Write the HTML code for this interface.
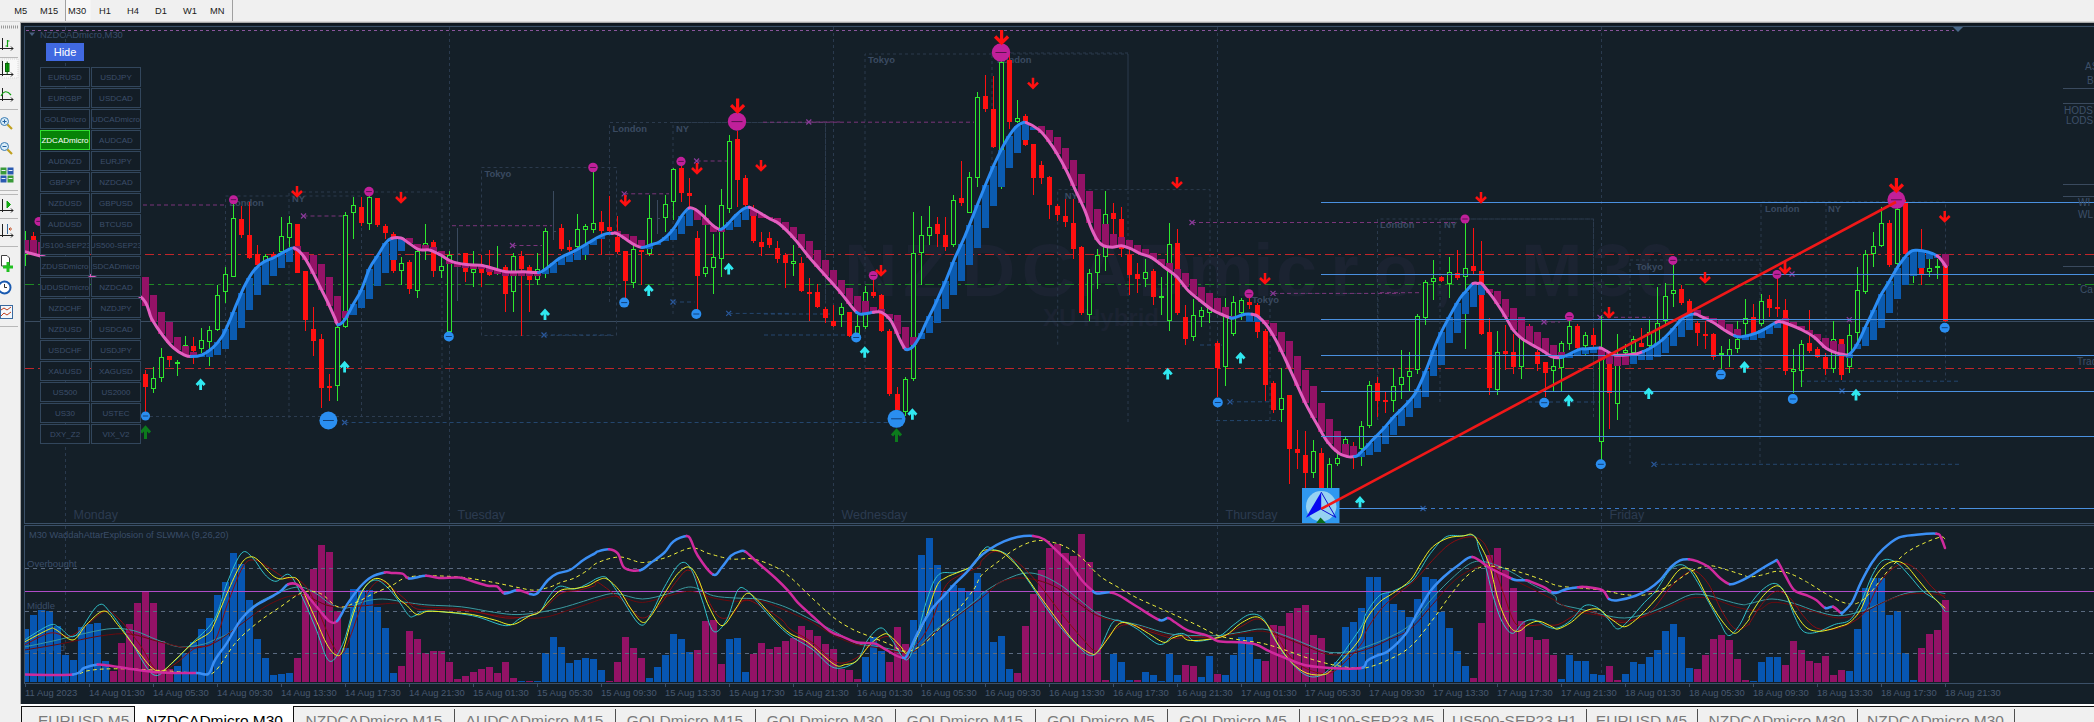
<!DOCTYPE html>
<html><head><meta charset="utf-8"><style>
html,body{margin:0;padding:0;width:2094px;height:722px;overflow:hidden;background:#f0f0f0;}
svg{position:absolute;left:0;top:0;display:block;}
text{font-family:"Liberation Sans",sans-serif;}
</style></head><body>
<svg width="2094" height="722" viewBox="0 0 2094 722"><rect x="0" y="0" width="2094" height="722" fill="#f0f0f0"/><rect x="21" y="23" width="2073" height="681" fill="#141f28"/><g shape-rendering="crispEdges"><rect x="0" y="21" width="2094" height="1" fill="#d8d8d8"/><rect x="21" y="22" width="2073" height="1" fill="#a8a8a8"/><rect x="21" y="23" width="2073" height="2" fill="#0f1720"/><rect x="20" y="22" width="1" height="682" fill="#a8a8a8"/><rect x="24.5" y="26.5" width="2094" height="497" fill="none" stroke="#3b5068" stroke-width="1"/><rect x="24.5" y="525.5" width="2094" height="158" fill="none" stroke="#3b5068" stroke-width="1"/></g><defs><clipPath id="pc"><rect x="25" y="27" width="2100" height="496"/></clipPath><clipPath id="ic"><rect x="25" y="526" width="2100" height="157"/></clipPath></defs><g clip-path="url(#pc)"><text x="844 903 962 1021.5 1079 1138 1188 1253 1276 1330 1373 1432 1521 1592 1636" y="295.5" font-family="Liberation Sans" font-weight="bold" font-size="74" fill="#1b2331">NZDCADmicro,M30</text><text x="1043" y="326" font-family="Liberation Sans" font-weight="bold" font-size="24" fill="#1b2331">XU Hybrid</text><line x1="65.5" y1="27" x2="65.5" y2="523" stroke="#2a3a4e" stroke-width="1" stroke-dasharray="3,3"/><line x1="449.5" y1="27" x2="449.5" y2="523" stroke="#2a3a4e" stroke-width="1" stroke-dasharray="3,3"/><line x1="833.5" y1="27" x2="833.5" y2="523" stroke="#2a3a4e" stroke-width="1" stroke-dasharray="3,3"/><line x1="1217.5" y1="27" x2="1217.5" y2="523" stroke="#2a3a4e" stroke-width="1" stroke-dasharray="3,3"/><line x1="1601.5" y1="27" x2="1601.5" y2="523" stroke="#2a3a4e" stroke-width="1" stroke-dasharray="3,3"/><line x1="26" y1="30.5" x2="1954" y2="30.5" stroke="#8a559c" stroke-width="1" stroke-dasharray="3,3"/><line x1="25" y1="254.5" x2="2094" y2="254.5" stroke="#c0262a" stroke-width="1" stroke-dasharray="9,4,3,4"/><line x1="25" y1="284.5" x2="2094" y2="284.5" stroke="#1f8a24" stroke-width="1" stroke-dasharray="9,4,3,4"/><line x1="25" y1="321.5" x2="2094" y2="321.5" stroke="#3a4c60" stroke-width="1"/><line x1="25" y1="368.5" x2="2094" y2="368.5" stroke="#c0262a" stroke-width="1" stroke-dasharray="9,4,3,4"/><path d="M225.5 418 V196 H361.5 V418" fill="none" stroke="#2b3a4d" stroke-width="1" stroke-dasharray="3,3"/><path d="M289 418 V192 H442 V418" fill="none" stroke="#2b3a4d" stroke-width="1" stroke-dasharray="3,3"/><path d="M481.5 335.5 V167.5 H616.5 V335.5 H481.5" fill="none" stroke="#2b3a4d" stroke-width="1" stroke-dasharray="3,3"/><path d="M609.5 302 V122.5 H825.5 V302" fill="none" stroke="#2b3a4d" stroke-width="1" stroke-dasharray="3,3"/><path d="M673 314 V122.5 H825.5 V314" fill="none" stroke="#2b3a4d" stroke-width="1" stroke-dasharray="3,3"/><path d="M865 422 V54 H1128 V422" fill="none" stroke="#2b3a4d" stroke-width="1" stroke-dasharray="3,3"/><path d="M992 190 V53 H1128 V190" fill="none" stroke="#2b3a4d" stroke-width="1" stroke-dasharray="3,3"/><path d="M1057.7 344.7 V189.6 H1210 V344.7" fill="none" stroke="#2b3a4d" stroke-width="1" stroke-dasharray="3,3"/><path d="M1270 420 V293.5 H1378 V420" fill="none" stroke="#2b3a4d" stroke-width="1" stroke-dasharray="3,3"/><path d="M1377.5 420 V219 H1593.5 V420" fill="none" stroke="#2b3a4d" stroke-width="1" stroke-dasharray="3,3"/><path d="M1440 402 V219 H1593.5 V402" fill="none" stroke="#2b3a4d" stroke-width="1" stroke-dasharray="3,3"/><path d="M1630 464 V260 H1760 V464" fill="none" stroke="#2b3a4d" stroke-width="1" stroke-dasharray="3,3"/><path d="M1761 399 V202 H1897.5 V399" fill="none" stroke="#2b3a4d" stroke-width="1" stroke-dasharray="3,3"/><path d="M1826 380 V202 H1945.5 V380" fill="none" stroke="#2b3a4d" stroke-width="1" stroke-dasharray="3,3"/><text x="229.4" y="206" font-family="Liberation Sans" font-weight="bold" font-size="9.4" fill="#3a4a61">London</text><text x="292" y="202" font-family="Liberation Sans" font-weight="bold" font-size="9.4" fill="#3a4a61">NY</text><text x="484.4" y="177" font-family="Liberation Sans" font-weight="bold" font-size="9.4" fill="#3a4a61">Tokyo</text><text x="612.5" y="131.5" font-family="Liberation Sans" font-weight="bold" font-size="9.4" fill="#3a4a61">London</text><text x="676" y="131.5" font-family="Liberation Sans" font-weight="bold" font-size="9.4" fill="#3a4a61">NY</text><text x="868" y="63" font-family="Liberation Sans" font-weight="bold" font-size="9.4" fill="#3a4a61">Tokyo</text><text x="997" y="63" font-family="Liberation Sans" font-weight="bold" font-size="9.4" fill="#3a4a61">London</text><text x="1064.8" y="199" font-family="Liberation Sans" font-weight="bold" font-size="9.4" fill="#3a4a61">NY</text><text x="1252" y="302.5" font-family="Liberation Sans" font-weight="bold" font-size="9.4" fill="#3a4a61">Tokyo</text><text x="1380" y="228" font-family="Liberation Sans" font-weight="bold" font-size="9.4" fill="#3a4a61">London</text><text x="1444" y="228" font-family="Liberation Sans" font-weight="bold" font-size="9.4" fill="#3a4a61">NY</text><text x="1636" y="269.5" font-family="Liberation Sans" font-weight="bold" font-size="9.4" fill="#3a4a61">Tokyo</text><text x="1765" y="212" font-family="Liberation Sans" font-weight="bold" font-size="9.4" fill="#3a4a61">London</text><text x="1828" y="212" font-family="Liberation Sans" font-weight="bold" font-size="9.4" fill="#3a4a61">NY</text><line x1="143" y1="205" x2="225.6" y2="205" stroke="#7a357a" stroke-width="1" stroke-dasharray="4,3"/><line x1="303.5" y1="216" x2="343" y2="216" stroke="#7a357a" stroke-width="1" stroke-dasharray="4,3"/><line x1="452" y1="225.7" x2="552" y2="225.7" stroke="#7a357a" stroke-width="1" stroke-dasharray="4,3"/><line x1="512.5" y1="245.5" x2="542" y2="245.5" stroke="#7a357a" stroke-width="1" stroke-dasharray="4,3"/><line x1="624.2" y1="193.8" x2="669" y2="193.8" stroke="#7a357a" stroke-width="1" stroke-dasharray="4,3"/><line x1="696.6" y1="161" x2="727" y2="161" stroke="#7a357a" stroke-width="1" stroke-dasharray="4,3"/><line x1="763" y1="122.2" x2="974" y2="122.2" stroke="#7a357a" stroke-width="1" stroke-dasharray="4,3"/><line x1="808.8" y1="122" x2="840" y2="122" stroke="#7a357a" stroke-width="1" stroke-dasharray="4,3"/><line x1="1192" y1="222.5" x2="1458" y2="222.5" stroke="#7a357a" stroke-width="1" stroke-dasharray="4,3"/><line x1="1273" y1="293.4" x2="1400" y2="293.4" stroke="#7a357a" stroke-width="1" stroke-dasharray="4,3"/><line x1="1544" y1="322" x2="1560" y2="322" stroke="#7a357a" stroke-width="1" stroke-dasharray="4,3"/><line x1="1600" y1="317.3" x2="1650" y2="317.3" stroke="#7a357a" stroke-width="1" stroke-dasharray="4,3"/><line x1="1380" y1="292.7" x2="1422" y2="292.7" stroke="#7a357a" stroke-width="1" stroke-dasharray="4,3"/><path d="M301.0 213.5 L306.0 218.5 M301.0 218.5 L306.0 213.5" stroke="#8a3a9a" stroke-width="1.2"/><path d="M510.0 243.0 L515.0 248.0 M510.0 248.0 L515.0 243.0" stroke="#8a3a9a" stroke-width="1.2"/><path d="M621.7 191.3 L626.7 196.3 M621.7 196.3 L626.7 191.3" stroke="#8a3a9a" stroke-width="1.2"/><path d="M694.1 158.5 L699.1 163.5 M694.1 163.5 L699.1 158.5" stroke="#8a3a9a" stroke-width="1.2"/><path d="M806.3 119.5 L811.3 124.5 M806.3 124.5 L811.3 119.5" stroke="#8a3a9a" stroke-width="1.2"/><path d="M1189.5 220.0 L1194.5 225.0 M1189.5 225.0 L1194.5 220.0" stroke="#8a3a9a" stroke-width="1.2"/><path d="M1270.5 290.9 L1275.5 295.9 M1270.5 295.9 L1275.5 290.9" stroke="#8a3a9a" stroke-width="1.2"/><path d="M1541.5 319.5 L1546.5 324.5 M1541.5 324.5 L1546.5 319.5" stroke="#8a3a9a" stroke-width="1.2"/><path d="M1597.5 314.8 L1602.5 319.8 M1597.5 319.8 L1602.5 314.8" stroke="#8a3a9a" stroke-width="1.2"/><path d="M1789.5 271.5 L1794.5 276.5 M1789.5 276.5 L1794.5 271.5" stroke="#8a3a9a" stroke-width="1.2"/><path d="M1846.8 317.2 L1851.8 322.2 M1846.8 322.2 L1851.8 317.2" stroke="#8a3a9a" stroke-width="1.2"/><path d="M541.5 332.5 L546.5 337.5 M541.5 337.5 L546.5 332.5" stroke="#2a5aa0" stroke-width="1.2"/><path d="M342.1 420.0 L347.1 425.0 M342.1 425.0 L347.1 420.0" stroke="#2a5aa0" stroke-width="1.2"/><path d="M670.5 299.5 L675.5 304.5 M670.5 304.5 L675.5 299.5" stroke="#2a5aa0" stroke-width="1.2"/><path d="M726.2 310.9 L731.2 315.9 M726.2 315.9 L731.2 310.9" stroke="#2a5aa0" stroke-width="1.2"/><path d="M1227.5 399.3 L1232.5 404.3 M1227.5 404.3 L1232.5 399.3" stroke="#2a5aa0" stroke-width="1.2"/><path d="M1651.5 461.8 L1656.5 466.8 M1651.5 466.8 L1656.5 461.8" stroke="#2a5aa0" stroke-width="1.2"/><path d="M1420.5 506.0 L1425.5 511.0 M1420.5 511.0 L1425.5 506.0" stroke="#2a5aa0" stroke-width="1.2"/><path d="M1839.5 388.5 L1844.5 393.5 M1839.5 393.5 L1844.5 388.5" stroke="#2a5aa0" stroke-width="1.2"/><line x1="150" y1="416.5" x2="442" y2="416.5" stroke="#2c3c50" stroke-width="1" stroke-dasharray="3,3"/><line x1="544" y1="335" x2="612" y2="335" stroke="#24466e" stroke-width="1" stroke-dasharray="4,3"/><line x1="673" y1="302" x2="694.5" y2="302" stroke="#24466e" stroke-width="1" stroke-dasharray="4,3"/><line x1="728.7" y1="313.4" x2="790" y2="313.4" stroke="#24466e" stroke-width="1" stroke-dasharray="4,3"/><line x1="764" y1="314" x2="830" y2="314" stroke="#24466e" stroke-width="1" stroke-dasharray="4,3"/><line x1="764" y1="335" x2="860" y2="335" stroke="#24466e" stroke-width="1" stroke-dasharray="4,3"/><line x1="344.6" y1="422.5" x2="896" y2="422.5" stroke="#24466e" stroke-width="1" stroke-dasharray="4,3"/><line x1="1216" y1="420.6" x2="1280" y2="420.6" stroke="#24466e" stroke-width="1" stroke-dasharray="4,3"/><line x1="1230" y1="401.8" x2="1280" y2="401.8" stroke="#24466e" stroke-width="1" stroke-dasharray="4,3"/><line x1="1528" y1="402" x2="1600" y2="402" stroke="#24466e" stroke-width="1" stroke-dasharray="4,3"/><line x1="1654" y1="464.3" x2="1960" y2="464.3" stroke="#24466e" stroke-width="1" stroke-dasharray="4,3"/><line x1="1800" y1="381.2" x2="1961" y2="381.2" stroke="#24466e" stroke-width="1" stroke-dasharray="4,3"/><line x1="1200" y1="345" x2="1222" y2="345" stroke="#24466e" stroke-width="1" stroke-dasharray="4,3"/><g shape-rendering="crispEdges"><rect x="25" y="231" width="1" height="35" fill="#2ee82e"/><rect x="23.5" y="240.5" width="4" height="14" fill="#141f28" stroke="#2ee82e" stroke-width="1"/><rect x="33" y="232" width="1" height="16" fill="#ff1010"/><rect x="31" y="236" width="5" height="9" fill="#ff1010"/><rect x="145" y="370" width="1" height="44" fill="#ff1010"/><rect x="143" y="374" width="5" height="13" fill="#ff1010"/><rect x="153" y="367" width="1" height="25.6" fill="#2ee82e"/><rect x="151.5" y="378.5" width="4" height="10" fill="#141f28" stroke="#2ee82e" stroke-width="1"/><rect x="161" y="347.6" width="1" height="34.2" fill="#2ee82e"/><rect x="159.5" y="357.1" width="4" height="20.4" fill="#141f28" stroke="#2ee82e" stroke-width="1"/><rect x="169" y="356" width="1" height="11" fill="#ff1010"/><rect x="167" y="356" width="5" height="3.5" fill="#ff1010"/><rect x="177" y="360" width="1" height="16" fill="#2ee82e"/><rect x="175.5" y="362.5" width="4" height="1" fill="#141f28" stroke="#2ee82e" stroke-width="1"/><rect x="185" y="336" width="1" height="16" fill="#2ee82e"/><rect x="183.5" y="345.5" width="4" height="4" fill="#141f28" stroke="#2ee82e" stroke-width="1"/><rect x="193" y="336.8" width="1" height="27" fill="#ff1010"/><rect x="191" y="345.8" width="5" height="5.2" fill="#ff1010"/><rect x="201" y="327.7" width="1" height="25.3" fill="#2ee82e"/><rect x="199.5" y="340.5" width="4" height="8.4" fill="#141f28" stroke="#2ee82e" stroke-width="1"/><rect x="209" y="326" width="1" height="39.6" fill="#2ee82e"/><rect x="207.5" y="330" width="4" height="11.5" fill="#141f28" stroke="#2ee82e" stroke-width="1"/><rect x="217" y="284.5" width="1" height="46.5" fill="#2ee82e"/><rect x="215.5" y="295.1" width="4" height="33.9" fill="#141f28" stroke="#2ee82e" stroke-width="1"/><rect x="225" y="266.5" width="1" height="36" fill="#2ee82e"/><rect x="223.5" y="274.9" width="4" height="17" fill="#141f28" stroke="#2ee82e" stroke-width="1"/><rect x="233" y="199.7" width="1" height="77.3" fill="#2ee82e"/><rect x="231.5" y="218.3" width="4" height="57.8" fill="#141f28" stroke="#2ee82e" stroke-width="1"/><rect x="241" y="205.8" width="1" height="32.1" fill="#ff1010"/><rect x="239" y="218.8" width="5" height="16" fill="#ff1010"/><rect x="249" y="202" width="1" height="57.3" fill="#ff1010"/><rect x="247" y="234.8" width="5" height="22.7" fill="#ff1010"/><rect x="257" y="245" width="1" height="21.5" fill="#ff1010"/><rect x="255" y="253.9" width="5" height="10.8" fill="#ff1010"/><rect x="265" y="254" width="1" height="10" fill="#2ee82e"/><rect x="263.5" y="256.2" width="4" height="6.2" fill="#141f28" stroke="#2ee82e" stroke-width="1"/><rect x="273" y="252" width="1" height="6" fill="#ff1010"/><rect x="271" y="254" width="5" height="2.8" fill="#ff1010"/><rect x="281" y="216.5" width="1" height="39.2" fill="#2ee82e"/><rect x="279.5" y="236.4" width="4" height="15.1" fill="#141f28" stroke="#2ee82e" stroke-width="1"/><rect x="289" y="216" width="1" height="30.7" fill="#2ee82e"/><rect x="287.5" y="223.5" width="4" height="13.9" fill="#141f28" stroke="#2ee82e" stroke-width="1"/><rect x="297" y="224" width="1" height="49" fill="#ff1010"/><rect x="295" y="224" width="5" height="48.7" fill="#ff1010"/><rect x="305" y="271" width="1" height="60" fill="#ff1010"/><rect x="303" y="271" width="5" height="48.5" fill="#ff1010"/><rect x="313" y="307" width="1" height="48.6" fill="#ff1010"/><rect x="311" y="328.6" width="5" height="12.4" fill="#ff1010"/><rect x="321" y="334" width="1" height="74" fill="#ff1010"/><rect x="319" y="339.4" width="5" height="48.6" fill="#ff1010"/><rect x="329" y="373.6" width="1" height="27" fill="#ff1010"/><rect x="327" y="385.5" width="5" height="2.5" fill="#ff1010"/><rect x="337" y="325" width="1" height="75.6" fill="#2ee82e"/><rect x="335.5" y="327.3" width="4" height="58.2" fill="#141f28" stroke="#2ee82e" stroke-width="1"/><rect x="345" y="212" width="1" height="116" fill="#2ee82e"/><rect x="343.5" y="215.5" width="4" height="110.8" fill="#141f28" stroke="#2ee82e" stroke-width="1"/><rect x="353" y="196.6" width="1" height="42" fill="#2ee82e"/><rect x="351.5" y="205.8" width="4" height="7.1" fill="#141f28" stroke="#2ee82e" stroke-width="1"/><rect x="361" y="196.6" width="1" height="29.4" fill="#ff1010"/><rect x="359" y="207.3" width="5" height="15.3" fill="#ff1010"/><rect x="369" y="191.6" width="1" height="37.9" fill="#2ee82e"/><rect x="367.5" y="197.9" width="4" height="25.6" fill="#141f28" stroke="#2ee82e" stroke-width="1"/><rect x="377" y="198" width="1" height="29" fill="#ff1010"/><rect x="375" y="198" width="5" height="27" fill="#ff1010"/><rect x="385" y="224" width="1" height="14.5" fill="#ff1010"/><rect x="383" y="225.6" width="5" height="7.7" fill="#ff1010"/><rect x="393" y="232" width="1" height="41" fill="#ff1010"/><rect x="391" y="234" width="5" height="37" fill="#ff1010"/><rect x="401" y="256.5" width="1" height="28.8" fill="#2ee82e"/><rect x="399.5" y="263.5" width="4" height="7" fill="#141f28" stroke="#2ee82e" stroke-width="1"/><rect x="409" y="260" width="1" height="34" fill="#ff1010"/><rect x="407" y="262" width="5" height="27" fill="#ff1010"/><rect x="417" y="247.5" width="1" height="50.5" fill="#2ee82e"/><rect x="415.5" y="251.5" width="4" height="38.7" fill="#141f28" stroke="#2ee82e" stroke-width="1"/><rect x="425" y="224" width="1" height="36" fill="#2ee82e"/><rect x="423.5" y="243.5" width="4" height="3.8" fill="#141f28" stroke="#2ee82e" stroke-width="1"/><rect x="433" y="240" width="1" height="37.4" fill="#ff1010"/><rect x="431" y="241.7" width="5" height="29.3" fill="#ff1010"/><rect x="441" y="255" width="1" height="23" fill="#2ee82e"/><rect x="439.5" y="266" width="4" height="4.5" fill="#141f28" stroke="#2ee82e" stroke-width="1"/><rect x="449" y="251" width="1" height="84.6" fill="#2ee82e"/><rect x="447.5" y="255.2" width="4" height="76.3" fill="#141f28" stroke="#2ee82e" stroke-width="1"/><rect x="457" y="227.5" width="1" height="73.5" fill="#3a4a5e"/><rect x="457" y="253" width="3" height="1" fill="#3a4a5e"/><rect x="465" y="253" width="1" height="28.5" fill="#ff1010"/><rect x="463" y="253.3" width="5" height="18.7" fill="#ff1010"/><rect x="473" y="251" width="1" height="36" fill="#2ee82e"/><rect x="471.5" y="269.5" width="4" height="2.5" fill="#141f28" stroke="#2ee82e" stroke-width="1"/><rect x="481" y="254.5" width="1" height="32.5" fill="#ff1010"/><rect x="479" y="267" width="5" height="5.5" fill="#ff1010"/><rect x="489" y="250" width="1" height="26" fill="#ff1010"/><rect x="487" y="270.4" width="5" height="4.5" fill="#ff1010"/><rect x="497" y="246" width="1" height="29.4" fill="#2ee82e"/><rect x="495.5" y="270.5" width="4" height="2.8" fill="#141f28" stroke="#2ee82e" stroke-width="1"/><rect x="505" y="265" width="1" height="47" fill="#ff1010"/><rect x="503" y="267" width="5" height="27" fill="#ff1010"/><rect x="513" y="252.7" width="1" height="59.3" fill="#2ee82e"/><rect x="511.5" y="256.8" width="4" height="35" fill="#141f28" stroke="#2ee82e" stroke-width="1"/><rect x="521" y="251" width="1" height="84.6" fill="#ff1010"/><rect x="519" y="256.3" width="5" height="12.7" fill="#ff1010"/><rect x="529" y="265.3" width="1" height="46.7" fill="#ff1010"/><rect x="527" y="267" width="5" height="12.7" fill="#ff1010"/><rect x="537" y="252.7" width="1" height="32.3" fill="#2ee82e"/><rect x="535.5" y="269.5" width="4" height="9.7" fill="#141f28" stroke="#2ee82e" stroke-width="1"/><rect x="545" y="227.5" width="1" height="50.5" fill="#2ee82e"/><rect x="543.5" y="231.5" width="4" height="40.5" fill="#141f28" stroke="#2ee82e" stroke-width="1"/><rect x="553" y="190.7" width="1" height="48.8" fill="#3a4a5e"/><rect x="553" y="231" width="3" height="1" fill="#3a4a5e"/><rect x="561" y="224" width="1" height="27" fill="#ff1010"/><rect x="559" y="227.5" width="5" height="21.5" fill="#ff1010"/><rect x="569" y="240" width="1" height="12.7" fill="#ff1010"/><rect x="567" y="246.6" width="5" height="3.6" fill="#ff1010"/><rect x="577" y="214" width="1" height="37" fill="#2ee82e"/><rect x="575.5" y="229.1" width="4" height="17" fill="#141f28" stroke="#2ee82e" stroke-width="1"/><rect x="585" y="224" width="1" height="36" fill="#2ee82e"/><rect x="583.5" y="226.2" width="4" height="3.3" fill="#141f28" stroke="#2ee82e" stroke-width="1"/><rect x="593" y="171.6" width="1" height="61.4" fill="#2ee82e"/><rect x="591.5" y="223.3" width="4" height="6.2" fill="#141f28" stroke="#2ee82e" stroke-width="1"/><rect x="601" y="211" width="1" height="43.5" fill="#ff1010"/><rect x="599" y="222" width="5" height="9" fill="#ff1010"/><rect x="609" y="196" width="1" height="36" fill="#ff1010"/><rect x="607" y="227" width="5" height="3.5" fill="#ff1010"/><rect x="617" y="216" width="1" height="38" fill="#ff1010"/><rect x="615" y="237" width="5" height="15" fill="#ff1010"/><rect x="625" y="251" width="1" height="48" fill="#ff1010"/><rect x="623" y="251.4" width="5" height="29.6" fill="#ff1010"/><rect x="633" y="245" width="1" height="43" fill="#2ee82e"/><rect x="631.5" y="249.1" width="4" height="33.2" fill="#141f28" stroke="#2ee82e" stroke-width="1"/><rect x="641" y="250" width="1" height="34.6" fill="#ff1010"/><rect x="639" y="250" width="5" height="2" fill="#ff1010"/><rect x="649" y="194.5" width="1" height="61.3" fill="#2ee82e"/><rect x="647.5" y="218.5" width="4" height="35" fill="#141f28" stroke="#2ee82e" stroke-width="1"/><rect x="657" y="200.4" width="1" height="33.9" fill="#3a4a5e"/><rect x="657" y="217.7" width="3" height="1" fill="#3a4a5e"/><rect x="665" y="194.5" width="1" height="37.5" fill="#2ee82e"/><rect x="663.5" y="204" width="4" height="13.5" fill="#141f28" stroke="#2ee82e" stroke-width="1"/><rect x="673" y="167.5" width="1" height="52.2" fill="#2ee82e"/><rect x="671.5" y="169.8" width="4" height="31.4" fill="#141f28" stroke="#2ee82e" stroke-width="1"/><rect x="681" y="165.7" width="1" height="36" fill="#ff1010"/><rect x="679" y="167.5" width="5" height="25.2" fill="#ff1010"/><rect x="689" y="178.3" width="1" height="30.7" fill="#ff1010"/><rect x="687" y="192.7" width="5" height="3.6" fill="#ff1010"/><rect x="697" y="230.5" width="1" height="79.3" fill="#ff1010"/><rect x="695" y="237.7" width="5" height="37.9" fill="#ff1010"/><rect x="705" y="205.3" width="1" height="72.1" fill="#2ee82e"/><rect x="703.5" y="267.1" width="4" height="6.2" fill="#141f28" stroke="#2ee82e" stroke-width="1"/><rect x="713" y="234" width="1" height="59.6" fill="#2ee82e"/><rect x="711.5" y="257" width="4" height="10.9" fill="#141f28" stroke="#2ee82e" stroke-width="1"/><rect x="721" y="189" width="1" height="88.4" fill="#2ee82e"/><rect x="719.5" y="205.8" width="4" height="53.1" fill="#141f28" stroke="#2ee82e" stroke-width="1"/><rect x="729" y="135" width="1" height="77.5" fill="#2ee82e"/><rect x="727.5" y="141" width="4" height="67.5" fill="#141f28" stroke="#2ee82e" stroke-width="1"/><rect x="737" y="131.4" width="1" height="75.6" fill="#ff1010"/><rect x="735" y="138.6" width="5" height="41.4" fill="#ff1010"/><rect x="745" y="174.7" width="1" height="34.3" fill="#ff1010"/><rect x="743" y="178.3" width="5" height="27" fill="#ff1010"/><rect x="753" y="205.3" width="1" height="37.7" fill="#ff1010"/><rect x="751" y="214.3" width="5" height="27.1" fill="#ff1010"/><rect x="761" y="232.3" width="1" height="23.5" fill="#ff1010"/><rect x="759" y="242" width="5" height="4.8" fill="#ff1010"/><rect x="769" y="232" width="1" height="16" fill="#ff1010"/><rect x="767" y="238" width="5" height="7" fill="#ff1010"/><rect x="777" y="241.4" width="1" height="21.3" fill="#ff1010"/><rect x="775" y="248.3" width="5" height="10.5" fill="#ff1010"/><rect x="785" y="253" width="1" height="34.8" fill="#ff1010"/><rect x="783" y="255" width="5" height="7.7" fill="#ff1010"/><rect x="793" y="245.2" width="1" height="31" fill="#2ee82e"/><rect x="791.5" y="261.2" width="4" height="2.1" fill="#141f28" stroke="#2ee82e" stroke-width="1"/><rect x="801" y="256.9" width="1" height="34.8" fill="#ff1010"/><rect x="799" y="262.7" width="5" height="27.9" fill="#ff1010"/><rect x="809" y="278" width="1" height="42.8" fill="#ff1010"/><rect x="807" y="291.7" width="5" height="2" fill="#ff1010"/><rect x="817" y="284" width="1" height="24" fill="#ff1010"/><rect x="815" y="291.7" width="5" height="14.8" fill="#ff1010"/><rect x="825" y="307" width="1" height="15.7" fill="#ff1010"/><rect x="823" y="309.2" width="5" height="8.8" fill="#ff1010"/><rect x="833" y="305.3" width="1" height="21.3" fill="#ff1010"/><rect x="831" y="320.8" width="5" height="5" fill="#ff1010"/><rect x="841" y="303.4" width="1" height="23.2" fill="#2ee82e"/><rect x="839.5" y="307" width="4" height="7.5" fill="#141f28" stroke="#2ee82e" stroke-width="1"/><rect x="849" y="312" width="1" height="25" fill="#ff1010"/><rect x="847" y="312.3" width="5" height="24" fill="#ff1010"/><rect x="857" y="315" width="1" height="19.4" fill="#2ee82e"/><rect x="855.5" y="326.3" width="4" height="6.8" fill="#141f28" stroke="#2ee82e" stroke-width="1"/><rect x="865" y="286" width="1" height="42.5" fill="#2ee82e"/><rect x="863.5" y="292.2" width="4" height="33.9" fill="#141f28" stroke="#2ee82e" stroke-width="1"/><rect x="873" y="280" width="1" height="17.5" fill="#ff1010"/><rect x="871" y="291.7" width="5" height="4.7" fill="#ff1010"/><rect x="881" y="293.7" width="1" height="38.7" fill="#ff1010"/><rect x="879" y="294.8" width="5" height="35.7" fill="#ff1010"/><rect x="889" y="328.5" width="1" height="67.8" fill="#ff1010"/><rect x="887" y="330.5" width="5" height="63.9" fill="#ff1010"/><rect x="897" y="386.7" width="1" height="30.9" fill="#ff1010"/><rect x="895" y="394.4" width="5" height="15.6" fill="#ff1010"/><rect x="905" y="377" width="1" height="38.7" fill="#2ee82e"/><rect x="903.5" y="379.5" width="4" height="31.8" fill="#141f28" stroke="#2ee82e" stroke-width="1"/><rect x="913" y="212.3" width="1" height="168.5" fill="#2ee82e"/><rect x="911.5" y="253.5" width="4" height="125" fill="#141f28" stroke="#2ee82e" stroke-width="1"/><rect x="921" y="216.4" width="1" height="68.1" fill="#2ee82e"/><rect x="919.5" y="235.2" width="4" height="17.3" fill="#141f28" stroke="#2ee82e" stroke-width="1"/><rect x="929" y="206" width="1" height="38.5" fill="#2ee82e"/><rect x="927.5" y="227" width="4" height="8.5" fill="#141f28" stroke="#2ee82e" stroke-width="1"/><rect x="937" y="216.6" width="1" height="30" fill="#ff1010"/><rect x="935" y="224" width="5" height="9.8" fill="#ff1010"/><rect x="945" y="216.6" width="1" height="34.4" fill="#ff1010"/><rect x="943" y="235" width="5" height="11.6" fill="#ff1010"/><rect x="953" y="195" width="1" height="51.6" fill="#2ee82e"/><rect x="951.5" y="200" width="4" height="44" fill="#141f28" stroke="#2ee82e" stroke-width="1"/><rect x="961" y="160.8" width="1" height="45.2" fill="#ff1010"/><rect x="959" y="198" width="5" height="4.5" fill="#ff1010"/><rect x="969" y="171.6" width="1" height="41.4" fill="#2ee82e"/><rect x="967.5" y="177" width="4" height="35.5" fill="#141f28" stroke="#2ee82e" stroke-width="1"/><rect x="977" y="92" width="1" height="94.6" fill="#2ee82e"/><rect x="975.5" y="97" width="4" height="80.5" fill="#141f28" stroke="#2ee82e" stroke-width="1"/><rect x="985" y="75" width="1" height="36.5" fill="#ff1010"/><rect x="983" y="95.6" width="5" height="13.8" fill="#ff1010"/><rect x="993" y="75.8" width="1" height="72.2" fill="#ff1010"/><rect x="991" y="108.5" width="5" height="38.2" fill="#ff1010"/><rect x="1001" y="49.3" width="1" height="139.4" fill="#2ee82e"/><rect x="999.5" y="62.5" width="4" height="123.6" fill="#141f28" stroke="#2ee82e" stroke-width="1"/><rect x="1009" y="51.5" width="1" height="77.2" fill="#ff1010"/><rect x="1007" y="60" width="5" height="62.2" fill="#ff1010"/><rect x="1017" y="99.5" width="1" height="23.1" fill="#2ee82e"/><rect x="1015.5" y="118.5" width="4" height="3.2" fill="#141f28" stroke="#2ee82e" stroke-width="1"/><rect x="1025" y="114" width="1" height="32" fill="#ff1010"/><rect x="1023" y="115.8" width="5" height="29.2" fill="#ff1010"/><rect x="1033" y="143.7" width="1" height="51.3" fill="#ff1010"/><rect x="1031" y="143.7" width="5" height="34.3" fill="#ff1010"/><rect x="1041" y="160.8" width="1" height="23.6" fill="#ff1010"/><rect x="1039" y="165" width="5" height="13" fill="#ff1010"/><rect x="1049" y="176" width="1" height="42.8" fill="#ff1010"/><rect x="1047" y="176.7" width="5" height="28.3" fill="#ff1010"/><rect x="1057" y="203.7" width="1" height="17.3" fill="#ff1010"/><rect x="1055" y="206" width="5" height="9.3" fill="#ff1010"/><rect x="1065" y="198.5" width="1" height="28.2" fill="#ff1010"/><rect x="1063" y="215.8" width="5" height="6.1" fill="#ff1010"/><rect x="1073" y="198.5" width="1" height="60.3" fill="#ff1010"/><rect x="1071" y="222.7" width="5" height="26.1" fill="#ff1010"/><rect x="1081" y="246" width="1" height="69" fill="#ff1010"/><rect x="1079" y="246.8" width="5" height="66.2" fill="#ff1010"/><rect x="1089" y="269" width="1" height="52.2" fill="#2ee82e"/><rect x="1087.5" y="273.5" width="4" height="41" fill="#141f28" stroke="#2ee82e" stroke-width="1"/><rect x="1097" y="248.8" width="1" height="40.2" fill="#2ee82e"/><rect x="1095.5" y="255.3" width="4" height="17.2" fill="#141f28" stroke="#2ee82e" stroke-width="1"/><rect x="1105" y="190.5" width="1" height="80.5" fill="#2ee82e"/><rect x="1103.5" y="214.3" width="4" height="42" fill="#141f28" stroke="#2ee82e" stroke-width="1"/><rect x="1113" y="202.6" width="1" height="32.1" fill="#ff1010"/><rect x="1111" y="212.6" width="5" height="6.8" fill="#ff1010"/><rect x="1121" y="206.6" width="1" height="50.2" fill="#ff1010"/><rect x="1119" y="218.6" width="5" height="30.2" fill="#ff1010"/><rect x="1129" y="248.8" width="1" height="46.2" fill="#ff1010"/><rect x="1127" y="254.8" width="5" height="20.2" fill="#ff1010"/><rect x="1137" y="262.9" width="1" height="30.1" fill="#ff1010"/><rect x="1135" y="274" width="5" height="5" fill="#ff1010"/><rect x="1145" y="258.8" width="1" height="28.2" fill="#2ee82e"/><rect x="1143.5" y="272.2" width="4" height="6.3" fill="#141f28" stroke="#2ee82e" stroke-width="1"/><rect x="1153" y="269" width="1" height="36" fill="#ff1010"/><rect x="1151" y="270.9" width="5" height="26.1" fill="#ff1010"/><rect x="1161" y="277" width="1" height="38" fill="#2ee82e"/><rect x="1159.5" y="296.5" width="4" height="1" fill="#141f28" stroke="#2ee82e" stroke-width="1"/><rect x="1169" y="222.7" width="1" height="108.5" fill="#2ee82e"/><rect x="1167.5" y="244.5" width="4" height="76" fill="#141f28" stroke="#2ee82e" stroke-width="1"/><rect x="1177" y="228.7" width="1" height="86.3" fill="#ff1010"/><rect x="1175" y="242.8" width="5" height="70.2" fill="#ff1010"/><rect x="1185" y="305" width="1" height="40.3" fill="#ff1010"/><rect x="1183" y="317" width="5" height="22.2" fill="#ff1010"/><rect x="1193" y="299" width="1" height="42.3" fill="#2ee82e"/><rect x="1191.5" y="315.5" width="4" height="21" fill="#141f28" stroke="#2ee82e" stroke-width="1"/><rect x="1201" y="307" width="1" height="20" fill="#2ee82e"/><rect x="1199.5" y="310.8" width="4" height="5.7" fill="#141f28" stroke="#2ee82e" stroke-width="1"/><rect x="1209" y="299" width="1" height="24" fill="#2ee82e"/><rect x="1207.5" y="307.5" width="4" height="5" fill="#141f28" stroke="#2ee82e" stroke-width="1"/><rect x="1217" y="341.3" width="1" height="55.7" fill="#ff1010"/><rect x="1215" y="343.3" width="5" height="25" fill="#ff1010"/><rect x="1225" y="298" width="1" height="88.3" fill="#2ee82e"/><rect x="1223.5" y="316.5" width="4" height="49.5" fill="#141f28" stroke="#2ee82e" stroke-width="1"/><rect x="1233" y="296" width="1" height="40" fill="#2ee82e"/><rect x="1231.5" y="302.1" width="4" height="31.4" fill="#141f28" stroke="#2ee82e" stroke-width="1"/><rect x="1241" y="298" width="1" height="21.7" fill="#2ee82e"/><rect x="1239.5" y="300.3" width="4" height="11.7" fill="#141f28" stroke="#2ee82e" stroke-width="1"/><rect x="1249" y="298" width="1" height="10.8" fill="#ff1010"/><rect x="1247" y="301.6" width="5" height="3.4" fill="#ff1010"/><rect x="1257" y="303.4" width="1" height="34.3" fill="#ff1010"/><rect x="1255" y="305.2" width="5" height="27.1" fill="#ff1010"/><rect x="1265" y="328.7" width="1" height="72" fill="#ff1010"/><rect x="1263" y="330.5" width="5" height="54" fill="#ff1010"/><rect x="1273" y="381" width="1" height="32.3" fill="#ff1010"/><rect x="1271" y="382.7" width="5" height="27" fill="#ff1010"/><rect x="1281" y="368.3" width="1" height="54.1" fill="#2ee82e"/><rect x="1279.5" y="398.7" width="4" height="10.5" fill="#141f28" stroke="#2ee82e" stroke-width="1"/><rect x="1289" y="395.3" width="1" height="88.3" fill="#ff1010"/><rect x="1287" y="395.3" width="5" height="54.1" fill="#ff1010"/><rect x="1297" y="429.6" width="1" height="39.6" fill="#ff1010"/><rect x="1295" y="449.4" width="5" height="3.6" fill="#ff1010"/><rect x="1305" y="431.4" width="1" height="56.1" fill="#ff1010"/><rect x="1303" y="454.8" width="5" height="18" fill="#ff1010"/><rect x="1313" y="440.4" width="1" height="37.8" fill="#2ee82e"/><rect x="1311.5" y="451.7" width="4" height="20.6" fill="#141f28" stroke="#2ee82e" stroke-width="1"/><rect x="1321" y="447.6" width="1" height="48.6" fill="#ff1010"/><rect x="1319" y="453" width="5" height="39.6" fill="#ff1010"/><rect x="1329" y="458" width="1" height="38" fill="#2ee82e"/><rect x="1327.5" y="464.3" width="4" height="27.8" fill="#141f28" stroke="#2ee82e" stroke-width="1"/><rect x="1337" y="442.2" width="1" height="23.4" fill="#2ee82e"/><rect x="1335.5" y="458.9" width="4" height="4.4" fill="#141f28" stroke="#2ee82e" stroke-width="1"/><rect x="1345" y="436" width="1" height="15" fill="#2ee82e"/><rect x="1343.5" y="439.1" width="4" height="9.8" fill="#141f28" stroke="#2ee82e" stroke-width="1"/><rect x="1353" y="442.2" width="1" height="27" fill="#ff1010"/><rect x="1351" y="445.8" width="5" height="5.4" fill="#ff1010"/><rect x="1361" y="420.6" width="1" height="45" fill="#2ee82e"/><rect x="1359.5" y="426.5" width="4" height="22.4" fill="#141f28" stroke="#2ee82e" stroke-width="1"/><rect x="1369" y="381" width="1" height="46.8" fill="#2ee82e"/><rect x="1367.5" y="385" width="4" height="40.5" fill="#141f28" stroke="#2ee82e" stroke-width="1"/><rect x="1377" y="377.4" width="1" height="39.6" fill="#ff1010"/><rect x="1375" y="382.8" width="5" height="18" fill="#ff1010"/><rect x="1385" y="391.8" width="1" height="21.6" fill="#ff1010"/><rect x="1383" y="399.7" width="5" height="2.3" fill="#ff1010"/><rect x="1393" y="368.4" width="1" height="43.2" fill="#2ee82e"/><rect x="1391.5" y="386.9" width="4" height="13.4" fill="#141f28" stroke="#2ee82e" stroke-width="1"/><rect x="1401" y="350.4" width="1" height="48.6" fill="#2ee82e"/><rect x="1399.5" y="377.9" width="4" height="6.2" fill="#141f28" stroke="#2ee82e" stroke-width="1"/><rect x="1409" y="352" width="1" height="39.8" fill="#2ee82e"/><rect x="1407.5" y="371.5" width="4" height="5.4" fill="#141f28" stroke="#2ee82e" stroke-width="1"/><rect x="1417" y="314.3" width="1" height="59.5" fill="#2ee82e"/><rect x="1415.5" y="316.5" width="4" height="53.2" fill="#141f28" stroke="#2ee82e" stroke-width="1"/><rect x="1425" y="280" width="1" height="45" fill="#2ee82e"/><rect x="1423.5" y="282.4" width="4" height="35.1" fill="#141f28" stroke="#2ee82e" stroke-width="1"/><rect x="1433" y="260.3" width="1" height="39.7" fill="#2ee82e"/><rect x="1431.5" y="278.8" width="4" height="2.7" fill="#141f28" stroke="#2ee82e" stroke-width="1"/><rect x="1441" y="276" width="1" height="6" fill="#ff1010"/><rect x="1439" y="277.2" width="5" height="3.6" fill="#ff1010"/><rect x="1449" y="256.7" width="1" height="41.3" fill="#2ee82e"/><rect x="1447.5" y="272.5" width="4" height="10.7" fill="#141f28" stroke="#2ee82e" stroke-width="1"/><rect x="1457" y="249.5" width="1" height="30.5" fill="#ff1010"/><rect x="1455" y="272.9" width="5" height="5.4" fill="#ff1010"/><rect x="1465" y="220.6" width="1" height="128" fill="#2ee82e"/><rect x="1463.5" y="268" width="4" height="8" fill="#141f28" stroke="#2ee82e" stroke-width="1"/><rect x="1473" y="227.8" width="1" height="46.9" fill="#ff1010"/><rect x="1471" y="266.4" width="5" height="4.6" fill="#ff1010"/><rect x="1481" y="240.5" width="1" height="94.5" fill="#ff1010"/><rect x="1479" y="271" width="5" height="63" fill="#ff1010"/><rect x="1489" y="318" width="1" height="77.4" fill="#ff1010"/><rect x="1487" y="332.3" width="5" height="55.9" fill="#ff1010"/><rect x="1497" y="330.5" width="1" height="64.9" fill="#2ee82e"/><rect x="1495.5" y="352.5" width="4" height="37" fill="#141f28" stroke="#2ee82e" stroke-width="1"/><rect x="1505" y="325" width="1" height="45.2" fill="#ff1010"/><rect x="1503" y="351.4" width="5" height="2.6" fill="#ff1010"/><rect x="1513" y="334" width="1" height="39.8" fill="#ff1010"/><rect x="1511" y="352" width="5" height="14.6" fill="#ff1010"/><rect x="1521" y="334" width="1" height="45.2" fill="#2ee82e"/><rect x="1519.5" y="338.2" width="4" height="27.9" fill="#141f28" stroke="#2ee82e" stroke-width="1"/><rect x="1529" y="324" width="1" height="21" fill="#ff1010"/><rect x="1527" y="326" width="5" height="16.5" fill="#ff1010"/><rect x="1537" y="349.7" width="1" height="21.7" fill="#ff1010"/><rect x="1535" y="351.5" width="5" height="12.5" fill="#ff1010"/><rect x="1545" y="362" width="1" height="34.6" fill="#ff1010"/><rect x="1543" y="362.3" width="5" height="10.9" fill="#ff1010"/><rect x="1553" y="357" width="1" height="34.2" fill="#2ee82e"/><rect x="1551.5" y="366.5" width="4" height="4.4" fill="#141f28" stroke="#2ee82e" stroke-width="1"/><rect x="1561" y="340.7" width="1" height="50.5" fill="#2ee82e"/><rect x="1559.5" y="343" width="4" height="24.2" fill="#141f28" stroke="#2ee82e" stroke-width="1"/><rect x="1569" y="321" width="1" height="28.7" fill="#2ee82e"/><rect x="1567.5" y="326.8" width="4" height="17" fill="#141f28" stroke="#2ee82e" stroke-width="1"/><rect x="1577" y="324" width="1" height="26" fill="#ff1010"/><rect x="1575" y="326.3" width="5" height="21.7" fill="#ff1010"/><rect x="1585" y="331.7" width="1" height="23.3" fill="#2ee82e"/><rect x="1583.5" y="335.1" width="4" height="10.4" fill="#141f28" stroke="#2ee82e" stroke-width="1"/><rect x="1593" y="328" width="1" height="20" fill="#ff1010"/><rect x="1591" y="335.3" width="5" height="10.1" fill="#ff1010"/><rect x="1601" y="315.5" width="1" height="149.5" fill="#2ee82e"/><rect x="1599.5" y="357.5" width="4" height="83.6" fill="#141f28" stroke="#2ee82e" stroke-width="1"/><rect x="1609" y="353.3" width="1" height="75.7" fill="#ff1010"/><rect x="1607" y="358.7" width="5" height="34.3" fill="#ff1010"/><rect x="1617" y="333.5" width="1" height="86.5" fill="#2ee82e"/><rect x="1615.5" y="364.5" width="4" height="38.8" fill="#141f28" stroke="#2ee82e" stroke-width="1"/><rect x="1625" y="344.3" width="1" height="16.2" fill="#2ee82e"/><rect x="1623.5" y="350.2" width="4" height="1.9" fill="#141f28" stroke="#2ee82e" stroke-width="1"/><rect x="1633" y="336" width="1" height="18" fill="#2ee82e"/><rect x="1631.5" y="339.5" width="4" height="12.6" fill="#141f28" stroke="#2ee82e" stroke-width="1"/><rect x="1641" y="328" width="1" height="19" fill="#ff1010"/><rect x="1639" y="342.5" width="5" height="4.3" fill="#ff1010"/><rect x="1649" y="319" width="1" height="29" fill="#2ee82e"/><rect x="1647.5" y="332.2" width="4" height="13.3" fill="#141f28" stroke="#2ee82e" stroke-width="1"/><rect x="1657" y="286.7" width="1" height="59.3" fill="#2ee82e"/><rect x="1655.5" y="323.2" width="4" height="20.6" fill="#141f28" stroke="#2ee82e" stroke-width="1"/><rect x="1665" y="283" width="1" height="41.5" fill="#2ee82e"/><rect x="1663.5" y="296.2" width="4" height="24.3" fill="#141f28" stroke="#2ee82e" stroke-width="1"/><rect x="1673" y="265" width="1" height="41.5" fill="#2ee82e"/><rect x="1671.5" y="290.8" width="4" height="2.6" fill="#141f28" stroke="#2ee82e" stroke-width="1"/><rect x="1681" y="285" width="1" height="20" fill="#ff1010"/><rect x="1679" y="288.5" width="5" height="14.5" fill="#ff1010"/><rect x="1689" y="299" width="1" height="18" fill="#ff1010"/><rect x="1687" y="300.7" width="5" height="14.3" fill="#ff1010"/><rect x="1697" y="320.5" width="1" height="25.3" fill="#ff1010"/><rect x="1695" y="323.4" width="5" height="9.6" fill="#ff1010"/><rect x="1705" y="320.5" width="1" height="28.9" fill="#ff1010"/><rect x="1703" y="334" width="5" height="2" fill="#ff1010"/><rect x="1713" y="333" width="1" height="27" fill="#ff1010"/><rect x="1711" y="334" width="5" height="22.6" fill="#ff1010"/><rect x="1721" y="345.8" width="1" height="23.4" fill="#2ee82e"/><rect x="1719.5" y="353.5" width="4" height="1" fill="#141f28" stroke="#2ee82e" stroke-width="1"/><rect x="1729" y="338.6" width="1" height="28.8" fill="#2ee82e"/><rect x="1727.5" y="349.1" width="4" height="6.3" fill="#141f28" stroke="#2ee82e" stroke-width="1"/><rect x="1737" y="320.5" width="1" height="32.5" fill="#2ee82e"/><rect x="1735.5" y="339.1" width="4" height="9.8" fill="#141f28" stroke="#2ee82e" stroke-width="1"/><rect x="1745" y="299" width="1" height="36" fill="#2ee82e"/><rect x="1743.5" y="318.2" width="4" height="5.3" fill="#141f28" stroke="#2ee82e" stroke-width="1"/><rect x="1753" y="304.3" width="1" height="30.7" fill="#ff1010"/><rect x="1751" y="317" width="5" height="16" fill="#ff1010"/><rect x="1761" y="293.5" width="1" height="32.5" fill="#2ee82e"/><rect x="1759.5" y="301.2" width="4" height="22.3" fill="#141f28" stroke="#2ee82e" stroke-width="1"/><rect x="1769" y="295.3" width="1" height="21.7" fill="#ff1010"/><rect x="1767" y="299" width="5" height="9" fill="#ff1010"/><rect x="1777" y="277.3" width="1" height="39.7" fill="#ff1010"/><rect x="1775" y="306.8" width="5" height="2.2" fill="#ff1010"/><rect x="1785" y="299" width="1" height="75.6" fill="#ff1010"/><rect x="1783" y="309.7" width="5" height="61.3" fill="#ff1010"/><rect x="1793" y="349.4" width="1" height="43.2" fill="#2ee82e"/><rect x="1791.5" y="369.7" width="4" height="1.5" fill="#141f28" stroke="#2ee82e" stroke-width="1"/><rect x="1801" y="340.4" width="1" height="46.6" fill="#2ee82e"/><rect x="1799.5" y="344.5" width="4" height="26" fill="#141f28" stroke="#2ee82e" stroke-width="1"/><rect x="1809" y="309.7" width="1" height="43.3" fill="#ff1010"/><rect x="1807" y="343" width="5" height="8.2" fill="#ff1010"/><rect x="1817" y="347" width="1" height="11" fill="#ff1010"/><rect x="1815" y="349.4" width="5" height="7.2" fill="#ff1010"/><rect x="1825" y="353" width="1" height="22" fill="#ff1010"/><rect x="1823" y="357.3" width="5" height="11.9" fill="#ff1010"/><rect x="1833" y="320.5" width="1" height="52.3" fill="#2ee82e"/><rect x="1831.5" y="339.1" width="4" height="29.6" fill="#141f28" stroke="#2ee82e" stroke-width="1"/><rect x="1841" y="338.6" width="1" height="41.4" fill="#ff1010"/><rect x="1839" y="338.6" width="5" height="36" fill="#ff1010"/><rect x="1849" y="324" width="1" height="48.8" fill="#2ee82e"/><rect x="1847.5" y="335.5" width="4" height="31.4" fill="#141f28" stroke="#2ee82e" stroke-width="1"/><rect x="1857" y="266.5" width="1" height="79.3" fill="#2ee82e"/><rect x="1855.5" y="290.5" width="4" height="42" fill="#141f28" stroke="#2ee82e" stroke-width="1"/><rect x="1865" y="250.3" width="1" height="43.2" fill="#2ee82e"/><rect x="1863.5" y="254.4" width="4" height="36.8" fill="#141f28" stroke="#2ee82e" stroke-width="1"/><rect x="1873" y="232.3" width="1" height="34.2" fill="#2ee82e"/><rect x="1871.5" y="246.1" width="4" height="7.3" fill="#141f28" stroke="#2ee82e" stroke-width="1"/><rect x="1881" y="207" width="1" height="39.7" fill="#2ee82e"/><rect x="1879.5" y="223" width="4" height="22.1" fill="#141f28" stroke="#2ee82e" stroke-width="1"/><rect x="1889" y="219.6" width="1" height="46.9" fill="#ff1010"/><rect x="1887" y="222.5" width="5" height="42.2" fill="#ff1010"/><rect x="1897" y="205.2" width="1" height="59.5" fill="#2ee82e"/><rect x="1895.5" y="209.3" width="4" height="53.8" fill="#141f28" stroke="#2ee82e" stroke-width="1"/><rect x="1905" y="199.8" width="1" height="55.9" fill="#ff1010"/><rect x="1903" y="201.6" width="5" height="52.4" fill="#ff1010"/><rect x="1913" y="262" width="1" height="21" fill="#2ee82e"/><rect x="1911.5" y="268.5" width="4" height="1" fill="#141f28" stroke="#2ee82e" stroke-width="1"/><rect x="1921" y="228.6" width="1" height="55.9" fill="#ff1010"/><rect x="1919" y="264.7" width="5" height="9.7" fill="#ff1010"/><rect x="1929" y="257.5" width="1" height="19.8" fill="#2ee82e"/><rect x="1927.5" y="268.8" width="4" height="2.7" fill="#141f28" stroke="#2ee82e" stroke-width="1"/><rect x="1937" y="259.3" width="1" height="19.8" fill="#2ee82e"/><rect x="1935.5" y="266.3" width="4" height="1.5" fill="#141f28" stroke="#2ee82e" stroke-width="1"/><rect x="1945" y="255.7" width="1" height="66.3" fill="#ff1010"/><rect x="1943" y="255.7" width="5" height="64.8" fill="#ff1010"/></g><g shape-rendering="crispEdges"><rect x="22" y="240" width="7" height="12.01" fill="#931266"/><rect x="30" y="240" width="7" height="14.33" fill="#931266"/><rect x="38" y="242" width="7" height="14.64" fill="#931266"/><rect x="142" y="277.3" width="7" height="29.14" fill="#931266"/><rect x="150" y="294.6" width="7" height="26.97" fill="#931266"/><rect x="158" y="311.5" width="7" height="22.14" fill="#931266"/><rect x="166" y="322.3" width="7" height="20.98" fill="#931266"/><rect x="174" y="336.8" width="7" height="13.67" fill="#931266"/><rect x="182" y="345.8" width="7" height="9.37" fill="#931266"/><rect x="190" y="352.3" width="7" height="3.93" fill="#931266"/><rect x="198" y="354.88" width="7" height="1.72" fill="#0b5bb0"/><rect x="206" y="349.85" width="7" height="7.15" fill="#0b5bb0"/><rect x="214" y="342.08" width="7" height="12.72" fill="#0b5bb0"/><rect x="222" y="329.45" width="7" height="19.95" fill="#0b5bb0"/><rect x="230" y="311.5" width="7" height="28.9" fill="#0b5bb0"/><rect x="238" y="292.93" width="7" height="34.77" fill="#0b5bb0"/><rect x="246" y="277.73" width="7" height="31.97" fill="#0b5bb0"/><rect x="254" y="267.23" width="7" height="28.07" fill="#0b5bb0"/><rect x="262" y="261.24" width="7" height="23.26" fill="#0b5bb0"/><rect x="270" y="257.76" width="7" height="17.74" fill="#0b5bb0"/><rect x="278" y="253.36" width="7" height="14.94" fill="#0b5bb0"/><rect x="286" y="249.7" width="7" height="12.5" fill="#0b5bb0"/><rect x="294" y="246" width="7" height="4.93" fill="#931266"/><rect x="302" y="252" width="7" height="7.61" fill="#931266"/><rect x="310" y="254.7" width="7" height="19.1" fill="#931266"/><rect x="318" y="263.7" width="7" height="26.1" fill="#931266"/><rect x="326" y="277" width="7" height="29.13" fill="#931266"/><rect x="334" y="296" width="7" height="27.48" fill="#931266"/><rect x="342" y="310.5" width="7" height="7.92" fill="#931266"/><rect x="350" y="303.81" width="7" height="10.69" fill="#0b5bb0"/><rect x="358" y="289.54" width="7" height="18.86" fill="#0b5bb0"/><rect x="366" y="268.72" width="7" height="29.78" fill="#0b5bb0"/><rect x="374" y="255.8" width="7" height="29.7" fill="#0b5bb0"/><rect x="382" y="243.21" width="7" height="29.39" fill="#0b5bb0"/><rect x="390" y="238.24" width="7" height="22.16" fill="#0b5bb0"/><rect x="398" y="238.32" width="7" height="12.88" fill="#0b5bb0"/><rect x="406" y="238.48" width="7" height="5" fill="#931266"/><rect x="414" y="243.61" width="7" height="5" fill="#931266"/><rect x="422" y="244.89" width="7" height="5" fill="#931266"/><rect x="430" y="246.84" width="7" height="5" fill="#931266"/><rect x="438" y="250.57" width="7" height="5" fill="#931266"/><rect x="446" y="260.24" width="7" height="4" fill="#931266"/><rect x="454" y="262.81" width="7" height="4" fill="#931266"/><rect x="462" y="264.42" width="7" height="4" fill="#931266"/><rect x="470" y="264.95" width="7" height="4" fill="#931266"/><rect x="478" y="265.48" width="7" height="4" fill="#931266"/><rect x="486" y="267.54" width="7" height="4" fill="#931266"/><rect x="494" y="269.6" width="7" height="4" fill="#931266"/><rect x="502" y="271.67" width="7" height="4" fill="#931266"/><rect x="510" y="271.8" width="7" height="4" fill="#931266"/><rect x="518" y="271.8" width="7" height="4" fill="#931266"/><rect x="526" y="272.07" width="7" height="4" fill="#931266"/><rect x="534" y="272.45" width="7" height="4" fill="#931266"/><rect x="542" y="269.1" width="7" height="5.2" fill="#0b5bb0"/><rect x="550" y="263" width="7" height="9.5" fill="#0b5bb0"/><rect x="558" y="257.28" width="7" height="7.32" fill="#0b5bb0"/><rect x="566" y="253.41" width="7" height="8.99" fill="#0b5bb0"/><rect x="574" y="249.26" width="7" height="10.74" fill="#0b5bb0"/><rect x="582" y="244.61" width="7" height="9.89" fill="#0b5bb0"/><rect x="590" y="239.89" width="7" height="4.91" fill="#0b5bb0"/><rect x="598" y="235.69" width="7" height="3.51" fill="#0b5bb0"/><rect x="606" y="233.44" width="7" height="1.46" fill="#0b5bb0"/><rect x="614" y="231" width="7" height="2.91" fill="#931266"/><rect x="622" y="234.3" width="7" height="4.59" fill="#931266"/><rect x="630" y="235.7" width="7" height="8.47" fill="#931266"/><rect x="638" y="240" width="7" height="7.32" fill="#931266"/><rect x="646" y="245.17" width="7" height="3.43" fill="#0b5bb0"/><rect x="654" y="242.56" width="7" height="2.44" fill="#0b5bb0"/><rect x="662" y="237.22" width="7" height="4.18" fill="#0b5bb0"/><rect x="670" y="228.59" width="7" height="11.31" fill="#0b5bb0"/><rect x="678" y="216.19" width="7" height="18.11" fill="#0b5bb0"/><rect x="686" y="208.11" width="7" height="17.89" fill="#0b5bb0"/><rect x="694" y="211.29" width="7" height="8.71" fill="#931266"/><rect x="702" y="218.2" width="7" height="6.8" fill="#931266"/><rect x="710" y="225.54" width="7" height="5.96" fill="#931266"/><rect x="718" y="228.58" width="7" height="3.72" fill="#931266"/><rect x="726" y="222" width="7" height="8.2" fill="#0b5bb0"/><rect x="734" y="213.85" width="7" height="12.85" fill="#0b5bb0"/><rect x="742" y="208.25" width="7" height="11.55" fill="#0b5bb0"/><rect x="750" y="209.43" width="7" height="6.17" fill="#931266"/><rect x="758" y="213.87" width="7" height="3.83" fill="#931266"/><rect x="766" y="217" width="7" height="1.69" fill="#931266"/><rect x="774" y="218" width="7" height="4.95" fill="#931266"/><rect x="782" y="222" width="7" height="7.96" fill="#931266"/><rect x="790" y="226.6" width="7" height="11.31" fill="#931266"/><rect x="798" y="233.6" width="7" height="13.94" fill="#931266"/><rect x="806" y="241.4" width="7" height="16.15" fill="#931266"/><rect x="814" y="250" width="7" height="16.66" fill="#931266"/><rect x="822" y="260" width="7" height="15.64" fill="#931266"/><rect x="830" y="270.4" width="7" height="14.27" fill="#931266"/><rect x="838" y="280" width="7" height="13.7" fill="#931266"/><rect x="846" y="287.8" width="7" height="15.75" fill="#931266"/><rect x="854" y="295.6" width="7" height="16.85" fill="#931266"/><rect x="862" y="301.4" width="7" height="12.21" fill="#931266"/><rect x="870" y="306.5" width="7" height="5.8" fill="#931266"/><rect x="878" y="309" width="7" height="3.3" fill="#931266"/><rect x="886" y="314.2" width="7" height="4.77" fill="#931266"/><rect x="894" y="315" width="7" height="19.2" fill="#931266"/><rect x="902" y="326.6" width="7" height="22.43" fill="#931266"/><rect x="910" y="337.3" width="7" height="8.08" fill="#931266"/><rect x="918" y="332.93" width="7" height="6.47" fill="#0b5bb0"/><rect x="926" y="315.8" width="7" height="16.9" fill="#0b5bb0"/><rect x="934" y="299.26" width="7" height="23.54" fill="#0b5bb0"/><rect x="942" y="281.34" width="7" height="27.46" fill="#0b5bb0"/><rect x="950" y="261.5" width="7" height="33" fill="#0b5bb0"/><rect x="958" y="243.53" width="7" height="37.67" fill="#0b5bb0"/><rect x="966" y="224.6" width="7" height="40" fill="#0b5bb0"/><rect x="974" y="204.68" width="7" height="43.32" fill="#0b5bb0"/><rect x="982" y="184.87" width="7" height="43.13" fill="#0b5bb0"/><rect x="990" y="166.23" width="7" height="39.47" fill="#0b5bb0"/><rect x="998" y="149.66" width="7" height="37.34" fill="#0b5bb0"/><rect x="1006" y="136.05" width="7" height="32.15" fill="#0b5bb0"/><rect x="1014" y="126.21" width="7" height="26.39" fill="#0b5bb0"/><rect x="1022" y="122.71" width="7" height="17.29" fill="#0b5bb0"/><rect x="1030" y="126.68" width="7" height="3.32" fill="#0b5bb0"/><rect x="1038" y="126" width="7" height="6.68" fill="#931266"/><rect x="1046" y="129.8" width="7" height="12.51" fill="#931266"/><rect x="1054" y="137.4" width="7" height="16.98" fill="#931266"/><rect x="1062" y="148" width="7" height="20.99" fill="#931266"/><rect x="1070" y="160" width="7" height="26.01" fill="#931266"/><rect x="1078" y="174" width="7" height="29.28" fill="#931266"/><rect x="1086" y="190.8" width="7" height="32.47" fill="#931266"/><rect x="1094" y="209" width="7" height="31.09" fill="#931266"/><rect x="1102" y="224.3" width="7" height="21.78" fill="#931266"/><rect x="1110" y="233.5" width="7" height="13.5" fill="#931266"/><rect x="1118" y="236.5" width="7" height="9.2" fill="#931266"/><rect x="1126" y="239.6" width="7" height="8.74" fill="#931266"/><rect x="1134" y="244.8" width="7" height="7.35" fill="#931266"/><rect x="1142" y="248.8" width="7" height="6.65" fill="#931266"/><rect x="1150" y="252.8" width="7" height="6.24" fill="#931266"/><rect x="1158" y="258.8" width="7" height="6.3" fill="#931266"/><rect x="1166" y="262.9" width="7" height="8.21" fill="#931266"/><rect x="1174" y="268.9" width="7" height="8.74" fill="#931266"/><rect x="1182" y="273" width="7" height="14.27" fill="#931266"/><rect x="1190" y="279" width="7" height="16.05" fill="#931266"/><rect x="1198" y="287" width="7" height="14.61" fill="#931266"/><rect x="1206" y="293" width="7" height="14.76" fill="#931266"/><rect x="1214" y="298" width="7" height="14.47" fill="#931266"/><rect x="1222" y="307" width="7" height="8.98" fill="#931266"/><rect x="1230" y="316" width="7" height="1.9" fill="#931266"/><rect x="1238" y="315.4" width="7" height="1" fill="#931266"/><rect x="1246" y="314.3" width="7" height="7.7" fill="#0b5bb0"/><rect x="1254" y="316.1" width="7" height="5.9" fill="#0b5bb0"/><rect x="1262" y="319.7" width="7" height="4.4" fill="#931266"/><rect x="1270" y="323.3" width="7" height="13.01" fill="#931266"/><rect x="1278" y="332.3" width="7" height="19.2" fill="#931266"/><rect x="1286" y="341.3" width="7" height="27.08" fill="#931266"/><rect x="1294" y="355.7" width="7" height="30.09" fill="#931266"/><rect x="1302" y="370" width="7" height="33.21" fill="#931266"/><rect x="1310" y="386.3" width="7" height="31.57" fill="#931266"/><rect x="1318" y="402.5" width="7" height="29.27" fill="#931266"/><rect x="1326" y="418.8" width="7" height="25.2" fill="#931266"/><rect x="1334" y="431.4" width="7" height="20.6" fill="#931266"/><rect x="1342" y="444" width="7" height="11.8" fill="#931266"/><rect x="1350" y="445.8" width="7" height="10.8" fill="#931266"/><rect x="1358" y="451.64" width="7" height="4.96" fill="#0b5bb0"/><rect x="1366" y="443.38" width="7" height="11.42" fill="#0b5bb0"/><rect x="1374" y="434.95" width="7" height="17.05" fill="#0b5bb0"/><rect x="1382" y="426.45" width="7" height="17.55" fill="#0b5bb0"/><rect x="1390" y="417.12" width="7" height="17.88" fill="#0b5bb0"/><rect x="1398" y="409.1" width="7" height="16.9" fill="#0b5bb0"/><rect x="1406" y="400.25" width="7" height="16.75" fill="#0b5bb0"/><rect x="1414" y="388.62" width="7" height="19.38" fill="#0b5bb0"/><rect x="1422" y="371.28" width="7" height="25.92" fill="#0b5bb0"/><rect x="1430" y="350.38" width="7" height="25.22" fill="#0b5bb0"/><rect x="1438" y="332.16" width="7" height="32.64" fill="#0b5bb0"/><rect x="1446" y="316.55" width="7" height="26.45" fill="#0b5bb0"/><rect x="1454" y="302.57" width="7" height="30.83" fill="#0b5bb0"/><rect x="1462" y="291.88" width="7" height="22.43" fill="#0b5bb0"/><rect x="1470" y="283.58" width="7" height="23.42" fill="#0b5bb0"/><rect x="1478" y="283.93" width="7" height="10.57" fill="#0b5bb0"/><rect x="1486" y="289" width="7" height="4.18" fill="#931266"/><rect x="1494" y="291" width="7" height="13.29" fill="#931266"/><rect x="1502" y="299" width="7" height="17.88" fill="#931266"/><rect x="1510" y="308" width="7" height="22.4" fill="#931266"/><rect x="1518" y="317" width="7" height="21.13" fill="#931266"/><rect x="1526" y="326" width="7" height="17.36" fill="#931266"/><rect x="1534" y="332" width="7" height="15.87" fill="#931266"/><rect x="1542" y="337.8" width="7" height="14.82" fill="#931266"/><rect x="1550" y="344.6" width="7" height="12.15" fill="#931266"/><rect x="1558" y="351.5" width="7" height="5.72" fill="#931266"/><rect x="1566" y="353.98" width="7" height="4.02" fill="#0b5bb0"/><rect x="1574" y="350.34" width="7" height="5.66" fill="#0b5bb0"/><rect x="1582" y="349.01" width="7" height="4.99" fill="#0b5bb0"/><rect x="1590" y="348.45" width="7" height="4.55" fill="#0b5bb0"/><rect x="1598" y="348.68" width="7" height="11.12" fill="#931266"/><rect x="1606" y="352.5" width="7" height="11" fill="#931266"/><rect x="1614" y="355" width="7" height="11" fill="#931266"/><rect x="1622" y="354.98" width="7" height="9.82" fill="#931266"/><rect x="1630" y="354.23" width="7" height="9.27" fill="#0b5bb0"/><rect x="1638" y="352.12" width="7" height="7.88" fill="#0b5bb0"/><rect x="1646" y="348.49" width="7" height="11.31" fill="#0b5bb0"/><rect x="1654" y="343.27" width="7" height="13.73" fill="#0b5bb0"/><rect x="1662" y="336.5" width="7" height="16.8" fill="#0b5bb0"/><rect x="1670" y="328.38" width="7" height="17.62" fill="#0b5bb0"/><rect x="1678" y="319.71" width="7" height="17.29" fill="#0b5bb0"/><rect x="1686" y="315.47" width="7" height="14.53" fill="#0b5bb0"/><rect x="1694" y="310" width="7" height="5.1" fill="#931266"/><rect x="1702" y="316" width="7" height="2.77" fill="#931266"/><rect x="1710" y="318" width="7" height="4.77" fill="#931266"/><rect x="1718" y="320" width="7" height="8.1" fill="#931266"/><rect x="1726" y="324" width="7" height="8.86" fill="#931266"/><rect x="1734" y="329" width="7" height="7.16" fill="#931266"/><rect x="1742" y="335.84" width="7" height="4.16" fill="#0b5bb0"/><rect x="1750" y="333.83" width="7" height="6.17" fill="#0b5bb0"/><rect x="1758" y="330.45" width="7" height="7.55" fill="#0b5bb0"/><rect x="1766" y="326.2" width="7" height="7.8" fill="#0b5bb0"/><rect x="1774" y="322" width="7" height="6" fill="#0b5bb0"/><rect x="1782" y="318" width="7" height="5.29" fill="#931266"/><rect x="1790" y="322" width="7" height="4.32" fill="#931266"/><rect x="1798" y="326" width="7" height="3.7" fill="#931266"/><rect x="1806" y="330" width="7" height="4.37" fill="#931266"/><rect x="1814" y="334" width="7" height="6.22" fill="#931266"/><rect x="1822" y="338" width="7" height="9.57" fill="#931266"/><rect x="1830" y="341" width="7" height="10.33" fill="#931266"/><rect x="1838" y="344" width="7" height="9.75" fill="#931266"/><rect x="1846" y="353.94" width="7" height="4.46" fill="#0b5bb0"/><rect x="1854" y="343.53" width="7" height="5.87" fill="#0b5bb0"/><rect x="1862" y="326.66" width="7" height="19.14" fill="#0b5bb0"/><rect x="1870" y="310.42" width="7" height="29.98" fill="#0b5bb0"/><rect x="1878" y="294.06" width="7" height="33.64" fill="#0b5bb0"/><rect x="1886" y="281.03" width="7" height="32.27" fill="#0b5bb0"/><rect x="1894" y="267.7" width="7" height="31.3" fill="#0b5bb0"/><rect x="1902" y="257.34" width="7" height="27.16" fill="#0b5bb0"/><rect x="1910" y="251.18" width="7" height="24.32" fill="#0b5bb0"/><rect x="1918" y="250.97" width="7" height="17.33" fill="#0b5bb0"/><rect x="1926" y="252.62" width="7" height="6.68" fill="#0b5bb0"/><rect x="1934" y="256.19" width="7" height="1.31" fill="#0b5bb0"/><rect x="1942" y="254" width="7" height="11.82" fill="#931266"/></g><path d="M22 251 C28.33 252.83 47 257.17 60 262 C73 266.83 86.53 274.17 100 280 C113.47 285.83 132.2 290.55 140.8 297 C149.4 303.45 148 312.37 151.6 318.7 C155.2 325.03 158.8 330.18 162.4 335 C166 339.82 169.6 344.3 173.2 347.6 C176.8 350.9 180.98 353.3 184 354.8 C187.02 356.3 188.3 356.6 191.3 356.6" fill="none" stroke="#e35fc0" stroke-width="3" stroke-linejoin="round" stroke-linecap="round"/><path d="M191.3 356.6 C194.3 356.6 198.4 356.3 202 354.8 C205.6 353.3 209.58 350.6 212.9 347.6 C216.22 344.6 219.22 341.02 221.9 336.8 C224.58 332.58 226.32 328.32 229 322.3 C231.68 316.28 235.28 307 238 300.7 C240.72 294.4 242.58 289.62 245.3 284.5 C248.02 279.38 251.3 273.72 254.3 270 C257.3 266.28 260 264.28 263.3 262.2 C266.6 260.12 270.48 259.3 274.1 257.5 C277.72 255.7 281.68 252.98 285 251.4 C288.32 249.82 290.97 247.28 294 248" fill="none" stroke="#2b8cf4" stroke-width="3" stroke-linejoin="round" stroke-linecap="round"/><path d="M294 248 C297.03 248.72 300.28 252.07 303.2 255.7 C306.12 259.33 308.73 264.68 311.5 269.8 C314.27 274.92 317.03 280.87 319.8 286.4 C322.57 291.93 325.6 297.73 328.1 303 C330.6 308.27 333.13 314.38 334.8 318 C336.47 321.62 336.43 324.42 338.1 324.7" fill="none" stroke="#e35fc0" stroke-width="3" stroke-linejoin="round" stroke-linecap="round"/><path d="M338.1 324.7 C339.77 324.98 342.32 323.03 344.8 319.7 C347.28 316.37 350.23 309.68 353 304.7 C355.77 299.72 358.62 295.88 361.4 289.8 C364.18 283.72 366.93 274 369.7 268.2 C372.47 262.4 375.33 259.22 378 255 C380.67 250.78 383.4 245.68 385.7 242.9 C388 240.12 389.25 239.12 391.8 238.3" fill="none" stroke="#2b8cf4" stroke-width="3" stroke-linejoin="round" stroke-linecap="round"/><path d="M391.8 238.3 C394.35 237.48 398.2 237.23 401 238 C403.8 238.77 405.57 240.95 408.6 242.9 C411.63 244.85 415.75 248.52 419.2 249.7 C422.65 250.88 425.83 249.17 429.3 250 C432.77 250.83 436.22 252.75 440 254.7 C443.78 256.65 447.6 260.05 452 261.7 C456.4 263.35 461.6 264 466.4 264.6 C471.2 265.2 476 264.57 480.8 265.3 C485.6 266.03 491 267.92 495.2 269 C499.4 270.08 501.2 271.33 506 271.8 C510.8 272.27 518.58 271.68 524 271.8 C529.42 271.92 534.88 272.97 538.5 272.5" fill="none" stroke="#e35fc0" stroke-width="3" stroke-linejoin="round" stroke-linecap="round"/><path d="M538.5 272.5 C542.12 272.03 542.12 271.42 545.7 269 C549.28 266.58 555.2 261 560 258 C564.8 255 569.5 253.67 574.5 251 C579.5 248.33 586.03 244.33 590 242 C593.97 239.67 595.53 238.4 598.3 237 C601.07 235.6 604.32 234.22 606.6 233.6 C608.88 232.98 610.27 233.3 612 233.3" fill="none" stroke="#2b8cf4" stroke-width="3" stroke-linejoin="round" stroke-linecap="round"/><path d="M612 233.3 C613.73 233.3 614.67 232.62 617 233.6 C619.33 234.58 623.12 237.35 626 239.2 C628.88 241.05 631.63 243.32 634.3 244.7 C636.97 246.08 639.22 247.5 642 247.5" fill="none" stroke="#e35fc0" stroke-width="3" stroke-linejoin="round" stroke-linecap="round"/><path d="M642 247.5 C644.78 247.5 648.13 245.62 651 244.7 C653.87 243.78 656.45 243.5 659.2 242 C661.95 240.5 664.95 238.13 667.5 235.7 C670.05 233.27 672.18 230.63 674.5 227.4 C676.82 224.17 678.98 219.53 681.4 216.3 C683.82 213.07 686.7 209.15 689 208" fill="none" stroke="#2b8cf4" stroke-width="3" stroke-linejoin="round" stroke-linecap="round"/><path d="M689 208 C691.3 206.85 692.77 208.02 695.2 209.4 C697.63 210.78 700.82 213.77 703.6 216.3 C706.38 218.83 709.13 222.4 711.9 224.6 C714.67 226.8 717.67 229.5 720.2 229.5" fill="none" stroke="#e35fc0" stroke-width="3" stroke-linejoin="round" stroke-linecap="round"/><path d="M720.2 229.5 C722.73 229.5 724.57 226.92 727.1 224.6 C729.63 222.28 732.63 218.25 735.4 215.6 C738.17 212.95 741.38 210.08 743.7 208.7 C746.02 207.32 747.22 206.95 749.3 207.3" fill="none" stroke="#2b8cf4" stroke-width="3" stroke-linejoin="round" stroke-linecap="round"/><path d="M749.3 207.3 C751.38 207.65 753.67 209.42 756.2 210.8 C758.73 212.18 762.2 214.23 764.5 215.6 C766.8 216.97 767.5 217.6 770 219 C772.5 220.4 775.33 220.6 779.5 224 C783.67 227.4 789.83 233.6 795 239.4 C800.17 245.2 805.33 252.67 810.5 258.8 C815.67 264.93 820.83 270.38 826 276.2 C831.17 282.02 836.4 287.68 841.5 293.7 C846.6 299.72 852.68 308.97 856.6 312.3" fill="none" stroke="#e35fc0" stroke-width="3" stroke-linejoin="round" stroke-linecap="round"/><path d="M856.6 312.3 C860.52 315.63 862.23 313.7 865 313.7 C867.77 313.7 870.45 312.53 873.2 312.3" fill="none" stroke="#2b8cf4" stroke-width="3" stroke-linejoin="round" stroke-linecap="round"/><path d="M873.2 312.3 C875.95 312.07 878.72 311.13 881.5 312.3 C884.28 313.47 887.65 316.58 889.9 319.3 C892.15 322.02 893.32 325.18 895 328.6 C896.68 332.02 898.23 336.37 900 339.8 C901.77 343.23 903.73 347.83 905.6 349.2" fill="none" stroke="#e35fc0" stroke-width="3" stroke-linejoin="round" stroke-linecap="round"/><path d="M905.6 349.2 C907.47 350.57 909.43 349.15 911.2 348 C912.97 346.85 914.53 344.7 916.2 342.3 C917.87 339.9 919.53 336.92 921.2 333.6 C922.87 330.28 924.53 325.93 926.2 322.4 C927.87 318.87 929.55 315.73 931.2 312.4 C932.85 309.07 934.45 305.93 936.1 302.4 C937.75 298.87 939.43 294.93 941.1 291.2 C942.77 287.47 943.8 285.53 946.1 280 C948.4 274.47 951.78 265.28 954.9 258 C958.02 250.72 961.48 244.07 964.8 236.3 C968.12 228.53 971.47 219.7 974.8 211.4 C978.13 203.1 981.47 194.53 984.8 186.5 C988.13 178.47 991.48 170.42 994.8 163.2 C998.12 155.98 1001.38 149.02 1004.7 143.2 C1008.02 137.38 1011.92 131.62 1014.7 128.3 C1017.48 124.98 1019.47 124.25 1021.4 123.3 C1023.33 122.35 1023.37 121.52 1026.3 122.6" fill="none" stroke="#2b8cf4" stroke-width="3" stroke-linejoin="round" stroke-linecap="round"/><path d="M1026.3 122.6 C1029.23 123.68 1035.33 126.82 1039 129.8 C1042.67 132.78 1045.23 136.43 1048.3 140.5 C1051.37 144.57 1054.35 149.12 1057.4 154.2 C1060.45 159.28 1063.55 164.9 1066.6 171 C1069.65 177.1 1072.65 184.2 1075.7 190.8 C1078.75 197.4 1082.35 204.5 1084.9 210.6 C1087.45 216.7 1088.98 222.57 1091 227.4 C1093.02 232.23 1094.97 236.55 1097 239.6 C1099.03 242.65 1100.65 244.43 1103.2 245.7 C1105.75 246.97 1109.25 247.2 1112.3 247.2 C1115.35 247.2 1118.45 245.45 1121.5 245.7 C1124.55 245.95 1127.55 247.43 1130.6 248.7 C1133.65 249.97 1136.23 251.77 1139.8 253.3 C1143.37 254.83 1147.97 255.62 1152 257.9 C1156.03 260.18 1159.95 263.95 1164 267 C1168.05 270.05 1172.2 272.2 1176.3 276.2 C1180.4 280.2 1184.53 286.87 1188.6 291 C1192.67 295.13 1196.67 297.78 1200.7 301 C1204.73 304.22 1209.08 307.97 1212.8 310.3 C1216.52 312.63 1220.07 313.73 1223 315 C1225.93 316.27 1228.57 317.42 1230.4 317.9" fill="none" stroke="#e35fc0" stroke-width="3" stroke-linejoin="round" stroke-linecap="round"/><path d="M1230.4 317.9 C1232.23 318.38 1231.6 318.5 1234 317.9 C1236.4 317.3 1241.8 314.9 1244.8 314.3 C1247.8 313.7 1249.9 314.02 1252 314.3" fill="none" stroke="#2b8cf4" stroke-width="3" stroke-linejoin="round" stroke-linecap="round"/><path d="M1252 314.3 C1254.1 314.58 1255 314.22 1257.4 316 C1259.8 317.78 1263.38 321.08 1266.4 325 C1269.42 328.92 1272.48 334.08 1275.5 339.5 C1278.52 344.92 1281.2 350.58 1284.5 357.5 C1287.8 364.42 1291.72 373.2 1295.3 381 C1298.88 388.8 1302.38 397.1 1306 404.3 C1309.62 411.5 1313.38 417.88 1317 424.2 C1320.62 430.52 1324.12 437.4 1327.7 442.2 C1331.28 447 1335.2 450.6 1338.5 453 C1341.8 455.4 1344.8 456 1347.5 456.6 C1350.2 457.2 1352.9 456.9 1354.7 456.6" fill="none" stroke="#e35fc0" stroke-width="3" stroke-linejoin="round" stroke-linecap="round"/><path d="M1354.7 456.6 C1356.5 456.3 1356.18 456.6 1358.3 454.8 C1360.42 453 1365.12 448.18 1367.4 445.8 C1369.68 443.42 1369.43 443.2 1372 440.5 C1374.57 437.8 1379.2 433.52 1382.8 429.6 C1386.4 425.68 1390 420.9 1393.6 417 C1397.2 413.1 1400.8 410.1 1404.4 406.2 C1408 402.3 1411.6 399.6 1415.2 393.6 C1418.8 387.6 1422.38 378.9 1426 370.2 C1429.62 361.5 1433.28 349.82 1436.9 341.4 C1440.52 332.98 1443.85 326.9 1447.7 319.7 C1451.55 312.5 1456.95 302.93 1460 298.2 C1463.05 293.47 1463.83 293.73 1466 291.3 C1468.17 288.87 1471 284.92 1473 283.6" fill="none" stroke="#2b8cf4" stroke-width="3" stroke-linejoin="round" stroke-linecap="round"/><path d="M1473 283.6 C1475 282.28 1476.5 283.33 1478 283.4 C1479.5 283.47 1479.92 282.17 1482 284 C1484.08 285.83 1487.83 290.9 1490.5 294.4 C1493.17 297.9 1495.47 301.2 1498 305 C1500.53 308.8 1503.15 313 1505.7 317.2 C1508.25 321.4 1510.75 326.77 1513.3 330.2 C1515.85 333.63 1518.47 335.7 1521 337.8 C1523.53 339.9 1526 341.27 1528.5 342.8 C1531 344.33 1533.45 345.55 1536 347 C1538.55 348.45 1541.23 349.92 1543.8 351.5 C1546.37 353.08 1548.62 355.48 1551.4 356.5 C1554.18 357.52 1557.97 357.8 1560.5 357.6" fill="none" stroke="#e35fc0" stroke-width="3" stroke-linejoin="round" stroke-linecap="round"/><path d="M1560.5 357.6 C1563.03 357.4 1563.35 356.7 1566.6 355.3 C1569.85 353.9 1576.82 350.25 1580 349.2 C1583.18 348.15 1582.37 349.2 1585.7 349 C1589.03 348.8 1596.7 347.75 1600 348" fill="none" stroke="#2b8cf4" stroke-width="3" stroke-linejoin="round" stroke-linecap="round"/><path d="M1600 348 C1603.3 348.25 1603.08 349.33 1605.5 350.5 C1607.92 351.67 1611.2 354.25 1614.5 355 C1617.8 355.75 1621.72 355.17 1625.3 355 C1628.88 354.83 1633 354.58 1636 354 C1639 353.42 1640.88 352.5 1643.3 351.5" fill="none" stroke="#e35fc0" stroke-width="3" stroke-linejoin="round" stroke-linecap="round"/><path d="M1643.3 351.5 C1645.72 350.5 1647.5 349.8 1650.5 348 C1653.5 346.2 1657.72 343.7 1661.3 340.7 C1664.88 337.7 1668.22 333.95 1672 330 C1675.78 326.05 1680.2 319.67 1684 317 C1687.8 314.33 1692.1 314.13 1694.8 314" fill="none" stroke="#2b8cf4" stroke-width="3" stroke-linejoin="round" stroke-linecap="round"/><path d="M1694.8 314 C1697.5 313.87 1697.2 314.82 1700.2 316.2 C1703.2 317.58 1708.9 320.08 1712.8 322.3 C1716.7 324.52 1719.98 327.27 1723.6 329.5 C1727.22 331.73 1731.48 334.48 1734.5 335.7" fill="none" stroke="#e35fc0" stroke-width="3" stroke-linejoin="round" stroke-linecap="round"/><path d="M1734.5 335.7 C1737.52 336.92 1738.12 337.22 1741.7 336.8 C1745.28 336.38 1751.78 334.72 1756 333.2 C1760.22 331.68 1763.67 329.52 1767 327.7 C1770.33 325.88 1773.92 323.32 1776 322.3" fill="none" stroke="#2b8cf4" stroke-width="3" stroke-linejoin="round" stroke-linecap="round"/><path d="M1776 322.3 C1778.08 321.28 1777.5 321.32 1779.5 321.6 C1781.5 321.88 1784.33 322.65 1788 324 C1791.67 325.35 1797.17 327.53 1801.5 329.7 C1805.83 331.87 1809.85 333.88 1814 337 C1818.15 340.12 1822.23 345.63 1826.4 348.4 C1830.57 351.17 1835.18 352.63 1839 353.6 C1842.82 354.57 1846.2 355.9 1849.3 354.2" fill="none" stroke="#e35fc0" stroke-width="3" stroke-linejoin="round" stroke-linecap="round"/><path d="M1849.3 354.2 C1852.4 352.5 1854.82 348.17 1857.6 343.4 C1860.38 338.63 1863.23 331.33 1866 325.6 C1868.77 319.87 1871.87 313.85 1874.2 309 C1876.53 304.15 1877.62 300.88 1880 296.5 C1882.38 292.12 1885.28 288 1888.5 282.7 C1891.72 277.4 1895.72 269.82 1899.3 264.7 C1902.88 259.58 1907 254.4 1910 252 C1913 249.6 1914.3 250.3 1917.3 250.3 C1920.3 250.3 1924.72 251.1 1928 252 C1931.28 252.9 1934.88 254.48 1937 255.7" fill="none" stroke="#2b8cf4" stroke-width="3" stroke-linejoin="round" stroke-linecap="round"/><path d="M1937 255.7 C1939.12 256.92 1939.2 257.5 1940.7 259.3 C1942.2 261.1 1945.12 265.3 1946 266.5" fill="none" stroke="#e35fc0" stroke-width="3" stroke-linejoin="round" stroke-linecap="round"/><line x1="1321" y1="202.5" x2="2094" y2="202.5" stroke="#4a90e0" stroke-width="1"/><line x1="1321" y1="274.5" x2="2094" y2="274.5" stroke="#4a90e0" stroke-width="1"/><line x1="1321" y1="319.5" x2="2094" y2="319.5" stroke="#4a90e0" stroke-width="1"/><line x1="1321" y1="355.5" x2="2094" y2="355.5" stroke="#4a90e0" stroke-width="1"/><line x1="1321" y1="391.5" x2="2094" y2="391.5" stroke="#4a90e0" stroke-width="1"/><line x1="1321" y1="436.5" x2="2094" y2="436.5" stroke="#4a90e0" stroke-width="1"/><line x1="1339" y1="508.5" x2="1423" y2="508.5" stroke="#4a90e0" stroke-width="1"/><line x1="1423" y1="508.5" x2="1960" y2="508.5" stroke="#3a78c8" stroke-width="1" stroke-dasharray="4,4"/><line x1="1960" y1="508.5" x2="2094" y2="508.5" stroke="#4a90e0" stroke-width="1"/><circle cx="39" cy="221.4" r="4.5" fill="#c0209a"/><line x1="36.3" y1="221.4" x2="41.7" y2="221.4" stroke="#5a1050" stroke-width="1"/><circle cx="233.5" cy="199.7" r="4.5" fill="#c0209a"/><line x1="230.8" y1="199.7" x2="236.2" y2="199.7" stroke="#5a1050" stroke-width="1"/><circle cx="369" cy="191.6" r="4.8" fill="#c0209a"/><line x1="366.12" y1="191.6" x2="371.88" y2="191.6" stroke="#5a1050" stroke-width="1"/><circle cx="593" cy="167.5" r="4.8" fill="#c0209a"/><line x1="590.12" y1="167.5" x2="595.88" y2="167.5" stroke="#5a1050" stroke-width="1"/><circle cx="681" cy="161.4" r="4.6" fill="#c0209a"/><line x1="678.24" y1="161.4" x2="683.76" y2="161.4" stroke="#5a1050" stroke-width="1"/><circle cx="737" cy="121.6" r="9.2" fill="#c0209a"/><line x1="731.48" y1="121.6" x2="742.52" y2="121.6" stroke="#5a1050" stroke-width="1"/><circle cx="873.3" cy="275.5" r="4.5" fill="#c0209a"/><line x1="870.5999999999999" y1="275.5" x2="876.0" y2="275.5" stroke="#5a1050" stroke-width="1"/><circle cx="1001" cy="52.5" r="9.2" fill="#c0209a"/><line x1="995.48" y1="52.5" x2="1006.52" y2="52.5" stroke="#5a1050" stroke-width="1"/><circle cx="1249" cy="293.7" r="4.5" fill="#c0209a"/><line x1="1246.3" y1="293.7" x2="1251.7" y2="293.7" stroke="#5a1050" stroke-width="1"/><circle cx="1465" cy="219" r="4.5" fill="#c0209a"/><line x1="1462.3" y1="219" x2="1467.7" y2="219" stroke="#5a1050" stroke-width="1"/><circle cx="1569.4" cy="316.6" r="4.5" fill="#c0209a"/><line x1="1566.7" y1="316.6" x2="1572.1000000000001" y2="316.6" stroke="#5a1050" stroke-width="1"/><circle cx="1672.9" cy="260.4" r="4.5" fill="#c0209a"/><line x1="1670.2" y1="260.4" x2="1675.6000000000001" y2="260.4" stroke="#5a1050" stroke-width="1"/><circle cx="1777" cy="274.4" r="4.5" fill="#c0209a"/><line x1="1774.3" y1="274.4" x2="1779.7" y2="274.4" stroke="#5a1050" stroke-width="1"/><circle cx="1896.4" cy="199.8" r="9" fill="#c0209a"/><line x1="1891.0" y1="199.8" x2="1901.8000000000002" y2="199.8" stroke="#5a1050" stroke-width="1"/><circle cx="145.5" cy="416" r="4.5" fill="#2a8ef0"/><line x1="142.8" y1="416" x2="148.2" y2="416" stroke="#10407a" stroke-width="1"/><circle cx="328.4" cy="420.5" r="9" fill="#2a8ef0"/><line x1="323.0" y1="420.5" x2="333.79999999999995" y2="420.5" stroke="#10407a" stroke-width="1"/><circle cx="448.8" cy="336.5" r="5" fill="#2a8ef0"/><line x1="445.8" y1="336.5" x2="451.8" y2="336.5" stroke="#10407a" stroke-width="1"/><circle cx="624.2" cy="302.6" r="5" fill="#2a8ef0"/><line x1="621.2" y1="302.6" x2="627.2" y2="302.6" stroke="#10407a" stroke-width="1"/><circle cx="696.3" cy="314" r="5" fill="#2a8ef0"/><line x1="693.3" y1="314" x2="699.3" y2="314" stroke="#10407a" stroke-width="1"/><circle cx="856.2" cy="337.5" r="5" fill="#2a8ef0"/><line x1="853.2" y1="337.5" x2="859.2" y2="337.5" stroke="#10407a" stroke-width="1"/><circle cx="896.5" cy="418.8" r="9" fill="#2a8ef0"/><line x1="891.1" y1="418.8" x2="901.9" y2="418.8" stroke="#10407a" stroke-width="1"/><circle cx="1217.8" cy="402.5" r="5" fill="#2a8ef0"/><line x1="1214.8" y1="402.5" x2="1220.8" y2="402.5" stroke="#10407a" stroke-width="1"/><circle cx="1544.2" cy="402.7" r="5" fill="#2a8ef0"/><line x1="1541.2" y1="402.7" x2="1547.2" y2="402.7" stroke="#10407a" stroke-width="1"/><circle cx="1600.8" cy="464.3" r="5" fill="#2a8ef0"/><line x1="1597.8" y1="464.3" x2="1603.8" y2="464.3" stroke="#10407a" stroke-width="1"/><circle cx="1720.8" cy="374.6" r="5" fill="#2a8ef0"/><line x1="1717.8" y1="374.6" x2="1723.8" y2="374.6" stroke="#10407a" stroke-width="1"/><circle cx="1792.8" cy="399" r="5" fill="#2a8ef0"/><line x1="1789.8" y1="399" x2="1795.8" y2="399" stroke="#10407a" stroke-width="1"/><circle cx="1944.7" cy="327.7" r="5" fill="#2a8ef0"/><line x1="1941.7" y1="327.7" x2="1947.7" y2="327.7" stroke="#10407a" stroke-width="1"/><path d="M297 186 V195 M292 191 L297 196 L302 191" fill="none" stroke="#ff1010" stroke-width="2.5" stroke-linejoin="miter"/><path d="M401 192 V201 M396 197 L401 202 L406 197" fill="none" stroke="#ff1010" stroke-width="2.5" stroke-linejoin="miter"/><path d="M625.3 195 V204 M620.3 200 L625.3 205 L630.3 200" fill="none" stroke="#ff1010" stroke-width="2.5" stroke-linejoin="miter"/><path d="M697 163 V172 M692 168 L697 173 L702 168" fill="none" stroke="#ff1010" stroke-width="2.5" stroke-linejoin="miter"/><path d="M737.6 98.6 V110.6 M731.1 105.1 L737.6 111.6 L744.1 105.1" fill="none" stroke="#ff1010" stroke-width="3.25" stroke-linejoin="miter"/><path d="M761 160 V169 M756 165 L761 170 L766 165" fill="none" stroke="#ff1010" stroke-width="2.5" stroke-linejoin="miter"/><path d="M881 265 V274 M876 270 L881 275 L886 270" fill="none" stroke="#ff1010" stroke-width="2.5" stroke-linejoin="miter"/><path d="M1001.6 30 V42 M995.1 36.5 L1001.6 43 L1008.1 36.5" fill="none" stroke="#ff1010" stroke-width="3.25" stroke-linejoin="miter"/><path d="M1033 77.7 V86.7 M1028 82.7 L1033 87.7 L1038 82.7" fill="none" stroke="#ff1010" stroke-width="2.5" stroke-linejoin="miter"/><path d="M1177 177 V186 M1172 182 L1177 187 L1182 182" fill="none" stroke="#ff1010" stroke-width="2.5" stroke-linejoin="miter"/><path d="M1265 273 V282 M1260 278 L1265 283 L1270 278" fill="none" stroke="#ff1010" stroke-width="2.5" stroke-linejoin="miter"/><path d="M1481 192 V201 M1476 197 L1481 202 L1486 197" fill="none" stroke="#ff1010" stroke-width="2.5" stroke-linejoin="miter"/><path d="M1609 307 V316 M1604 312 L1609 317 L1614 312" fill="none" stroke="#ff1010" stroke-width="2.5" stroke-linejoin="miter"/><path d="M1705 272 V281 M1700 277 L1705 282 L1710 277" fill="none" stroke="#ff1010" stroke-width="2.5" stroke-linejoin="miter"/><path d="M1785 262 V272 M1779.5 267.5 L1785 273 L1790.5 267.5" fill="none" stroke="#ff1010" stroke-width="2.75" stroke-linejoin="miter"/><path d="M1896.4 178 V190 M1889.9 184.5 L1896.4 191 L1902.9 184.5" fill="none" stroke="#ff1010" stroke-width="3.25" stroke-linejoin="miter"/><path d="M1944.7 211 V220 M1939.7 216 L1944.7 221 L1949.7 216" fill="none" stroke="#ff1010" stroke-width="2.5" stroke-linejoin="miter"/><path d="M200.6 390 V381 M196.6 385 L200.6 380.5 L204.6 385" fill="none" stroke="#30e8f0" stroke-width="2.8"/><path d="M344.6 372.4 V363.4 M340.6 367.4 L344.6 362.9 L348.6 367.4" fill="none" stroke="#30e8f0" stroke-width="2.8"/><path d="M545 320 V311 M541 315 L545 310.5 L549 315" fill="none" stroke="#30e8f0" stroke-width="2.8"/><path d="M648.7 296 V287 M644.7 291 L648.7 286.5 L652.7 291" fill="none" stroke="#30e8f0" stroke-width="2.8"/><path d="M728.7 274.4 V265.4 M724.7 269.4 L728.7 264.9 L732.7 269.4" fill="none" stroke="#30e8f0" stroke-width="2.8"/><path d="M864.7 357.8 V348.8 M860.7 352.8 L864.7 348.3 L868.7 352.8" fill="none" stroke="#30e8f0" stroke-width="2.8"/><path d="M912.4 419.8 V410.8 M908.4 414.8 L912.4 410.3 L916.4 414.8" fill="none" stroke="#30e8f0" stroke-width="2.8"/><path d="M1167.7 379.4 V370.4 M1163.7 374.4 L1167.7 369.9 L1171.7 374.4" fill="none" stroke="#30e8f0" stroke-width="2.8"/><path d="M1240.5 363.5 V354.5 M1236.5 358.5 L1240.5 354 L1244.5 358.5" fill="none" stroke="#30e8f0" stroke-width="2.8"/><path d="M1360 507.6 V498.6 M1356 502.6 L1360 498.1 L1364 502.6" fill="none" stroke="#30e8f0" stroke-width="2.8"/><path d="M1568.7 406.2 V397.2 M1564.7 401.2 L1568.7 396.7 L1572.7 401.2" fill="none" stroke="#30e8f0" stroke-width="2.8"/><path d="M1648.7 399 V390 M1644.7 394 L1648.7 389.5 L1652.7 394" fill="none" stroke="#30e8f0" stroke-width="2.8"/><path d="M1744.5 372.7 V363.7 M1740.5 367.7 L1744.5 363.2 L1748.5 367.7" fill="none" stroke="#30e8f0" stroke-width="2.8"/><path d="M1856 400.4 V391.4 M1852 395.4 L1856 390.9 L1860 395.4" fill="none" stroke="#30e8f0" stroke-width="2.8"/><path d="M145.5 439 V428 M141 432.5 L145.5 427.5 L150 432.5" fill="none" stroke="#0c7a1c" stroke-width="3"/><path d="M896.5 442 V431 M892 435.5 L896.5 430.5 L901 435.5" fill="none" stroke="#0c7a1c" stroke-width="3"/><rect x="1302" y="488" width="37.5" height="35" fill="#2f98f0"/><circle cx="1321.2" cy="506.2" r="15.2" fill="#96d2f2"/><path d="M1321.2 492.1 L1305.9 517.7 L1321.2 509.3 Z" fill="#0808f0"/><path d="M1321.2 492.1 L1335.8 517.4 L1321.2 509.3" fill="none" stroke="#1010d0" stroke-width="1"/><path d="M1320.5 517.4 L1316.2 523 L1325.8 523 Z" fill="#0a6a1a"/><line x1="1321.2" y1="508.8" x2="1896" y2="202" stroke="#f01818" stroke-width="2.6"/><text x="73.5" y="519" font-family="Liberation Sans" font-size="12.5" fill="#2c3b50">Monday</text><text x="457.5" y="519" font-family="Liberation Sans" font-size="12.5" fill="#2c3b50">Tuesday</text><text x="841.5" y="519" font-family="Liberation Sans" font-size="12.5" fill="#2c3b50">Wednesday</text><text x="1225.5" y="519" font-family="Liberation Sans" font-size="12.5" fill="#2c3b50">Thursday</text><text x="1609.5" y="519" font-family="Liberation Sans" font-size="12.5" fill="#2c3b50">Friday</text><path d="M1953 27 L1963 27 L1958 32 Z" fill="#4a6a8a"/><text x="2085" y="70" font-family="Liberation Sans" font-size="10" fill="#3e5068">AS</text><text x="2087" y="84" font-family="Liberation Sans" font-size="10" fill="#3e5068">B</text><text x="2064" y="114" font-family="Liberation Sans" font-size="10" fill="#3e5068">HODS</text><text x="2066" y="124" font-family="Liberation Sans" font-size="10" fill="#3e5068">LODS</text><text x="2078" y="206" font-family="Liberation Sans" font-size="10" fill="#3e5068">WI</text><text x="2078" y="218" font-family="Liberation Sans" font-size="10" fill="#3e5068">WL</text><text x="2080" y="293" font-family="Liberation Sans" font-size="10" fill="#3e5068">Ca</text><text x="2077" y="365" font-family="Liberation Sans" font-size="10" fill="#3e5068">Trad</text><line x1="2063" y1="88.5" x2="2094" y2="88.5" stroke="#3a4a5e" stroke-width="1"/><line x1="2063" y1="103.5" x2="2094" y2="103.5" stroke="#3a4a5e" stroke-width="1"/><line x1="2063" y1="184.5" x2="2094" y2="184.5" stroke="#3a4a5e" stroke-width="1"/><line x1="2063" y1="196.5" x2="2094" y2="196.5" stroke="#3a4a5e" stroke-width="1"/><line x1="2063" y1="266.5" x2="2094" y2="266.5" stroke="#3a4a5e" stroke-width="1"/></g><path d="M29 32.5 L35 32.5 L32 36 Z" fill="#4a6080"/><text x="40" y="38" font-family="Liberation Sans" font-size="9.4" fill="#3a4d68">NZDCADmicro,M30</text><rect x="46" y="43" width="38" height="18" fill="#4169e1"/><text x="65" y="55.5" font-family="Liberation Sans" font-size="11" fill="#ffffff" text-anchor="middle">Hide</text><g shape-rendering="crispEdges"><rect x="40.5" y="67.5" width="49" height="19" fill="#131d26" stroke="#32465c" stroke-width="1"/><rect x="91.5" y="67.5" width="49" height="19" fill="#131d26" stroke="#32465c" stroke-width="1"/><rect x="40.5" y="88.5" width="49" height="19" fill="#131d26" stroke="#32465c" stroke-width="1"/><rect x="91.5" y="88.5" width="49" height="19" fill="#131d26" stroke="#32465c" stroke-width="1"/><rect x="40.5" y="109.5" width="49" height="19" fill="#131d26" stroke="#32465c" stroke-width="1"/><rect x="91.5" y="109.5" width="49" height="19" fill="#131d26" stroke="#32465c" stroke-width="1"/><rect x="40.5" y="130.5" width="49" height="19" fill="#078207" stroke="#30e030" stroke-width="1"/><rect x="91.5" y="130.5" width="49" height="19" fill="#131d26" stroke="#32465c" stroke-width="1"/><rect x="40.5" y="151.5" width="49" height="19" fill="#131d26" stroke="#32465c" stroke-width="1"/><rect x="91.5" y="151.5" width="49" height="19" fill="#131d26" stroke="#32465c" stroke-width="1"/><rect x="40.5" y="172.5" width="49" height="19" fill="#131d26" stroke="#32465c" stroke-width="1"/><rect x="91.5" y="172.5" width="49" height="19" fill="#131d26" stroke="#32465c" stroke-width="1"/><rect x="40.5" y="193.5" width="49" height="19" fill="#131d26" stroke="#32465c" stroke-width="1"/><rect x="91.5" y="193.5" width="49" height="19" fill="#131d26" stroke="#32465c" stroke-width="1"/><rect x="40.5" y="214.5" width="49" height="19" fill="#131d26" stroke="#32465c" stroke-width="1"/><rect x="91.5" y="214.5" width="49" height="19" fill="#131d26" stroke="#32465c" stroke-width="1"/><rect x="40.5" y="235.5" width="49" height="19" fill="#131d26" stroke="#32465c" stroke-width="1"/><rect x="91.5" y="235.5" width="49" height="19" fill="#131d26" stroke="#32465c" stroke-width="1"/><rect x="40.5" y="256.5" width="49" height="19" fill="#131d26" stroke="#32465c" stroke-width="1"/><rect x="91.5" y="256.5" width="49" height="19" fill="#131d26" stroke="#32465c" stroke-width="1"/><rect x="40.5" y="277.5" width="49" height="19" fill="#131d26" stroke="#32465c" stroke-width="1"/><rect x="91.5" y="277.5" width="49" height="19" fill="#131d26" stroke="#32465c" stroke-width="1"/><rect x="40.5" y="298.5" width="49" height="19" fill="#131d26" stroke="#32465c" stroke-width="1"/><rect x="91.5" y="298.5" width="49" height="19" fill="#131d26" stroke="#32465c" stroke-width="1"/><rect x="40.5" y="319.5" width="49" height="19" fill="#131d26" stroke="#32465c" stroke-width="1"/><rect x="91.5" y="319.5" width="49" height="19" fill="#131d26" stroke="#32465c" stroke-width="1"/><rect x="40.5" y="340.5" width="49" height="19" fill="#131d26" stroke="#32465c" stroke-width="1"/><rect x="91.5" y="340.5" width="49" height="19" fill="#131d26" stroke="#32465c" stroke-width="1"/><rect x="40.5" y="361.5" width="49" height="19" fill="#131d26" stroke="#32465c" stroke-width="1"/><rect x="91.5" y="361.5" width="49" height="19" fill="#131d26" stroke="#32465c" stroke-width="1"/><rect x="40.5" y="382.5" width="49" height="19" fill="#131d26" stroke="#32465c" stroke-width="1"/><rect x="91.5" y="382.5" width="49" height="19" fill="#131d26" stroke="#32465c" stroke-width="1"/><rect x="40.5" y="403.5" width="49" height="19" fill="#131d26" stroke="#32465c" stroke-width="1"/><rect x="91.5" y="403.5" width="49" height="19" fill="#131d26" stroke="#32465c" stroke-width="1"/><rect x="40.5" y="424.5" width="49" height="19" fill="#131d26" stroke="#32465c" stroke-width="1"/><rect x="91.5" y="424.5" width="49" height="19" fill="#131d26" stroke="#32465c" stroke-width="1"/></g><defs><clipPath id="b0_0"><rect x="41" y="68" width="48" height="18"/></clipPath><clipPath id="b0_1"><rect x="92" y="68" width="48" height="18"/></clipPath><clipPath id="b1_0"><rect x="41" y="89" width="48" height="18"/></clipPath><clipPath id="b1_1"><rect x="92" y="89" width="48" height="18"/></clipPath><clipPath id="b2_0"><rect x="41" y="110" width="48" height="18"/></clipPath><clipPath id="b2_1"><rect x="92" y="110" width="48" height="18"/></clipPath><clipPath id="b3_0"><rect x="41" y="131" width="48" height="18"/></clipPath><clipPath id="b3_1"><rect x="92" y="131" width="48" height="18"/></clipPath><clipPath id="b4_0"><rect x="41" y="152" width="48" height="18"/></clipPath><clipPath id="b4_1"><rect x="92" y="152" width="48" height="18"/></clipPath><clipPath id="b5_0"><rect x="41" y="173" width="48" height="18"/></clipPath><clipPath id="b5_1"><rect x="92" y="173" width="48" height="18"/></clipPath><clipPath id="b6_0"><rect x="41" y="194" width="48" height="18"/></clipPath><clipPath id="b6_1"><rect x="92" y="194" width="48" height="18"/></clipPath><clipPath id="b7_0"><rect x="41" y="215" width="48" height="18"/></clipPath><clipPath id="b7_1"><rect x="92" y="215" width="48" height="18"/></clipPath><clipPath id="b8_0"><rect x="41" y="236" width="48" height="18"/></clipPath><clipPath id="b8_1"><rect x="92" y="236" width="48" height="18"/></clipPath><clipPath id="b9_0"><rect x="41" y="257" width="48" height="18"/></clipPath><clipPath id="b9_1"><rect x="92" y="257" width="48" height="18"/></clipPath><clipPath id="b10_0"><rect x="41" y="278" width="48" height="18"/></clipPath><clipPath id="b10_1"><rect x="92" y="278" width="48" height="18"/></clipPath><clipPath id="b11_0"><rect x="41" y="299" width="48" height="18"/></clipPath><clipPath id="b11_1"><rect x="92" y="299" width="48" height="18"/></clipPath><clipPath id="b12_0"><rect x="41" y="320" width="48" height="18"/></clipPath><clipPath id="b12_1"><rect x="92" y="320" width="48" height="18"/></clipPath><clipPath id="b13_0"><rect x="41" y="341" width="48" height="18"/></clipPath><clipPath id="b13_1"><rect x="92" y="341" width="48" height="18"/></clipPath><clipPath id="b14_0"><rect x="41" y="362" width="48" height="18"/></clipPath><clipPath id="b14_1"><rect x="92" y="362" width="48" height="18"/></clipPath><clipPath id="b15_0"><rect x="41" y="383" width="48" height="18"/></clipPath><clipPath id="b15_1"><rect x="92" y="383" width="48" height="18"/></clipPath><clipPath id="b16_0"><rect x="41" y="404" width="48" height="18"/></clipPath><clipPath id="b16_1"><rect x="92" y="404" width="48" height="18"/></clipPath><clipPath id="b17_0"><rect x="41" y="425" width="48" height="18"/></clipPath><clipPath id="b17_1"><rect x="92" y="425" width="48" height="18"/></clipPath></defs><text x="65" y="79.9" font-family="Liberation Sans" font-size="8" fill="#3c4e6a" text-anchor="middle" clip-path="url(#b0_0)">EURUSD</text><text x="116" y="79.9" font-family="Liberation Sans" font-size="8" fill="#3c4e6a" text-anchor="middle" clip-path="url(#b0_1)">USDJPY</text><text x="65" y="100.9" font-family="Liberation Sans" font-size="8" fill="#3c4e6a" text-anchor="middle" clip-path="url(#b1_0)">EURGBP</text><text x="116" y="100.9" font-family="Liberation Sans" font-size="8" fill="#3c4e6a" text-anchor="middle" clip-path="url(#b1_1)">USDCAD</text><text x="65" y="121.9" font-family="Liberation Sans" font-size="8" fill="#3c4e6a" text-anchor="middle" clip-path="url(#b2_0)">GOLDmicro</text><text x="116" y="121.9" font-family="Liberation Sans" font-size="8" fill="#3c4e6a" text-anchor="middle" clip-path="url(#b2_1)">UDCADmicro</text><text x="65" y="142.9" font-family="Liberation Sans" font-size="8" fill="#ffffff" text-anchor="middle" clip-path="url(#b3_0)">ZDCADmicro</text><text x="116" y="142.9" font-family="Liberation Sans" font-size="8" fill="#3c4e6a" text-anchor="middle" clip-path="url(#b3_1)">AUDCAD</text><text x="65" y="163.9" font-family="Liberation Sans" font-size="8" fill="#3c4e6a" text-anchor="middle" clip-path="url(#b4_0)">AUDNZD</text><text x="116" y="163.9" font-family="Liberation Sans" font-size="8" fill="#3c4e6a" text-anchor="middle" clip-path="url(#b4_1)">EURJPY</text><text x="65" y="184.9" font-family="Liberation Sans" font-size="8" fill="#3c4e6a" text-anchor="middle" clip-path="url(#b5_0)">GBPJPY</text><text x="116" y="184.9" font-family="Liberation Sans" font-size="8" fill="#3c4e6a" text-anchor="middle" clip-path="url(#b5_1)">NZDCAD</text><text x="65" y="205.9" font-family="Liberation Sans" font-size="8" fill="#3c4e6a" text-anchor="middle" clip-path="url(#b6_0)">NZDUSD</text><text x="116" y="205.9" font-family="Liberation Sans" font-size="8" fill="#3c4e6a" text-anchor="middle" clip-path="url(#b6_1)">GBPUSD</text><text x="65" y="226.9" font-family="Liberation Sans" font-size="8" fill="#3c4e6a" text-anchor="middle" clip-path="url(#b7_0)">AUDUSD</text><text x="116" y="226.9" font-family="Liberation Sans" font-size="8" fill="#3c4e6a" text-anchor="middle" clip-path="url(#b7_1)">BTCUSD</text><text x="65" y="247.9" font-family="Liberation Sans" font-size="8" fill="#3c4e6a" text-anchor="middle" clip-path="url(#b8_0)">US100-SEP23</text><text x="116" y="247.9" font-family="Liberation Sans" font-size="8" fill="#3c4e6a" text-anchor="middle" clip-path="url(#b8_1)">US500-SEP23</text><text x="65" y="268.9" font-family="Liberation Sans" font-size="8" fill="#3c4e6a" text-anchor="middle" clip-path="url(#b9_0)">ZDUSDmicro</text><text x="116" y="268.9" font-family="Liberation Sans" font-size="8" fill="#3c4e6a" text-anchor="middle" clip-path="url(#b9_1)">SDCADmicro</text><text x="65" y="289.9" font-family="Liberation Sans" font-size="8" fill="#3c4e6a" text-anchor="middle" clip-path="url(#b10_0)">UDUSDmicro</text><text x="116" y="289.9" font-family="Liberation Sans" font-size="8" fill="#3c4e6a" text-anchor="middle" clip-path="url(#b10_1)">NZDCAD</text><text x="65" y="310.9" font-family="Liberation Sans" font-size="8" fill="#3c4e6a" text-anchor="middle" clip-path="url(#b11_0)">NZDCHF</text><text x="116" y="310.9" font-family="Liberation Sans" font-size="8" fill="#3c4e6a" text-anchor="middle" clip-path="url(#b11_1)">NZDJPY</text><text x="65" y="331.9" font-family="Liberation Sans" font-size="8" fill="#3c4e6a" text-anchor="middle" clip-path="url(#b12_0)">NZDUSD</text><text x="116" y="331.9" font-family="Liberation Sans" font-size="8" fill="#3c4e6a" text-anchor="middle" clip-path="url(#b12_1)">USDCAD</text><text x="65" y="352.9" font-family="Liberation Sans" font-size="8" fill="#3c4e6a" text-anchor="middle" clip-path="url(#b13_0)">USDCHF</text><text x="116" y="352.9" font-family="Liberation Sans" font-size="8" fill="#3c4e6a" text-anchor="middle" clip-path="url(#b13_1)">USDJPY</text><text x="65" y="373.9" font-family="Liberation Sans" font-size="8" fill="#3c4e6a" text-anchor="middle" clip-path="url(#b14_0)">XAUUSD</text><text x="116" y="373.9" font-family="Liberation Sans" font-size="8" fill="#3c4e6a" text-anchor="middle" clip-path="url(#b14_1)">XAGUSD</text><text x="65" y="394.9" font-family="Liberation Sans" font-size="8" fill="#3c4e6a" text-anchor="middle" clip-path="url(#b15_0)">US500</text><text x="116" y="394.9" font-family="Liberation Sans" font-size="8" fill="#3c4e6a" text-anchor="middle" clip-path="url(#b15_1)">US2000</text><text x="65" y="415.9" font-family="Liberation Sans" font-size="8" fill="#3c4e6a" text-anchor="middle" clip-path="url(#b16_0)">US30</text><text x="116" y="415.9" font-family="Liberation Sans" font-size="8" fill="#3c4e6a" text-anchor="middle" clip-path="url(#b16_1)">USTEC</text><text x="65" y="436.9" font-family="Liberation Sans" font-size="8" fill="#3c4e6a" text-anchor="middle" clip-path="url(#b17_0)">DXY_Z2</text><text x="116" y="436.9" font-family="Liberation Sans" font-size="8" fill="#3c4e6a" text-anchor="middle" clip-path="url(#b17_1)">VIX_V2</text><g clip-path="url(#ic)"><line x1="65.5" y1="526" x2="65.5" y2="683" stroke="#2a3a4e" stroke-width="1" stroke-dasharray="3,3"/><line x1="449.5" y1="526" x2="449.5" y2="683" stroke="#2a3a4e" stroke-width="1" stroke-dasharray="3,3"/><line x1="833.5" y1="526" x2="833.5" y2="683" stroke="#2a3a4e" stroke-width="1" stroke-dasharray="3,3"/><line x1="1217.5" y1="526" x2="1217.5" y2="683" stroke="#2a3a4e" stroke-width="1" stroke-dasharray="3,3"/><line x1="1601.5" y1="526" x2="1601.5" y2="683" stroke="#2a3a4e" stroke-width="1" stroke-dasharray="3,3"/><text x="29" y="537.5" font-family="Liberation Sans" font-size="9.25" fill="#3a4d68">M30 WaddahAttarExplosion of SLWMA (9,26,20)</text><text x="27" y="567" font-family="Liberation Sans" font-size="9.5" fill="#3a4d68">Overbought</text><text x="27" y="609" font-family="Liberation Sans" font-size="9.5" fill="#3a4d68">Middle</text><text x="27" y="651" font-family="Liberation Sans" font-size="9.5" fill="#3a4d68">Oversold</text><g shape-rendering="crispEdges"><rect x="22" y="629.4" width="7" height="52.6" fill="#0756b2"/><rect x="30" y="615" width="7" height="67" fill="#0756b2"/><rect x="38" y="610" width="7" height="72" fill="#0756b2"/><rect x="46" y="611" width="7" height="71" fill="#0756b2"/><rect x="54" y="626" width="7" height="56" fill="#0756b2"/><rect x="62" y="655" width="7" height="27" fill="#0756b2"/><rect x="70" y="660" width="7" height="22" fill="#0756b2"/><rect x="78" y="626.8" width="7" height="55.2" fill="#0756b2"/><rect x="86" y="624" width="7" height="58" fill="#0756b2"/><rect x="94" y="622.8" width="7" height="59.2" fill="#0756b2"/><rect x="102" y="660.7" width="7" height="21.3" fill="#0756b2"/><rect x="110" y="671" width="7" height="11" fill="#931266"/><rect x="118" y="642.7" width="7" height="39.3" fill="#931266"/><rect x="126" y="624" width="7" height="58" fill="#931266"/><rect x="134" y="603" width="7" height="79" fill="#931266"/><rect x="142" y="592" width="7" height="90" fill="#931266"/><rect x="150" y="603" width="7" height="79" fill="#931266"/><rect x="158" y="641" width="7" height="41" fill="#931266"/><rect x="166" y="669" width="7" height="13" fill="#931266"/><rect x="174" y="666" width="7" height="16" fill="#0756b2"/><rect x="182" y="653" width="7" height="29" fill="#0756b2"/><rect x="190" y="642" width="7" height="40" fill="#0756b2"/><rect x="198" y="629" width="7" height="53" fill="#0756b2"/><rect x="206" y="618" width="7" height="64" fill="#0756b2"/><rect x="214" y="595" width="7" height="87" fill="#0756b2"/><rect x="222" y="582" width="7" height="100" fill="#0756b2"/><rect x="230" y="553.2" width="7" height="128.8" fill="#0756b2"/><rect x="238" y="563.6" width="7" height="118.4" fill="#0756b2"/><rect x="246" y="600" width="7" height="82" fill="#0756b2"/><rect x="254" y="639" width="7" height="43" fill="#0756b2"/><rect x="262" y="657.8" width="7" height="24.2" fill="#0756b2"/><rect x="270" y="675" width="7" height="7" fill="#0756b2"/><rect x="278" y="673.8" width="7" height="8.2" fill="#0756b2"/><rect x="286" y="673" width="7" height="9" fill="#0756b2"/><rect x="294" y="657.8" width="7" height="24.2" fill="#931266"/><rect x="302" y="593.5" width="7" height="88.5" fill="#931266"/><rect x="310" y="568.5" width="7" height="113.5" fill="#931266"/><rect x="318" y="544.7" width="7" height="137.3" fill="#931266"/><rect x="326" y="551.8" width="7" height="130.2" fill="#931266"/><rect x="334" y="611" width="7" height="71" fill="#931266"/><rect x="342" y="648" width="7" height="34" fill="#0756b2"/><rect x="350" y="589" width="7" height="93" fill="#0756b2"/><rect x="358" y="590" width="7" height="92" fill="#0756b2"/><rect x="366" y="590" width="7" height="92" fill="#0756b2"/><rect x="374" y="607" width="7" height="75" fill="#0756b2"/><rect x="382" y="628" width="7" height="54" fill="#0756b2"/><rect x="390" y="673" width="7" height="9" fill="#0756b2"/><rect x="398" y="666" width="7" height="16" fill="#931266"/><rect x="406" y="630.8" width="7" height="51.2" fill="#931266"/><rect x="414" y="639" width="7" height="43" fill="#931266"/><rect x="422" y="653.4" width="7" height="28.6" fill="#931266"/><rect x="430" y="651.2" width="7" height="30.8" fill="#931266"/><rect x="438" y="651.2" width="7" height="30.8" fill="#931266"/><rect x="446" y="661.8" width="7" height="20.2" fill="#931266"/><rect x="454" y="679" width="7" height="3" fill="#931266"/><rect x="462" y="676" width="7" height="6" fill="#931266"/><rect x="470" y="672.2" width="7" height="9.8" fill="#931266"/><rect x="478" y="669" width="7" height="13" fill="#931266"/><rect x="486" y="667" width="7" height="15" fill="#931266"/><rect x="494" y="673" width="7" height="9" fill="#931266"/><rect x="502" y="661.8" width="7" height="20.2" fill="#931266"/><rect x="510" y="678" width="7" height="4" fill="#931266"/><rect x="518" y="681" width="7" height="1" fill="#0756b2"/><rect x="526" y="681" width="7" height="1" fill="#931266"/><rect x="534" y="681" width="7" height="1" fill="#0756b2"/><rect x="542" y="653.4" width="7" height="28.6" fill="#0756b2"/><rect x="550" y="636.8" width="7" height="45.2" fill="#0756b2"/><rect x="558" y="647.2" width="7" height="34.8" fill="#0756b2"/><rect x="566" y="663" width="7" height="19" fill="#0756b2"/><rect x="574" y="660" width="7" height="22" fill="#0756b2"/><rect x="582" y="657.8" width="7" height="24.2" fill="#0756b2"/><rect x="590" y="659" width="7" height="23" fill="#0756b2"/><rect x="598" y="670" width="7" height="12" fill="#0756b2"/><rect x="606" y="681" width="7" height="1" fill="#931266"/><rect x="614" y="661.8" width="7" height="20.2" fill="#931266"/><rect x="622" y="636.8" width="7" height="45.2" fill="#931266"/><rect x="630" y="648" width="7" height="34" fill="#931266"/><rect x="638" y="657.8" width="7" height="24.2" fill="#931266"/><rect x="646" y="678" width="7" height="4" fill="#0756b2"/><rect x="654" y="666.7" width="7" height="15.3" fill="#0756b2"/><rect x="662" y="655" width="7" height="27" fill="#0756b2"/><rect x="670" y="634" width="7" height="48" fill="#0756b2"/><rect x="678" y="639" width="7" height="43" fill="#0756b2"/><rect x="686" y="652.3" width="7" height="29.7" fill="#0756b2"/><rect x="694" y="650" width="7" height="32" fill="#931266"/><rect x="702" y="621.2" width="7" height="60.8" fill="#931266"/><rect x="710" y="620" width="7" height="62" fill="#931266"/><rect x="718" y="664" width="7" height="18" fill="#931266"/><rect x="726" y="639" width="7" height="43" fill="#0756b2"/><rect x="734" y="638" width="7" height="44" fill="#0756b2"/><rect x="742" y="672" width="7" height="10" fill="#0756b2"/><rect x="750" y="653.8" width="7" height="28.2" fill="#931266"/><rect x="758" y="642.7" width="7" height="39.3" fill="#931266"/><rect x="766" y="649" width="7" height="33" fill="#931266"/><rect x="774" y="647" width="7" height="35" fill="#931266"/><rect x="782" y="641.2" width="7" height="40.8" fill="#931266"/><rect x="790" y="638.3" width="7" height="43.7" fill="#931266"/><rect x="798" y="626" width="7" height="56" fill="#931266"/><rect x="806" y="630" width="7" height="52" fill="#931266"/><rect x="814" y="636" width="7" height="46" fill="#931266"/><rect x="822" y="644" width="7" height="38" fill="#931266"/><rect x="830" y="649" width="7" height="33" fill="#931266"/><rect x="838" y="669" width="7" height="13" fill="#931266"/><rect x="846" y="670" width="7" height="12" fill="#931266"/><rect x="854" y="679" width="7" height="3" fill="#931266"/><rect x="862" y="657.4" width="7" height="24.6" fill="#0756b2"/><rect x="870" y="636.8" width="7" height="45.2" fill="#0756b2"/><rect x="878" y="651.2" width="7" height="30.8" fill="#0756b2"/><rect x="886" y="661.8" width="7" height="20.2" fill="#931266"/><rect x="894" y="626.8" width="7" height="55.2" fill="#931266"/><rect x="902" y="644" width="7" height="38" fill="#931266"/><rect x="910" y="620" width="7" height="62" fill="#0756b2"/><rect x="918" y="554.7" width="7" height="127.3" fill="#0756b2"/><rect x="926" y="537.6" width="7" height="144.4" fill="#0756b2"/><rect x="934" y="565" width="7" height="117" fill="#0756b2"/><rect x="942" y="592.4" width="7" height="89.6" fill="#0756b2"/><rect x="950" y="585" width="7" height="97" fill="#0756b2"/><rect x="958" y="588" width="7" height="94" fill="#0756b2"/><rect x="966" y="591.3" width="7" height="90.7" fill="#0756b2"/><rect x="974" y="573" width="7" height="109" fill="#0756b2"/><rect x="982" y="591.3" width="7" height="90.7" fill="#0756b2"/><rect x="990" y="641.9" width="7" height="40.1" fill="#0756b2"/><rect x="998" y="635.6" width="7" height="46.4" fill="#0756b2"/><rect x="1006" y="669" width="7" height="13" fill="#0756b2"/><rect x="1014" y="672.7" width="7" height="9.3" fill="#931266"/><rect x="1022" y="625.7" width="7" height="56.3" fill="#931266"/><rect x="1030" y="593.5" width="7" height="88.5" fill="#931266"/><rect x="1038" y="569.8" width="7" height="112.2" fill="#931266"/><rect x="1046" y="547.6" width="7" height="134.4" fill="#931266"/><rect x="1054" y="544" width="7" height="138" fill="#931266"/><rect x="1062" y="553" width="7" height="129" fill="#931266"/><rect x="1070" y="555.8" width="7" height="126.2" fill="#931266"/><rect x="1078" y="534" width="7" height="148" fill="#931266"/><rect x="1086" y="561.8" width="7" height="120.2" fill="#931266"/><rect x="1094" y="610.8" width="7" height="71.2" fill="#931266"/><rect x="1102" y="680" width="7" height="2" fill="#931266"/><rect x="1110" y="653.8" width="7" height="28.2" fill="#0756b2"/><rect x="1118" y="661.8" width="7" height="20.2" fill="#0756b2"/><rect x="1126" y="680" width="7" height="2" fill="#0756b2"/><rect x="1134" y="680" width="7" height="2" fill="#931266"/><rect x="1142" y="672" width="7" height="10" fill="#0756b2"/><rect x="1150" y="675" width="7" height="7" fill="#0756b2"/><rect x="1158" y="681" width="7" height="1" fill="#0756b2"/><rect x="1166" y="653.8" width="7" height="28.2" fill="#0756b2"/><rect x="1174" y="675" width="7" height="7" fill="#0756b2"/><rect x="1182" y="665" width="7" height="17" fill="#931266"/><rect x="1190" y="666" width="7" height="16" fill="#931266"/><rect x="1198" y="677" width="7" height="5" fill="#0756b2"/><rect x="1206" y="656" width="7" height="26" fill="#0756b2"/><rect x="1214" y="674" width="7" height="8" fill="#931266"/><rect x="1222" y="675" width="7" height="7" fill="#0756b2"/><rect x="1230" y="655" width="7" height="27" fill="#0756b2"/><rect x="1238" y="637.2" width="7" height="44.8" fill="#0756b2"/><rect x="1246" y="637.2" width="7" height="44.8" fill="#0756b2"/><rect x="1254" y="659" width="7" height="23" fill="#0756b2"/><rect x="1262" y="660.7" width="7" height="21.3" fill="#931266"/><rect x="1270" y="624.6" width="7" height="57.4" fill="#931266"/><rect x="1278" y="625.7" width="7" height="56.3" fill="#931266"/><rect x="1286" y="613" width="7" height="69" fill="#931266"/><rect x="1294" y="608" width="7" height="74" fill="#931266"/><rect x="1302" y="605" width="7" height="77" fill="#931266"/><rect x="1310" y="635.2" width="7" height="46.8" fill="#931266"/><rect x="1318" y="637.9" width="7" height="44.1" fill="#931266"/><rect x="1326" y="671" width="7" height="11" fill="#931266"/><rect x="1334" y="662.3" width="7" height="19.7" fill="#0756b2"/><rect x="1342" y="626.8" width="7" height="55.2" fill="#0756b2"/><rect x="1350" y="622" width="7" height="60" fill="#0756b2"/><rect x="1358" y="608" width="7" height="74" fill="#0756b2"/><rect x="1366" y="577" width="7" height="105" fill="#0756b2"/><rect x="1374" y="577" width="7" height="105" fill="#0756b2"/><rect x="1382" y="593" width="7" height="89" fill="#0756b2"/><rect x="1390" y="604" width="7" height="78" fill="#0756b2"/><rect x="1398" y="610" width="7" height="72" fill="#0756b2"/><rect x="1406" y="616.8" width="7" height="65.2" fill="#0756b2"/><rect x="1414" y="598.6" width="7" height="83.4" fill="#0756b2"/><rect x="1422" y="577" width="7" height="105" fill="#0756b2"/><rect x="1430" y="579" width="7" height="103" fill="#0756b2"/><rect x="1438" y="612" width="7" height="70" fill="#0756b2"/><rect x="1446" y="628" width="7" height="54" fill="#0756b2"/><rect x="1454" y="651.2" width="7" height="30.8" fill="#0756b2"/><rect x="1462" y="666" width="7" height="16" fill="#0756b2"/><rect x="1470" y="678" width="7" height="4" fill="#931266"/><rect x="1478" y="622.8" width="7" height="59.2" fill="#931266"/><rect x="1486" y="554.7" width="7" height="127.3" fill="#931266"/><rect x="1494" y="548" width="7" height="134" fill="#931266"/><rect x="1502" y="570.2" width="7" height="111.8" fill="#931266"/><rect x="1510" y="588" width="7" height="94" fill="#931266"/><rect x="1518" y="620.8" width="7" height="61.2" fill="#931266"/><rect x="1526" y="636.8" width="7" height="45.2" fill="#931266"/><rect x="1534" y="640" width="7" height="42" fill="#931266"/><rect x="1542" y="639" width="7" height="43" fill="#931266"/><rect x="1550" y="655" width="7" height="27" fill="#931266"/><rect x="1558" y="679" width="7" height="3" fill="#0756b2"/><rect x="1566" y="655" width="7" height="27" fill="#0756b2"/><rect x="1574" y="660.7" width="7" height="21.3" fill="#0756b2"/><rect x="1582" y="660.7" width="7" height="21.3" fill="#0756b2"/><rect x="1590" y="673.8" width="7" height="8.2" fill="#0756b2"/><rect x="1598" y="675" width="7" height="7" fill="#0756b2"/><rect x="1606" y="666" width="7" height="16" fill="#931266"/><rect x="1614" y="679.5" width="7" height="2.5" fill="#931266"/><rect x="1622" y="673.8" width="7" height="8.2" fill="#0756b2"/><rect x="1630" y="661.8" width="7" height="20.2" fill="#0756b2"/><rect x="1638" y="663.8" width="7" height="18.2" fill="#0756b2"/><rect x="1646" y="656.7" width="7" height="25.3" fill="#0756b2"/><rect x="1654" y="650" width="7" height="32" fill="#0756b2"/><rect x="1662" y="630.8" width="7" height="51.2" fill="#0756b2"/><rect x="1670" y="624" width="7" height="58" fill="#0756b2"/><rect x="1678" y="636.8" width="7" height="45.2" fill="#0756b2"/><rect x="1686" y="667.8" width="7" height="14.2" fill="#0756b2"/><rect x="1694" y="669" width="7" height="13" fill="#931266"/><rect x="1702" y="655" width="7" height="27" fill="#931266"/><rect x="1710" y="639" width="7" height="43" fill="#931266"/><rect x="1718" y="635" width="7" height="47" fill="#931266"/><rect x="1726" y="640" width="7" height="42" fill="#931266"/><rect x="1734" y="659" width="7" height="23" fill="#931266"/><rect x="1742" y="680" width="7" height="2" fill="#931266"/><rect x="1750" y="681" width="7" height="1" fill="#0756b2"/><rect x="1758" y="661.8" width="7" height="20.2" fill="#0756b2"/><rect x="1766" y="657.2" width="7" height="24.8" fill="#0756b2"/><rect x="1774" y="657.2" width="7" height="24.8" fill="#0756b2"/><rect x="1782" y="665" width="7" height="17" fill="#931266"/><rect x="1790" y="641.2" width="7" height="40.8" fill="#931266"/><rect x="1798" y="650" width="7" height="32" fill="#931266"/><rect x="1806" y="660.7" width="7" height="21.3" fill="#931266"/><rect x="1814" y="663" width="7" height="19" fill="#931266"/><rect x="1822" y="656" width="7" height="26" fill="#931266"/><rect x="1830" y="675" width="7" height="7" fill="#931266"/><rect x="1838" y="670" width="7" height="12" fill="#931266"/><rect x="1846" y="671" width="7" height="11" fill="#0756b2"/><rect x="1854" y="629" width="7" height="53" fill="#0756b2"/><rect x="1862" y="588" width="7" height="94" fill="#0756b2"/><rect x="1870" y="578" width="7" height="104" fill="#0756b2"/><rect x="1878" y="577.6" width="7" height="104.4" fill="#0756b2"/><rect x="1886" y="615" width="7" height="67" fill="#0756b2"/><rect x="1894" y="611.3" width="7" height="70.7" fill="#0756b2"/><rect x="1902" y="653.4" width="7" height="28.6" fill="#0756b2"/><rect x="1910" y="680" width="7" height="2" fill="#0756b2"/><rect x="1918" y="648" width="7" height="34" fill="#931266"/><rect x="1926" y="634" width="7" height="48" fill="#931266"/><rect x="1934" y="629.7" width="7" height="52.3" fill="#931266"/><rect x="1942" y="600.2" width="7" height="81.8" fill="#931266"/></g><line x1="25" y1="568.5" x2="2094" y2="568.5" stroke="#5a6a80" stroke-width="1" stroke-dasharray="4,4"/><line x1="25" y1="611.5" x2="2094" y2="611.5" stroke="#5a6a80" stroke-width="1" stroke-dasharray="4,4"/><line x1="25" y1="653.5" x2="2094" y2="653.5" stroke="#5a6a80" stroke-width="1" stroke-dasharray="4,4"/><line x1="25" y1="591.5" x2="2094" y2="591.5" stroke="#b04cc8" stroke-width="1"/><path d="M24.4 647 C29.17 646 42.65 643.33 53 641 C63.35 638.67 76.5 635.08 86.5 633 C96.5 630.92 104.92 628.83 113 628.5 C121.08 628.17 127.58 629.08 135 631 C142.42 632.92 150 637.33 157.5 640 C165 642.67 172.58 646.25 180 647 C187.42 647.75 196.33 645.67 202 644.5 C207.67 643.33 209.05 642.25 214 640 C218.95 637.75 225.78 636.17 231.7 631 C237.62 625.83 242.85 614.88 249.5 609 C256.15 603.12 263.52 599.37 271.6 595.7 C279.68 592.03 290.6 587.37 298 587 C305.4 586.63 310.42 590.57 316 593.5 C321.58 596.43 326.33 602.18 331.5 604.6 C336.67 607.02 341.45 608.55 347 608 C352.55 607.45 358.88 602.8 364.8 601.3 C370.72 599.8 376.63 599 382.5 599 C388.37 599 396.08 600.73 400 601.3 C403.92 601.87 401.33 601.78 406 602.4 C410.67 603.02 418.77 604.27 428 605 C437.23 605.73 450.28 605.57 461.4 606.8 C472.52 608.03 485.43 611.1 494.7 612.4 C503.97 613.7 509.62 614.6 517 614.6 C524.38 614.6 531.67 613.5 539 612.4 C546.33 611.3 553.6 609.85 561 608 C568.4 606.15 577.23 603.17 583.4 601.3 C589.57 599.43 592.62 598.1 598 596.8 C603.38 595.5 608.32 593.13 615.7 593.5 C623.08 593.87 633.42 599 642.3 599 C651.18 599 660.88 595.5 669 593.5 C677.12 591.5 683.62 586.63 691 587 C698.38 587.37 705.88 593.87 713.3 595.7 C720.72 597.53 728.12 597.45 735.5 598 C742.88 598.55 750.95 598.08 757.6 599 C764.25 599.92 770 601.83 775.4 603.5 C780.8 605.17 783.9 606.25 790 609 C796.1 611.75 804.62 616.3 812 620 C819.38 623.7 826.88 627.3 834.3 631.2 C841.72 635.1 849.1 640.82 856.5 643.4 C863.9 645.98 871.3 645.4 878.7 646.7 C886.1 648 895.02 650.45 900.9 651.2 C906.78 651.95 908.48 654.53 914 651.2 C919.52 647.87 926.95 637.12 934 631.2 C941.05 625.28 948.88 621.23 956.3 615.7 C963.72 610.17 974.22 601.7 978.5 598 C982.78 594.3 978.42 596.1 982 593.5 C985.58 590.9 993.33 585.72 1000 582.4 C1006.67 579.08 1015.4 574.88 1022 573.6 C1028.6 572.32 1033.33 572.87 1039.6 574.7 C1045.87 576.53 1053.32 580.72 1059.6 584.6 C1065.88 588.48 1071.02 593.18 1077.3 598 C1083.58 602.82 1091.02 609.83 1097.3 613.5 C1103.58 617.17 1108.35 618.15 1115 620 C1121.65 621.85 1129.8 622.73 1137.2 624.6 C1144.6 626.47 1153.27 629.55 1159.4 631.2 C1165.53 632.85 1167.9 633.77 1174 634.5 C1180.1 635.23 1188.62 635.42 1196 635.6 C1203.38 635.78 1210.88 636.15 1218.3 635.6 C1225.72 635.05 1233.1 633.4 1240.5 632.3 C1247.9 631.2 1255.28 628.45 1262.7 629 C1270.12 629.55 1277.62 633.02 1285 635.6 C1292.38 638.18 1299.63 641.72 1307 644.5 C1314.37 647.28 1321.8 651.18 1329.2 652.3 C1336.6 653.42 1345.27 652.13 1351.4 651.2 C1357.53 650.27 1359.9 648.92 1366 646.7 C1372.1 644.48 1380.62 641.58 1388 637.9 C1395.38 634.22 1402.88 631.25 1410.3 624.6 C1417.72 617.95 1425.1 606.13 1432.5 598 C1439.9 589.87 1448.05 581.72 1454.7 575.8 C1461.35 569.88 1466.85 564.72 1472.4 562.5 C1477.95 560.28 1481.73 561.03 1488 562.5 C1494.27 563.97 1502.62 567.62 1510 571.3 C1517.38 574.98 1524.88 580.53 1532.3 584.6 C1539.72 588.67 1550.22 592.55 1554.5 595.7 C1558.78 598.85 1553.75 601.28 1558 603.5 C1562.25 605.72 1572.62 607.15 1580 609 C1587.38 610.85 1594.88 613.1 1602.3 614.6 C1609.72 616.1 1617.1 618.18 1624.5 618 C1631.9 617.82 1639.3 615.73 1646.7 613.5 C1654.1 611.27 1661.52 607.75 1668.9 604.6 C1676.28 601.45 1684.35 596.08 1691 594.6 C1697.65 593.12 1703.25 594.77 1708.8 595.7 C1714.35 596.63 1718.77 598.72 1724.3 600.2 C1729.83 601.68 1737.72 604.05 1742 604.6 C1746.28 605.15 1745 604.43 1750 603.5 C1755 602.57 1764.62 599 1772 599 C1779.38 599 1786.88 601.45 1794.3 603.5 C1801.72 605.55 1809.1 609.27 1816.5 611.3 C1823.9 613.33 1831.28 615.7 1838.7 615.7 C1846.12 615.7 1853.62 613.52 1861 611.3 C1868.38 609.08 1875.63 605.37 1883 602.4 C1890.37 599.43 1897.8 595.35 1905.2 593.5 C1912.6 591.65 1920.77 591.3 1927.4 591.3 C1934.03 591.3 1942.07 593.13 1945 593.5" fill="none" stroke="#3a9aa0" stroke-width="1" stroke-linejoin="round" stroke-linecap="round" /><path d="M24.4 650 C30.33 649 47.4 646.33 60 644 C72.6 641.67 88.33 637.67 100 636 C111.67 634.33 120 633 130 634 C140 635 150 639.67 160 642 C170 644.33 181 647.83 190 648 C199 648.17 205.67 646.83 214 643 C222.33 639.17 230.67 631.5 240 625 C249.33 618.5 260 609 270 604 C280 599 290 594.67 300 595 C310 595.33 320 604.17 330 606 C340 607.83 348.33 606.5 360 606 C371.67 605.5 388.67 602.83 400 603 C411.33 603.17 417.77 606 428 607 C438.23 608 450.28 607.67 461.4 609 C472.52 610.33 481.77 613.5 494.7 615 C507.63 616.5 526.07 619 539 618 C551.93 617 561.2 612.33 572.3 609 C583.4 605.67 597.65 600.03 605.6 598 C613.55 595.97 613.88 596.07 620 596.8 C626.12 597.53 634.13 602.58 642.3 602.4 C650.47 602.22 660.88 597.55 669 595.7 C677.12 593.85 683.62 590.92 691 591.3 C698.38 591.68 705.88 596.33 713.3 598 C720.72 599.67 728.12 600.93 735.5 601.3 C742.88 601.67 750.18 599.08 757.6 600.2 C765.02 601.32 773.33 605.42 780 608 C786.67 610.58 792.27 613.32 797.6 615.7 C802.93 618.08 805.88 618.98 812 622.3 C818.12 625.62 826.88 631.9 834.3 635.6 C841.72 639.3 849.1 642.47 856.5 644.5 C863.9 646.53 871.3 646.5 878.7 647.8 C886.1 649.1 895.02 651.73 900.9 652.3 C906.78 652.87 908.48 654.35 914 651.2 C919.52 648.05 926.95 639.13 934 633.4 C941.05 627.67 948.88 622.33 956.3 616.8 C963.72 611.27 972.95 604.45 978.5 600.2 C984.05 595.95 986.02 594.27 989.6 591.3 C993.18 588.33 995.35 584.62 1000 582.4 C1004.65 580.18 1011.27 578.37 1017.5 578 C1023.73 577.63 1030.75 578.53 1037.4 580.2 C1044.05 581.87 1050.75 584.3 1057.4 588 C1064.05 591.7 1070.65 597.78 1077.3 602.4 C1083.95 607.02 1090.27 612.38 1097.3 615.7 C1104.33 619.02 1112.12 620.45 1119.5 622.3 C1126.88 624.15 1134.22 624.77 1141.6 626.8 C1148.98 628.83 1157.13 633.03 1163.8 634.5 C1170.47 635.97 1176.23 635.18 1181.6 635.6 C1186.97 636.02 1189.88 636.77 1196 637 C1202.12 637.23 1210.88 637.6 1218.3 637 C1225.72 636.4 1233.1 634.37 1240.5 633.4 C1247.9 632.43 1255.28 630.45 1262.7 631.2 C1270.12 631.95 1277.62 635.32 1285 637.9 C1292.38 640.48 1299.63 643.93 1307 646.7 C1314.37 649.47 1321.8 653.38 1329.2 654.5 C1336.6 655.62 1344 654.7 1351.4 653.4 C1358.8 652.1 1367.5 648.93 1373.6 646.7 C1379.7 644.47 1381.88 642.95 1388 640 C1394.12 637.05 1402.88 634.9 1410.3 629 C1417.72 623.1 1425.1 612.73 1432.5 604.6 C1439.9 596.47 1447.28 586.47 1454.7 580.2 C1462.12 573.93 1471.08 569.4 1477 567 C1482.92 564.6 1484.7 563.97 1490.2 565.8 C1495.7 567.63 1502.98 574.13 1510 578 C1517.02 581.87 1524.88 585.3 1532.3 589 C1539.72 592.7 1548.95 597.23 1554.5 600.2 C1560.05 603.17 1561.35 604.77 1565.6 606.8 C1569.85 608.83 1573.88 610.92 1580 612.4 C1586.12 613.88 1594.88 614.23 1602.3 615.7 C1609.72 617.17 1617.1 621.2 1624.5 621.2 C1631.9 621.2 1639.3 618.1 1646.7 615.7 C1654.1 613.3 1661.52 609.75 1668.9 606.8 C1676.28 603.85 1683.62 599.3 1691 598 C1698.38 596.7 1705.8 597.53 1713.2 599 C1720.6 600.47 1728 604.93 1735.4 606.8 C1742.8 608.67 1751.5 610.93 1757.6 610.2 C1763.7 609.47 1765.88 603.15 1772 602.4 C1778.12 601.65 1786.88 604.03 1794.3 605.7 C1801.72 607.37 1809.1 610.35 1816.5 612.4 C1823.9 614.45 1831.28 617.82 1838.7 618 C1846.12 618.18 1853.62 616.1 1861 613.5 C1868.38 610.9 1875.63 605.55 1883 602.4 C1890.37 599.25 1897.8 596.08 1905.2 594.6 C1912.6 593.12 1920.77 593.32 1927.4 593.5 C1934.03 593.68 1942.07 595.33 1945 595.7" fill="none" stroke="#6a0a0e" stroke-width="1" stroke-linejoin="round" stroke-linecap="round" /><path d="M24.4 645 C28.67 643 42.4 634.5 50 633 C57.6 631.5 63.33 637.83 70 636 C76.67 634.17 83.92 626.17 90 622 C96.08 617.83 101.5 611.33 106.5 611 C111.5 610.67 114.42 614.33 120 620 C125.58 625.67 133.75 636.5 140 645 C146.25 653.5 151.67 667.83 157.5 671 C163.33 674.17 168.75 667.83 175 664 C181.25 660.17 188.5 651.67 195 648 C201.5 644.33 208.62 649.23 214 642 C219.38 634.77 222.5 617.1 227.3 604.6 C232.1 592.1 238.35 574.43 242.8 567 C247.25 559.57 249.57 559.83 254 560 C258.43 560.17 264.23 565 269.4 568 C274.57 571 280.23 576 285 578 C289.77 580 293.95 577.78 298 580 C302.05 582.22 305.57 585.35 309.3 591.3 C313.03 597.25 316.33 606.47 320.4 615.7 C324.47 624.93 330 640.42 333.7 646.7 C337.4 652.98 339.63 655.62 342.6 653.4 C345.57 651.18 348.17 641.9 351.5 633.4 C354.83 624.9 358.92 610.53 362.6 602.4 C366.28 594.27 370.28 588.12 373.6 584.6 C376.92 581.08 378.8 580.18 382.5 581.3 C386.2 582.42 391.88 588.18 395.8 591.3 C399.72 594.42 402.47 597.05 406 600 C409.53 602.95 411.5 607.42 417 609 C422.5 610.58 429.75 609.12 439 609.5 C448.25 609.88 461.37 609.88 472.5 611.3 C483.63 612.72 496.55 617.27 505.8 618 C515.05 618.73 521.72 617.2 528 615.7 C534.28 614.2 538 612.7 543.5 609 C549 605.3 555.08 596.63 561 593.5 C566.92 590.37 573.42 591.48 579 590.2 C584.58 588.92 591.33 587.1 594.5 585.8 C597.67 584.5 592.98 579.63 598 582.4 C603.02 585.17 617.22 596.47 624.6 602.4 C631.98 608.33 636.4 617.63 642.3 618 C648.2 618.37 654.45 610.53 660 604.6 C665.55 598.67 670.77 588.13 675.6 582.4 C680.43 576.67 684.57 569.1 689 570.2 C693.43 571.3 697.42 581.42 702.2 589 C706.98 596.58 712.9 611.25 717.7 615.7 C722.5 620.15 726.57 618.28 731 615.7 C735.43 613.12 739.13 601.68 744.3 600.2 C749.47 598.72 755.72 603.5 762 606.8 C768.28 610.1 777.33 616.3 782 620 C786.67 623.7 785 625.28 790 629 C795 632.72 804.23 636.75 812 642.3 C819.77 647.85 829.18 659.72 836.6 662.3 C844.02 664.88 850.27 661.13 856.5 657.8 C862.73 654.47 868.45 645.8 874 642.3 C879.55 638.8 884.58 635.32 889.8 636.8 C895.02 638.28 900.5 650.28 905.3 651.2 C910.1 652.12 914.15 647.5 918.6 642.3 C923.05 637.1 927.6 629.22 932 620 C936.4 610.78 940.58 594.37 945 587 C949.42 579.63 952.92 579.13 958.5 575.8 C964.08 572.47 974.58 569.58 978.5 567 C982.42 564.42 979.2 562.9 982 560.3 C984.8 557.7 989.8 551.4 995.3 551.4 C1000.8 551.4 1007.98 555.13 1015 560.3 C1022.02 565.47 1029.97 573.9 1037.4 582.4 C1044.83 590.9 1052.2 602.05 1059.6 611.3 C1067 620.55 1075.52 631.25 1081.8 637.9 C1088.08 644.55 1092.5 651.95 1097.3 651.2 C1102.1 650.45 1105.82 637.83 1110.6 633.4 C1115.38 628.97 1119.72 624.97 1126 624.6 C1132.28 624.23 1140.88 628.98 1148.3 631.2 C1155.72 633.42 1164.95 636.78 1170.5 637.9 C1176.05 639.02 1177.35 638.08 1181.6 637.9 C1185.85 637.72 1189.88 636.8 1196 636.8 C1202.12 636.8 1210.88 639.57 1218.3 637.9 C1225.72 636.23 1233.83 629.95 1240.5 626.8 C1247.17 623.65 1252.75 618.27 1258.3 619 C1263.85 619.73 1268.63 625.1 1273.8 631.2 C1278.97 637.3 1283.77 649.3 1289.3 655.6 C1294.83 661.9 1300.35 666.05 1307 669 C1313.65 671.95 1322.53 674.8 1329.2 673.3 C1335.87 671.8 1341.45 665.17 1347 660 C1352.55 654.83 1359.33 647.1 1362.5 642.3 C1365.67 637.5 1363.2 636.37 1366 631.2 C1368.8 626.03 1374.87 616.83 1379.3 611.3 C1383.73 605.77 1386.68 603.18 1392.6 598 C1398.52 592.82 1408.15 586.48 1414.8 580.2 C1421.45 573.92 1426.58 566.4 1432.5 560.3 C1438.42 554.2 1444.38 547.48 1450.3 543.6 C1456.22 539.72 1462.83 537.55 1468 537 C1473.17 536.45 1477.6 537.17 1481.3 540.3 C1485 543.43 1486.5 546.93 1490.2 555.8 C1493.9 564.67 1499.43 582.42 1503.5 593.5 C1507.57 604.58 1510.92 616.93 1514.6 622.3 C1518.28 627.67 1520.8 625.32 1525.6 625.7 C1530.4 626.08 1538 624.78 1543.4 624.6 C1548.8 624.42 1552.62 626.27 1558 624.6 C1563.38 622.93 1570.53 616.82 1575.7 614.6 C1580.87 612.38 1584.57 611.12 1589 611.3 C1593.43 611.48 1597.13 613.87 1602.3 615.7 C1607.47 617.53 1614.82 621.58 1620 622.3 C1625.18 623.02 1628.22 621.83 1633.4 620 C1638.58 618.17 1645.18 616.47 1651.1 611.3 C1657.02 606.13 1663.35 595.1 1668.9 589 C1674.45 582.9 1679.97 577.65 1684.4 574.7 C1688.83 571.75 1691.43 569.65 1695.5 571.3 C1699.57 572.95 1704.38 577.93 1708.8 584.6 C1713.22 591.27 1717.57 603.9 1722 611.3 C1726.43 618.7 1730.95 626.78 1735.4 629 C1739.85 631.22 1746.27 625.72 1748.7 624.6 C1751.13 623.48 1747.57 626 1750 622.3 C1752.43 618.6 1758.87 607.57 1763.3 602.4 C1767.73 597.23 1772.15 592.03 1776.6 591.3 C1781.05 590.57 1785.57 593.93 1790 598 C1794.43 602.07 1798.78 610.7 1803.2 615.7 C1807.62 620.7 1811.32 625.78 1816.5 628 C1821.68 630.22 1828.38 629.95 1834.3 629 C1840.22 628.05 1846.83 625.25 1852 622.3 C1857.17 619.35 1860.87 617.58 1865.3 611.3 C1869.73 605.02 1874.15 591.63 1878.6 584.6 C1883.05 577.57 1887.57 572.6 1892 569.1 C1896.43 565.6 1900.78 563.23 1905.2 563.6 C1909.62 563.97 1914.07 567.42 1918.5 571.3 C1922.93 575.18 1927.38 582.45 1931.8 586.9 C1936.22 591.35 1942.8 596.15 1945 598" fill="none" stroke="#8a0c10" stroke-width="1" stroke-linejoin="round" stroke-linecap="round" /><path d="M24.4 640 C28.67 637.5 44.07 627 50 625 C55.93 623 55.83 626.17 60 628 C64.17 629.83 68.73 639.72 75 636 C81.27 632.28 91.77 609.7 97.6 605.7 C103.43 601.7 104.6 606.28 110 612 C115.4 617.72 122.83 629.58 130 640 C137.17 650.42 146.33 670.33 153 674.5 C159.67 678.67 163.83 669.92 170 665 C176.17 660.08 182.67 652.5 190 645 C197.33 637.5 207.78 630.43 214 620 C220.22 609.57 222.68 593.57 227.3 582.4 C231.92 571.23 237.45 557.07 241.7 553 C245.95 548.93 248.92 554.38 252.8 558 C256.68 561.62 261.13 570.82 265 574.7 C268.87 578.58 271.93 581.3 276 581.3 C280.07 581.3 284.95 571.92 289.4 574.7 C293.85 577.48 298.27 588.95 302.7 598 C307.13 607.05 311.57 618.5 316 629 C320.43 639.5 324.87 658.42 329.3 661 C333.73 663.58 338.53 653.17 342.6 644.5 C346.67 635.83 350 618.58 353.7 609 C357.4 599.42 361.08 591.83 364.8 587 C368.52 582.17 372.3 580 376 580 C379.7 580 383.33 583.67 387 587 C390.67 590.33 394.33 595.22 398 600 C401.67 604.78 406.17 613.08 409 615.7 C411.83 618.32 411.83 616.48 415 615.7 C418.17 614.92 418.42 611 428 611 C437.58 611 459.53 613.25 472.5 615.7 C485.47 618.15 497.72 625.32 505.8 625.7 C513.88 626.08 515.47 620.22 521 618 C526.53 615.78 534.5 615.73 539 612.4 C543.5 609.07 544.67 602.33 548 598 C551.33 593.67 554.58 587.9 559 586.4 C563.42 584.9 569.67 589.48 574.5 589 C579.33 588.52 584.08 585.33 588 583.5 C591.92 581.67 594.83 578.92 598 578 C601.17 577.08 603.33 575.05 607 578 C610.67 580.95 614.5 587.93 620 595.7 C625.5 603.47 634.8 621.63 640 624.6 C645.2 627.57 647.12 619.78 651.2 613.5 C655.28 607.22 659.7 595.22 664.5 586.9 C669.3 578.58 675.58 566.58 680 563.6 C684.42 560.62 687.3 562.9 691 569 C694.7 575.1 698.48 589.83 702.2 600.2 C705.92 610.57 709.23 627.9 713.3 631.2 C717.37 634.5 722.53 626.83 726.6 620 C730.67 613.17 734.37 595.17 737.7 590.2 C741.03 585.23 743.28 588.17 746.6 590.2 C749.92 592.23 752.8 597.05 757.6 602.4 C762.4 607.75 770 616.77 775.4 622.3 C780.8 627.83 783.9 631.15 790 635.6 C796.1 640.05 804.62 643.63 812 649 C819.38 654.37 826.88 665.8 834.3 667.8 C841.72 669.8 850.95 665.63 856.5 661 C862.05 656.37 863.52 645.52 867.6 640 C871.68 634.48 876.93 627.9 881 627.9 C885.07 627.9 887.77 634.65 892 640 C896.23 645.35 902.33 660.35 906.4 660 C910.47 659.65 912.88 648.23 916.4 637.9 C919.92 627.57 923.8 608.53 927.5 598 C931.2 587.47 933.8 578.95 938.6 574.7 C943.4 570.45 950.77 573.98 956.3 572.5 C961.83 571.02 967.02 569.88 971.8 565.8 C976.58 561.72 981.47 550.77 985 548 C988.53 545.23 989.07 547.9 993 549.2 C996.93 550.5 1003.05 551 1008.6 555.8 C1014.15 560.6 1020.4 569.87 1026.3 578 C1032.2 586.13 1038.05 596.1 1044 604.6 C1049.95 613.1 1056.07 621.8 1062 629 C1067.93 636.2 1074.83 643.37 1079.6 647.8 C1084.37 652.23 1087.28 655.4 1090.6 655.6 C1093.92 655.8 1095.8 654.55 1099.5 649 C1103.2 643.45 1108.72 626.75 1112.8 622.3 C1116.88 617.85 1119.93 621.18 1124 622.3 C1128.07 623.42 1131.3 625.3 1137.2 629 C1143.1 632.7 1153.48 643.4 1159.4 644.5 C1165.32 645.6 1169 637.45 1172.7 635.6 C1176.4 633.75 1179.17 633.4 1181.6 633.4 C1184.03 633.4 1184.9 634.3 1187.3 635.6 C1189.7 636.9 1190.83 641 1196 641.2 C1201.17 641.4 1211.98 639.57 1218.3 636.8 C1224.62 634.03 1228.72 628.3 1233.9 624.6 C1239.08 620.9 1244.6 615.7 1249.4 614.6 C1254.2 613.5 1258.63 614.12 1262.7 618 C1266.77 621.88 1269.75 631.27 1273.8 637.9 C1277.85 644.53 1281.83 651.7 1287 657.8 C1292.17 663.9 1299.25 671.53 1304.8 674.5 C1310.35 677.47 1315.1 677.63 1320.3 675.6 C1325.5 673.57 1331.18 667.48 1336 662.3 C1340.82 657.12 1344.78 650.78 1349.2 644.5 C1353.62 638.22 1359.7 629.77 1362.5 624.6 C1365.3 619.43 1363.2 618.32 1366 613.5 C1368.8 608.68 1374.87 599.4 1379.3 595.7 C1383.73 592 1387.43 593.52 1392.6 591.3 C1397.77 589.08 1405.87 585.73 1410.3 582.4 C1414.73 579.07 1415.87 576.1 1419.2 571.3 C1422.53 566.5 1425.87 559.32 1430.3 553.6 C1434.73 547.88 1440.63 539.95 1445.8 537 C1450.97 534.05 1456.5 536.08 1461.3 535.9 C1466.1 535.72 1471.65 533.68 1474.6 535.9 C1477.55 538.12 1477.15 544.02 1479 549.2 C1480.85 554.38 1483.47 559.62 1485.7 567 C1487.93 574.38 1489.8 584.67 1492.4 593.5 C1495 602.33 1497.98 613.35 1501.3 620 C1504.62 626.65 1508.62 633.02 1512.3 633.4 C1515.98 633.78 1519.7 624.53 1523.4 622.3 C1527.1 620.07 1530.43 619.25 1534.5 620 C1538.57 620.75 1543.88 625.48 1547.8 626.8 C1551.72 628.12 1554.08 629.03 1558 627.9 C1561.92 626.77 1566.87 623.7 1571.3 620 C1575.73 616.3 1580.15 607.7 1584.6 605.7 C1589.05 603.7 1593.93 605.62 1598 608 C1602.07 610.38 1605.68 616.5 1609 620 C1612.32 623.5 1614.57 629 1617.9 629 C1621.23 629 1624.57 624.43 1629 620 C1633.43 615.57 1640.07 607.18 1644.5 602.4 C1648.93 597.62 1651.53 596.48 1655.6 591.3 C1659.67 586.12 1664.83 575.73 1668.9 571.3 C1672.97 566.87 1676.68 565.07 1680 564.7 C1683.32 564.33 1685.85 566.15 1688.8 569.1 C1691.75 572.05 1694.37 576.85 1697.7 582.4 C1701.03 587.95 1705.1 595.75 1708.8 602.4 C1712.5 609.05 1716.58 616.77 1719.9 622.3 C1723.22 627.83 1725.38 635.22 1728.7 635.6 C1732.02 635.98 1736.25 629.77 1739.8 624.6 C1743.35 619.43 1746.08 610.53 1750 604.6 C1753.92 598.67 1759.05 592.52 1763.3 589 C1767.55 585.48 1771.8 582.75 1775.5 583.5 C1779.2 584.25 1782.37 588.13 1785.5 593.5 C1788.63 598.87 1791.35 609.42 1794.3 615.7 C1797.25 621.98 1799.5 628.43 1803.2 631.2 C1806.9 633.97 1811.32 633.4 1816.5 632.3 C1821.68 631.2 1828.75 626.65 1834.3 624.6 C1839.85 622.55 1845.35 623.7 1849.8 620 C1854.25 616.3 1857.3 609.77 1861 602.4 C1864.7 595.03 1868.33 582.82 1872 575.8 C1875.67 568.78 1878.95 562.52 1883 560.3 C1887.05 558.08 1891.87 559.92 1896.3 562.5 C1900.73 565.08 1905.15 571 1909.6 575.8 C1914.05 580.6 1918.55 587.23 1923 591.3 C1927.45 595.37 1932.63 596.87 1936.3 600.2 C1939.97 603.53 1943.55 609.45 1945 611.3" fill="none" stroke="#30c0c8" stroke-width="1" stroke-linejoin="round" stroke-linecap="round" /><path d="M24.4 642 C28.47 639.9 43.62 631.5 48.8 629.4 C53.98 627.3 51.47 627.63 55.5 629.4 C59.53 631.17 67.83 640.8 73 640 C78.17 639.2 81.33 629.43 86.5 624.6 C91.67 619.77 98.82 611 104 611 C109.18 611 112.43 618.6 117.6 624.6 C122.77 630.6 129.43 639.93 135 647 C140.57 654.07 146.5 663 151 667 C155.5 671 158 672.17 162 671 C166 669.83 169.83 664.67 175 660 C180.17 655.33 187.42 647.43 193 643 C198.58 638.57 205 636.47 208.5 633.4 C212 630.33 210.92 631.25 214 624.6 C217.08 617.95 222.57 603.48 227 593.5 C231.43 583.52 236.85 570.78 240.6 564.7 C244.35 558.62 246.6 557.78 249.5 557 C252.4 556.22 254.32 557.05 258 560 C261.68 562.95 267.85 571.53 271.6 574.7 C275.35 577.87 277.53 578.53 280.5 579 C283.47 579.47 286.48 577.33 289.4 577.5 C292.32 577.67 295.07 576.25 298 580 C300.93 583.75 304 593.33 307 600 C310 606.67 312.67 612.58 316 620 C319.33 627.42 323.67 638.67 327 644.5 C330.33 650.33 333.4 653.92 336 655 C338.6 656.08 340.02 656.83 342.6 651 C345.18 645.17 348.6 629.22 351.5 620 C354.4 610.78 357.08 601.97 360 595.7 C362.92 589.43 366 585.28 369 582.4 C372 579.52 374.67 578.03 378 578.4 C381.33 578.77 385.67 581.33 389 584.6 C392.33 587.87 395.17 594.67 398 598 C400.83 601.33 402.83 601.83 406 604.6 C409.17 607.37 413.33 613.48 417 614.6 C420.67 615.72 422.5 611.67 428 611.3 C433.5 610.93 442.58 611.85 450 612.4 C457.42 612.95 465.05 613.33 472.5 614.6 C479.95 615.87 488.05 618.33 494.7 620 C501.35 621.67 506.52 625.32 512.4 624.6 C518.28 623.88 525.57 617.73 530 615.7 C534.43 613.67 535.67 614.98 539 612.4 C542.33 609.82 546.33 603.9 550 600.2 C553.67 596.5 556.92 592.13 561 590.2 C565.08 588.27 570 589.33 574.5 588.6 C579 587.87 584.08 587.2 588 585.8 C591.92 584.4 594.83 581.33 598 580.2 C601.17 579.07 603.33 577.15 607 579 C610.67 580.85 616 586.3 620 591.3 C624 596.3 627.28 603.83 631 609 C634.72 614.17 638.93 621.18 642.3 622.3 C645.67 623.42 647.5 620.5 651.2 615.7 C654.9 610.9 660.07 600.52 664.5 593.5 C668.93 586.48 673.72 578.02 677.8 573.6 C681.88 569.18 685.67 566.27 689 567 C692.33 567.73 694.47 571.37 697.8 578 C701.13 584.63 704.97 598.85 709 606.8 C713.03 614.75 717.58 625.33 722 625.7 C726.42 626.07 731.4 614.37 735.5 609 C739.6 603.63 742.92 594.97 746.6 593.5 C750.28 592.03 752.8 595.78 757.6 600.2 C762.4 604.62 770 614.47 775.4 620 C780.8 625.53 784.62 629.68 790 633.4 C795.38 637.12 800.32 637.12 807.7 642.3 C815.08 647.48 828.02 660.8 834.3 664.5 C840.58 668.2 841.7 665.08 845.4 664.5 C849.1 663.92 852.4 664.33 856.5 661 C860.6 657.67 865.58 648.92 870 644.5 C874.42 640.08 879.7 635.98 883 634.5 C886.3 633.02 886.82 633.57 889.8 635.6 C892.78 637.63 897.95 643.92 900.9 646.7 C903.85 649.48 903.82 655.98 907.5 652.3 C911.18 648.62 918.2 635.48 923 624.6 C927.8 613.72 932.63 594.77 936.3 587 C939.97 579.23 940.93 580.62 945 578 C949.07 575.38 955.87 573.52 960.7 571.3 C965.53 569.08 970.45 568.02 974 564.7 C977.55 561.38 978.83 553.8 982 551.4 C985.17 549 989.33 549.93 993 550.3 C996.67 550.67 999.17 550.1 1004 553.6 C1008.83 557.1 1016.07 564.28 1022 571.3 C1027.93 578.32 1033.7 587.58 1039.6 595.7 C1045.5 603.82 1051.5 612.23 1057.4 620 C1063.3 627.77 1069.47 636.73 1075 642.3 C1080.53 647.87 1086.88 651.73 1090.6 653.4 C1094.32 655.07 1094.33 654.88 1097.3 652.3 C1100.27 649.72 1104.7 642.7 1108.4 637.9 C1112.1 633.1 1115.43 625.72 1119.5 623.5 C1123.57 621.28 1128 622.95 1132.8 624.6 C1137.6 626.25 1143.13 630.45 1148.3 633.4 C1153.47 636.35 1159.73 641.55 1163.8 642.3 C1167.87 643.05 1169.73 639.02 1172.7 637.9 C1175.67 636.78 1179.17 635.25 1181.6 635.6 C1184.03 635.95 1183.77 639.27 1187.3 640 C1190.83 640.73 1196.52 640.73 1202.8 640 C1209.08 639.27 1218.72 638.35 1225 635.6 C1231.28 632.85 1235.33 626.63 1240.5 623.5 C1245.67 620.37 1251.57 616.62 1256 616.8 C1260.43 616.98 1263.4 619.98 1267.1 624.6 C1270.8 629.22 1274.13 638.22 1278.2 644.5 C1282.27 650.78 1286.7 657.5 1291.5 662.3 C1296.3 667.1 1301.45 671.27 1307 673.3 C1312.55 675.33 1320.37 675.42 1324.8 674.5 C1329.23 673.58 1329.9 671.13 1333.6 667.8 C1337.3 664.47 1342.55 659.48 1347 654.5 C1351.45 649.52 1357.13 643.65 1360.3 637.9 C1363.47 632.15 1362.83 625.92 1366 620 C1369.17 614.08 1374.87 606.82 1379.3 602.4 C1383.73 597.98 1387.43 597.2 1392.6 593.5 C1397.77 589.8 1405.5 585.37 1410.3 580.2 C1415.1 575.03 1417.7 568.03 1421.4 562.5 C1425.1 556.97 1428.07 551.08 1432.5 547 C1436.93 542.92 1442.82 539.85 1448 538 C1453.18 536.15 1459.53 536.43 1463.6 535.9 C1467.67 535.37 1469.45 532.95 1472.4 534.8 C1475.35 536.65 1478.37 541.63 1481.3 547 C1484.23 552.37 1487.05 557.77 1490 567 C1492.95 576.23 1495.67 592.43 1499 602.4 C1502.33 612.37 1506.67 622 1510 626.8 C1513.33 631.6 1516 631.57 1519 631.2 C1522 630.83 1524.67 626.27 1528 624.6 C1531.33 622.93 1534.95 620.83 1539 621.2 C1543.05 621.57 1549.13 625.5 1552.3 626.8 C1555.47 628.1 1554.83 629.75 1558 629 C1561.17 628.25 1566.87 625.25 1571.3 622.3 C1575.73 619.35 1580.15 613.52 1584.6 611.3 C1589.05 609.08 1594.3 608.27 1598 609 C1601.7 609.73 1603.87 613.48 1606.8 615.7 C1609.73 617.92 1612.65 620.45 1615.6 622.3 C1618.55 624.15 1621.17 627.18 1624.5 626.8 C1627.83 626.42 1631.17 623.7 1635.6 620 C1640.03 616.3 1646.3 609.77 1651.1 604.6 C1655.9 599.43 1659.97 594.55 1664.4 589 C1668.83 583.45 1674 574.8 1677.7 571.3 C1681.4 567.8 1683.63 567.43 1686.6 568 C1689.57 568.57 1691.8 569.33 1695.5 574.7 C1699.2 580.07 1704.73 592.98 1708.8 600.2 C1712.87 607.42 1716.2 612.83 1719.9 618 C1723.6 623.17 1728.05 628.82 1731 631.2 C1733.95 633.58 1734.65 634.17 1737.6 632.3 C1740.55 630.43 1746.63 622.77 1748.7 620 C1750.77 617.23 1747.57 619.75 1750 615.7 C1752.43 611.65 1758.87 600.68 1763.3 595.7 C1767.73 590.72 1772.9 586.17 1776.6 585.8 C1780.3 585.43 1782.55 589.25 1785.5 593.5 C1788.45 597.75 1790.98 605.75 1794.3 611.3 C1797.62 616.85 1801.7 623.48 1805.4 626.8 C1809.1 630.12 1812.8 630.65 1816.5 631.2 C1820.2 631.75 1823.9 630.83 1827.6 630.1 C1831.3 629.37 1835 628.1 1838.7 626.8 C1842.4 625.5 1846.08 625.27 1849.8 622.3 C1853.52 619.33 1857.3 615.65 1861 609 C1864.7 602.35 1868.33 589.4 1872 582.4 C1875.67 575.4 1879.32 570.5 1883 567 C1886.68 563.5 1890.4 561.78 1894.1 561.4 C1897.8 561.02 1901.13 561.57 1905.2 564.7 C1909.27 567.83 1914.07 575.03 1918.5 580.2 C1922.93 585.37 1927.38 591.07 1931.8 595.7 C1936.22 600.33 1942.8 605.95 1945 608" fill="none" stroke="#f0f020" stroke-width="1" stroke-linejoin="round" stroke-linecap="round" /><path d="M24 674.5 C32.17 674.5 62.58 675.08 73 674.5 C83.42 673.92 81.33 671.92 86.5 671 C91.67 670.08 96.58 669.33 104 669 C111.42 668.67 121 668.72 131 669 C141 669.28 153 670.03 164 670.7 C175 671.37 188.67 672.75 197 673 C205.33 673.25 207.5 677.32 214 672.2 C220.5 667.08 228.67 650.62 236 642.3 C243.33 633.98 250.58 628.22 258 622.3 C265.42 616.38 273.05 611.78 280.5 606.8 C287.95 601.82 296.05 594.62 302.7 592.4 C309.35 590.18 314.52 591.1 320.4 593.5 C326.28 595.9 332.07 605.32 338 606.8 C343.93 608.28 350.07 604.62 356 602.4 C361.93 600.18 367.7 596.27 373.6 593.5 C379.5 590.73 386 588.45 391.4 585.8 C396.8 583.15 399.9 579.27 406 577.6 C412.1 575.93 419.17 575.9 428 575.8 C436.83 575.7 450.1 576.27 459 577 C467.9 577.73 474.73 579.12 481.4 580.2 C488.07 581.28 493.07 582.32 499 583.5 C504.93 584.68 511.07 586.18 517 587.3 C522.93 588.42 529.1 590.25 534.6 590.2 C540.1 590.15 545.6 588.3 550 587 C554.4 585.7 556.92 583.9 561 582.4 C565.08 580.9 570 580.07 574.5 578 C579 575.93 584.08 572.58 588 570 C591.92 567.42 592.67 564.67 598 562.5 C603.33 560.33 612.62 557 620 557 C627.38 557 634.88 562.33 642.3 562.5 C649.72 562.67 656.38 560.42 664.5 558 C672.62 555.58 683.58 548.73 691 548 C698.42 547.27 702.33 551.77 709 553.6 C715.67 555.43 723.67 558.1 731 559 C738.33 559.9 745.6 557.67 753 559 C760.4 560.33 769.23 564 775.4 567 C781.57 570 783.9 571.83 790 577 C796.1 582.17 804.62 591.17 812 598 C819.38 604.83 827.63 612.83 834.3 618 C840.97 623.17 846.45 626.07 852 629 C857.55 631.93 861.67 633.2 867.6 635.6 C873.53 638 881.32 640.8 887.6 643.4 C893.88 646 899.4 651.02 905.3 651.2 C911.2 651.38 917.08 648.57 923 644.5 C928.92 640.43 934.88 632.72 940.8 626.8 C946.72 620.88 952.97 615.3 958.5 609 C964.03 602.7 970.08 594.72 974 589 C977.92 583.28 977.67 579.48 982 574.7 C986.33 569.92 994.5 564.55 1000 560.3 C1005.5 556.05 1009.5 552.35 1015 549.2 C1020.5 546.05 1027.42 542.7 1033 541.4 C1038.58 540.1 1043 540.47 1048.5 541.4 C1054 542.33 1060.42 544.23 1066 547 C1071.58 549.77 1076.42 553.2 1082 558 C1087.58 562.8 1093.25 570.8 1099.5 575.8 C1105.75 580.8 1113.22 584.3 1119.5 588 C1125.78 591.7 1130.55 594.67 1137.2 598 C1143.85 601.33 1153.27 605.23 1159.4 608 C1165.53 610.77 1167.9 611.83 1174 614.6 C1180.1 617.37 1188.62 621.1 1196 624.6 C1203.38 628.1 1210.88 633.03 1218.3 635.6 C1225.72 638.17 1233.1 638.7 1240.5 640 C1247.9 641.3 1255.28 641.73 1262.7 643.4 C1270.12 645.07 1277.62 647.6 1285 650 C1292.38 652.4 1299.63 655.47 1307 657.8 C1314.37 660.13 1321.8 662.33 1329.2 664 C1336.6 665.67 1345.27 667.17 1351.4 667.8 C1357.53 668.43 1359.9 669.1 1366 667.8 C1372.1 666.5 1380.62 663.52 1388 660 C1395.38 656.48 1402.88 653.37 1410.3 646.7 C1417.72 640.03 1425.88 628.5 1432.5 620 C1439.12 611.5 1444.45 602.87 1450 595.7 C1455.55 588.53 1460.58 581.78 1465.8 577 C1471.02 572.22 1475.77 568.67 1481.3 567 C1486.83 565.33 1492.38 566.08 1499 567 C1505.62 567.92 1513.6 570.3 1521 572.5 C1528.4 574.7 1537.23 577.98 1543.4 580.2 C1549.57 582.42 1551.9 584.5 1558 585.8 C1564.1 587.1 1572.62 587.27 1580 588 C1587.38 588.73 1594.88 589.1 1602.3 590.2 C1609.72 591.3 1617.1 593.87 1624.5 594.6 C1631.9 595.33 1639.3 596.07 1646.7 594.6 C1654.1 593.13 1661.52 589.68 1668.9 585.8 C1676.28 581.92 1684.35 574.63 1691 571.3 C1697.65 567.97 1703.25 566.17 1708.8 565.8 C1714.35 565.43 1718.77 567.62 1724.3 569.1 C1729.83 570.58 1737.72 573.4 1742 574.7 C1746.28 576 1746.45 576.9 1750 576.9 C1753.55 576.9 1758.87 575.63 1763.3 574.7 C1767.73 573.77 1772.15 571.48 1776.6 571.3 C1781.05 571.12 1784.83 571.75 1790 573.6 C1795.17 575.45 1801.7 579.08 1807.6 582.4 C1813.5 585.72 1819.5 590.17 1825.4 593.5 C1831.3 596.83 1837.83 600.73 1843 602.4 C1848.17 604.07 1851.95 604.98 1856.4 603.5 C1860.85 602.02 1864.52 598.87 1869.7 593.5 C1874.88 588.13 1881.58 577.95 1887.5 571.3 C1893.42 564.65 1899.28 558.22 1905.2 553.6 C1911.12 548.98 1917.08 546.37 1923 543.6 C1928.92 540.83 1937.03 537.73 1940.7 537 C1944.37 536.27 1944.28 538.83 1945 539.2" fill="none" stroke="#f4f43c" stroke-width="1" stroke-linejoin="round" stroke-linecap="round" stroke-dasharray="3,4"/><path d="M24.4 674.5 C32.5 674.5 63.07 675.58 73 674.5" fill="none" stroke="#d02a9e" stroke-width="2.5" stroke-linejoin="round" stroke-linecap="round"/><path d="M73 674.5 C82.93 673.42 79.9 669.67 84 668 C88.1 666.33 93.48 664.9 97.6 664.5" fill="none" stroke="#3b8ff5" stroke-width="2.5" stroke-linejoin="round" stroke-linecap="round"/><path d="M97.6 664.5 C101.72 664.1 103.13 664.85 108.7 665.6 C114.27 666.35 123.62 667.93 131 669 C138.38 670.07 145.67 671.33 153 672 C160.33 672.67 167.67 672.83 175 673 C182.33 673.17 191.42 672.87 197 673" fill="none" stroke="#d02a9e" stroke-width="2.5" stroke-linejoin="round" stroke-linecap="round"/><path d="M197 673 C202.58 673.13 205.5 675.97 208.5 673.8 C211.5 671.63 211.87 665.25 215 660 C218.13 654.75 223.03 648.97 227.3 642.3 C231.57 635.63 236.15 625.92 240.6 620 C245.05 614.08 249.2 610.47 254 606.8 C258.8 603.13 264.98 600.58 269.4 598 C273.82 595.42 277.35 593.6 280.5 591.3 C283.65 589 285.38 585.25 288.3 584.2" fill="none" stroke="#3b8ff5" stroke-width="2.5" stroke-linejoin="round" stroke-linecap="round"/><path d="M288.3 584.2 C291.22 583.15 294.5 582.7 298 585 C301.5 587.3 305.57 593.62 309.3 598 C313.03 602.38 317.07 607.43 320.4 611.3 C323.73 615.17 326.53 619.55 329.3 621.2 C332.07 622.85 334.05 623.97 337 621.2" fill="none" stroke="#d02a9e" stroke-width="2.5" stroke-linejoin="round" stroke-linecap="round"/><path d="M337 621.2 C339.95 618.43 343.17 610.3 347 604.6 C350.83 598.9 355.93 591.6 360 587 C364.07 582.4 367.28 579.42 371.4 577 C375.52 574.58 381.37 573.17 384.7 572.5" fill="none" stroke="#3b8ff5" stroke-width="2.5" stroke-linejoin="round" stroke-linecap="round"/><path d="M384.7 572.5 C388.03 571.83 388.43 572.82 391.4 573 C394.37 573.18 399.57 572.7 402.5 573.6 C405.43 574.5 405.08 578.03 409 578.4" fill="none" stroke="#d02a9e" stroke-width="2.5" stroke-linejoin="round" stroke-linecap="round"/><path d="M409 578.4 C412.92 578.77 421 575.87 426 575.8" fill="none" stroke="#3b8ff5" stroke-width="2.5" stroke-linejoin="round" stroke-linecap="round"/><path d="M426 575.8 C431 575.73 433.47 577.7 439 578 C444.53 578.3 453.62 577.05 459.2 577.6 C464.78 578.15 467.7 579.93 472.5 581.3 C477.3 582.67 483.92 584.95 488 585.8 C492.08 586.65 494.22 585.12 497 586.4 C499.78 587.68 501.37 592.9 504.7 593.5" fill="none" stroke="#d02a9e" stroke-width="2.5" stroke-linejoin="round" stroke-linecap="round"/><path d="M504.7 593.5 C508.03 594.1 513.5 590.18 517 590" fill="none" stroke="#3b8ff5" stroke-width="2.5" stroke-linejoin="round" stroke-linecap="round"/><path d="M517 590 C520.5 589.82 523.53 591.73 525.7 592.4 C527.87 593.07 528.12 593.82 530 594" fill="none" stroke="#d02a9e" stroke-width="2.5" stroke-linejoin="round" stroke-linecap="round"/><path d="M530 594 C531.88 594.18 534 595.83 537 593.5 C540 591.17 544.67 583.32 548 580 C551.33 576.68 553.33 575.27 557 573.6 C560.67 571.93 565.6 572.27 570 570 C574.4 567.73 579.32 562.73 583.4 560 C587.48 557.27 592.07 555.03 594.5 553.6 C596.93 552.17 595.58 552.13 598 551.4 C600.42 550.67 605.67 548.83 609 549.2" fill="none" stroke="#3b8ff5" stroke-width="2.5" stroke-linejoin="round" stroke-linecap="round"/><path d="M609 549.2 C612.33 549.57 615.4 550.47 618 553.6 C620.6 556.73 620.93 565.23 624.6 568 C628.27 570.77 635.57 571.12 640 570.2" fill="none" stroke="#d02a9e" stroke-width="2.5" stroke-linejoin="round" stroke-linecap="round"/><path d="M640 570.2 C644.43 569.28 647.12 565.45 651.2 562.5 C655.28 559.55 660.8 556.02 664.5 552.5 C668.2 548.98 669.7 544.17 673.4 541.4 C677.1 538.63 683.77 536.08 686.7 535.9" fill="none" stroke="#3b8ff5" stroke-width="2.5" stroke-linejoin="round" stroke-linecap="round"/><path d="M686.7 535.9 C689.63 535.72 689.15 536.98 691 540.3 C692.85 543.62 694.08 550.07 697.8 555.8 C701.52 561.53 709.27 572.83 713.3 574.7" fill="none" stroke="#d02a9e" stroke-width="2.5" stroke-linejoin="round" stroke-linecap="round"/><path d="M713.3 574.7 C717.33 576.57 719.05 570.15 722 567 C724.95 563.85 728 558.4 731 555.8 C734 553.2 737.58 552.07 740 551.4 C742.42 550.73 742.57 549.95 745.5 551.8" fill="none" stroke="#3b8ff5" stroke-width="2.5" stroke-linejoin="round" stroke-linecap="round"/><path d="M745.5 551.8 C748.43 553.65 752.62 558.13 757.6 562.5 C762.58 566.87 770.22 573.2 775.4 578 C780.58 582.8 785 587.23 788.7 591.3 C792.4 595.37 793.72 598.33 797.6 602.4 C801.48 606.47 806.6 610.9 812 615.7 C817.4 620.5 824.83 627.68 830 631.2 C835.17 634.72 838.58 634.95 843 636.8 C847.42 638.65 851.33 641.2 856.5 642.3 C861.67 643.4 869.58 642.48 874 643.4 C878.42 644.32 879.67 645.95 883 647.8 C886.33 649.65 890.67 652.83 894 654.5 C897.33 656.17 900.75 657.8 903 657.8" fill="none" stroke="#d02a9e" stroke-width="2.5" stroke-linejoin="round" stroke-linecap="round"/><path d="M903 657.8 C905.25 657.8 904.9 658.93 907.5 654.5 C910.1 650.07 914.52 638.78 918.6 631.2 C922.68 623.62 927.6 615.1 932 609 C936.4 602.9 941.33 598.67 945 594.6 C948.67 590.53 950.27 588.48 954 584.6 C957.73 580.72 963.32 575.73 967.4 571.3 C971.48 566.87 974.8 561.68 978.5 558 C982.2 554.32 985.35 551.97 989.6 549.2 C993.85 546.43 999.35 543.43 1004 541.4 C1008.65 539.37 1012.67 537.92 1017.5 537 C1022.33 536.08 1028.58 535.53 1033 535.9" fill="none" stroke="#3b8ff5" stroke-width="2.5" stroke-linejoin="round" stroke-linecap="round"/><path d="M1033 535.9 C1037.42 536.27 1040.33 536.98 1044 539.2 C1047.67 541.42 1050.55 544.95 1055 549.2 C1059.45 553.45 1066.23 559.53 1070.7 564.7 C1075.17 569.87 1078.08 575.77 1081.8 580.2 C1085.52 584.63 1090.42 589.08 1093 591.3" fill="none" stroke="#d02a9e" stroke-width="2.5" stroke-linejoin="round" stroke-linecap="round"/><path d="M1093 591.3 C1095.58 593.52 1094.37 593.32 1097.3 593.5 C1100.23 593.68 1106.9 592.03 1110.6 592.4" fill="none" stroke="#3b8ff5" stroke-width="2.5" stroke-linejoin="round" stroke-linecap="round"/><path d="M1110.6 592.4 C1114.3 592.77 1115.07 593.3 1119.5 595.7 C1123.93 598.1 1130.55 602.75 1137.2 606.8 C1143.85 610.85 1154.27 618.13 1159.4 620" fill="none" stroke="#d02a9e" stroke-width="2.5" stroke-linejoin="round" stroke-linecap="round"/><path d="M1159.4 620 C1164.53 621.87 1165.4 617.62 1168 618" fill="none" stroke="#3b8ff5" stroke-width="2.5" stroke-linejoin="round" stroke-linecap="round"/><path d="M1168 618 C1170.6 618.38 1171.78 620.28 1175 622.3 C1178.22 624.32 1181.92 627.88 1187.3 630.1 C1192.68 632.32 1202.13 633.75 1207.3 635.6 C1212.47 637.45 1212.77 640.08 1218.3 641.2 C1223.83 642.32 1234.22 641.75 1240.5 642.3 C1246.78 642.85 1251.2 643.02 1256 644.5 C1260.8 645.98 1264.47 648.98 1269.3 651.2 C1274.13 653.42 1279.45 655.58 1285 657.8 C1290.55 660.02 1297.1 662.97 1302.6 664.5 C1308.1 666.03 1311.72 666.33 1318 667 C1324.28 667.67 1332.88 668.37 1340.3 668.5 C1347.72 668.63 1358.05 669.05 1362.5 667.8" fill="none" stroke="#d02a9e" stroke-width="2.5" stroke-linejoin="round" stroke-linecap="round"/><path d="M1362.5 667.8 C1366.95 666.55 1364.58 663.03 1367 661 C1369.42 658.97 1373.5 657.23 1377 655.6 C1380.5 653.97 1383.17 654.9 1388 651.2 C1392.83 647.5 1401.17 639.68 1406 633.4 C1410.83 627.12 1412.95 620.52 1417 613.5 C1421.05 606.48 1425.87 597.38 1430.3 591.3 C1434.73 585.22 1438.82 581.43 1443.6 577 C1448.38 572.57 1454.2 568.03 1459 564.7 C1463.8 561.37 1467.23 556.45 1472.4 557" fill="none" stroke="#3b8ff5" stroke-width="2.5" stroke-linejoin="round" stroke-linecap="round"/><path d="M1472.4 557 C1477.57 557.55 1484.82 565.05 1490 568 C1495.18 570.95 1499.78 572.87 1503.5 574.7 C1507.22 576.53 1510.08 578.08 1512.3 579" fill="none" stroke="#d02a9e" stroke-width="2.5" stroke-linejoin="round" stroke-linecap="round"/><path d="M1512.3 579 C1514.52 579.92 1514.52 580 1516.8 580.2 C1519.08 580.4 1523.8 580.02 1526 580.2" fill="none" stroke="#3b8ff5" stroke-width="2.5" stroke-linejoin="round" stroke-linecap="round"/><path d="M1526 580.2 C1528.2 580.38 1527.1 580.18 1530 581.3 C1532.9 582.42 1539.68 585.05 1543.4 586.9 C1547.12 588.75 1550.08 591.4 1552.3 592.4" fill="none" stroke="#d02a9e" stroke-width="2.5" stroke-linejoin="round" stroke-linecap="round"/><path d="M1552.3 592.4 C1554.52 593.4 1554.27 593.47 1556.7 592.9 C1559.13 592.33 1563.35 589.93 1566.9 589 C1570.45 588.07 1575.05 587.65 1578 587.3" fill="none" stroke="#3b8ff5" stroke-width="2.5" stroke-linejoin="round" stroke-linecap="round"/><path d="M1578 587.3 C1580.95 586.95 1580.55 586.42 1584.6 586.9 C1588.65 587.38 1598.23 588.18 1602.3 590.2 C1606.37 592.22 1606.38 597.33 1609 599" fill="none" stroke="#d02a9e" stroke-width="2.5" stroke-linejoin="round" stroke-linecap="round"/><path d="M1609 599 C1611.62 600.67 1613.57 600.75 1618 600.2 C1622.43 599.65 1630.43 597.57 1635.6 595.7 C1640.77 593.83 1644.93 591.58 1649 589 C1653.07 586.42 1656.33 583.87 1660 580.2 C1663.67 576.53 1667.67 570.32 1671 567 C1674.33 563.68 1677.03 561.6 1680 560.3 C1682.97 559 1685.85 559.02 1688.8 559.2" fill="none" stroke="#3b8ff5" stroke-width="2.5" stroke-linejoin="round" stroke-linecap="round"/><path d="M1688.8 559.2 C1691.75 559.38 1694.37 560.1 1697.7 561.4 C1701.03 562.7 1705.1 564.23 1708.8 567 C1712.5 569.77 1716.4 575.13 1719.9 578 C1723.4 580.87 1726.85 583.47 1729.8 584.2" fill="none" stroke="#d02a9e" stroke-width="2.5" stroke-linejoin="round" stroke-linecap="round"/><path d="M1729.8 584.2 C1732.75 584.93 1734.45 583.62 1737.6 582.4 C1740.75 581.18 1744.8 579.12 1748.7 576.9 C1752.6 574.68 1756.72 571.68 1761 569.1 C1765.28 566.52 1771.62 562.68 1774.4 561.4 C1777.18 560.12 1775.85 559 1777.7 561.4" fill="none" stroke="#3b8ff5" stroke-width="2.5" stroke-linejoin="round" stroke-linecap="round"/><path d="M1777.7 561.4 C1779.55 563.8 1782.73 571 1785.5 575.8 C1788.27 580.6 1790.62 586.88 1794.3 590.2 C1797.98 593.52 1803.9 594.03 1807.6 595.7 C1811.3 597.37 1813.53 598.15 1816.5 600.2 C1819.47 602.25 1822.65 606.9 1825.4 608" fill="none" stroke="#d02a9e" stroke-width="2.5" stroke-linejoin="round" stroke-linecap="round"/><path d="M1825.4 608 C1828.15 609.1 1830.4 605.97 1833 606.8" fill="none" stroke="#3b8ff5" stroke-width="2.5" stroke-linejoin="round" stroke-linecap="round"/><path d="M1833 606.8 C1835.6 607.63 1839.33 612.07 1841 613" fill="none" stroke="#d02a9e" stroke-width="2.5" stroke-linejoin="round" stroke-linecap="round"/><path d="M1841 613 C1842.67 613.93 1841.17 614.17 1843 612.4 C1844.83 610.63 1849 607.4 1852 602.4 C1855 597.4 1857.67 589.05 1861 582.4 C1864.33 575.75 1868.33 568.03 1872 562.5 C1875.67 556.97 1878.57 553.35 1883 549.2 C1887.43 545.05 1893.05 540 1898.6 537.6 C1904.15 535.2 1910.02 535.45 1916.3 534.8 C1922.58 534.15 1932.23 533.33 1936.3 533.7" fill="none" stroke="#3b8ff5" stroke-width="2.5" stroke-linejoin="round" stroke-linecap="round"/><path d="M1936.3 533.7 C1940.37 534.07 1939.25 534.62 1940.7 537 C1942.15 539.38 1944.28 546.17 1945 548" fill="none" stroke="#d02a9e" stroke-width="2.5" stroke-linejoin="round" stroke-linecap="round"/></g><g shape-rendering="crispEdges"><rect x="25" y="683" width="1" height="4" fill="#3a4e66"/><rect x="89" y="683" width="1" height="4" fill="#3a4e66"/><rect x="153" y="683" width="1" height="4" fill="#3a4e66"/><rect x="217" y="683" width="1" height="4" fill="#3a4e66"/><rect x="281" y="683" width="1" height="4" fill="#3a4e66"/><rect x="345" y="683" width="1" height="4" fill="#3a4e66"/><rect x="409" y="683" width="1" height="4" fill="#3a4e66"/><rect x="473" y="683" width="1" height="4" fill="#3a4e66"/><rect x="537" y="683" width="1" height="4" fill="#3a4e66"/><rect x="601" y="683" width="1" height="4" fill="#3a4e66"/><rect x="665" y="683" width="1" height="4" fill="#3a4e66"/><rect x="729" y="683" width="1" height="4" fill="#3a4e66"/><rect x="793" y="683" width="1" height="4" fill="#3a4e66"/><rect x="857" y="683" width="1" height="4" fill="#3a4e66"/><rect x="921" y="683" width="1" height="4" fill="#3a4e66"/><rect x="985" y="683" width="1" height="4" fill="#3a4e66"/><rect x="1049" y="683" width="1" height="4" fill="#3a4e66"/><rect x="1113" y="683" width="1" height="4" fill="#3a4e66"/><rect x="1177" y="683" width="1" height="4" fill="#3a4e66"/><rect x="1241" y="683" width="1" height="4" fill="#3a4e66"/><rect x="1305" y="683" width="1" height="4" fill="#3a4e66"/><rect x="1369" y="683" width="1" height="4" fill="#3a4e66"/><rect x="1433" y="683" width="1" height="4" fill="#3a4e66"/><rect x="1497" y="683" width="1" height="4" fill="#3a4e66"/><rect x="1561" y="683" width="1" height="4" fill="#3a4e66"/><rect x="1625" y="683" width="1" height="4" fill="#3a4e66"/><rect x="1689" y="683" width="1" height="4" fill="#3a4e66"/><rect x="1753" y="683" width="1" height="4" fill="#3a4e66"/><rect x="1817" y="683" width="1" height="4" fill="#3a4e66"/><rect x="1881" y="683" width="1" height="4" fill="#3a4e66"/><rect x="1945" y="683" width="1" height="4" fill="#3a4e66"/></g><text x="25" y="696" font-family="Liberation Sans" font-size="9.45" fill="#485970">11 Aug 2023</text><text x="89" y="696" font-family="Liberation Sans" font-size="9.45" fill="#485970">14 Aug 01:30</text><text x="153" y="696" font-family="Liberation Sans" font-size="9.45" fill="#485970">14 Aug 05:30</text><text x="217" y="696" font-family="Liberation Sans" font-size="9.45" fill="#485970">14 Aug 09:30</text><text x="281" y="696" font-family="Liberation Sans" font-size="9.45" fill="#485970">14 Aug 13:30</text><text x="345" y="696" font-family="Liberation Sans" font-size="9.45" fill="#485970">14 Aug 17:30</text><text x="409" y="696" font-family="Liberation Sans" font-size="9.45" fill="#485970">14 Aug 21:30</text><text x="473" y="696" font-family="Liberation Sans" font-size="9.45" fill="#485970">15 Aug 01:30</text><text x="537" y="696" font-family="Liberation Sans" font-size="9.45" fill="#485970">15 Aug 05:30</text><text x="601" y="696" font-family="Liberation Sans" font-size="9.45" fill="#485970">15 Aug 09:30</text><text x="665" y="696" font-family="Liberation Sans" font-size="9.45" fill="#485970">15 Aug 13:30</text><text x="729" y="696" font-family="Liberation Sans" font-size="9.45" fill="#485970">15 Aug 17:30</text><text x="793" y="696" font-family="Liberation Sans" font-size="9.45" fill="#485970">15 Aug 21:30</text><text x="857" y="696" font-family="Liberation Sans" font-size="9.45" fill="#485970">16 Aug 01:30</text><text x="921" y="696" font-family="Liberation Sans" font-size="9.45" fill="#485970">16 Aug 05:30</text><text x="985" y="696" font-family="Liberation Sans" font-size="9.45" fill="#485970">16 Aug 09:30</text><text x="1049" y="696" font-family="Liberation Sans" font-size="9.45" fill="#485970">16 Aug 13:30</text><text x="1113" y="696" font-family="Liberation Sans" font-size="9.45" fill="#485970">16 Aug 17:30</text><text x="1177" y="696" font-family="Liberation Sans" font-size="9.45" fill="#485970">16 Aug 21:30</text><text x="1241" y="696" font-family="Liberation Sans" font-size="9.45" fill="#485970">17 Aug 01:30</text><text x="1305" y="696" font-family="Liberation Sans" font-size="9.45" fill="#485970">17 Aug 05:30</text><text x="1369" y="696" font-family="Liberation Sans" font-size="9.45" fill="#485970">17 Aug 09:30</text><text x="1433" y="696" font-family="Liberation Sans" font-size="9.45" fill="#485970">17 Aug 13:30</text><text x="1497" y="696" font-family="Liberation Sans" font-size="9.45" fill="#485970">17 Aug 17:30</text><text x="1561" y="696" font-family="Liberation Sans" font-size="9.45" fill="#485970">17 Aug 21:30</text><text x="1625" y="696" font-family="Liberation Sans" font-size="9.45" fill="#485970">18 Aug 01:30</text><text x="1689" y="696" font-family="Liberation Sans" font-size="9.45" fill="#485970">18 Aug 05:30</text><text x="1753" y="696" font-family="Liberation Sans" font-size="9.45" fill="#485970">18 Aug 09:30</text><text x="1817" y="696" font-family="Liberation Sans" font-size="9.45" fill="#485970">18 Aug 13:30</text><text x="1881" y="696" font-family="Liberation Sans" font-size="9.45" fill="#485970">18 Aug 17:30</text><text x="1945" y="696" font-family="Liberation Sans" font-size="9.45" fill="#485970">18 Aug 21:30</text><rect x="0" y="704" width="2094" height="18" fill="#f0f0f0"/><rect x="21" y="704" width="2073" height="3" fill="#ffffff"/><g shape-rendering="crispEdges"><rect x="21" y="706" width="114" height="16" fill="#f0f0f0"/><rect x="21" y="706" width="114" height="1" fill="#101010"/><rect x="21" y="706" width="1" height="16" fill="#101010"/><rect x="134" y="706" width="1" height="16" fill="#101010"/><rect x="135" y="704" width="159" height="18" fill="#ffffff"/><rect x="294" y="707" width="1800" height="15" fill="#f0f0f0"/><rect x="293" y="706" width="1801" height="1" fill="#101010"/><rect x="293" y="706" width="1" height="16" fill="#101010"/><rect x="454" y="709" width="1" height="13" fill="#505050"/><rect x="615" y="709" width="1" height="13" fill="#505050"/><rect x="755" y="709" width="1" height="13" fill="#505050"/><rect x="895" y="709" width="1" height="13" fill="#505050"/><rect x="1035" y="709" width="1" height="13" fill="#505050"/><rect x="1167" y="709" width="1" height="13" fill="#505050"/><rect x="1299" y="709" width="1" height="13" fill="#505050"/><rect x="1443" y="709" width="1" height="13" fill="#505050"/><rect x="1586" y="709" width="1" height="13" fill="#505050"/><rect x="1697" y="709" width="1" height="13" fill="#505050"/><rect x="1857" y="709" width="1" height="13" fill="#505050"/><rect x="2014" y="709" width="1" height="13" fill="#505050"/></g><text x="38" y="725.5" font-family="Liberation Sans" font-size="15.5" fill="#7a7a7a">EURUSD M5</text><text x="214.5" y="725.5" font-family="Liberation Sans" font-size="15.5" fill="#000000" text-anchor="middle">NZDCADmicro M30</text><text x="374.0" y="725.5" font-family="Liberation Sans" font-size="15.5" fill="#7a7a7a" text-anchor="middle">NZDCADmicro M15</text><text x="534.5" y="725.5" font-family="Liberation Sans" font-size="15.5" fill="#7a7a7a" text-anchor="middle">AUDCADmicro M15</text><text x="685.0" y="725.5" font-family="Liberation Sans" font-size="15.5" fill="#7a7a7a" text-anchor="middle">GOLDmicro M15</text><text x="825.0" y="725.5" font-family="Liberation Sans" font-size="15.5" fill="#7a7a7a" text-anchor="middle">GOLDmicro M30</text><text x="965.0" y="725.5" font-family="Liberation Sans" font-size="15.5" fill="#7a7a7a" text-anchor="middle">GOLDmicro M15</text><text x="1101.0" y="725.5" font-family="Liberation Sans" font-size="15.5" fill="#7a7a7a" text-anchor="middle">GOLDmicro M5</text><text x="1233.0" y="725.5" font-family="Liberation Sans" font-size="15.5" fill="#7a7a7a" text-anchor="middle">GOLDmicro M5</text><text x="1371.0" y="725.5" font-family="Liberation Sans" font-size="15.5" fill="#7a7a7a" text-anchor="middle">US100-SEP23 M5</text><text x="1514.5" y="725.5" font-family="Liberation Sans" font-size="15.5" fill="#7a7a7a" text-anchor="middle">US500-SEP23 H1</text><text x="1641.5" y="725.5" font-family="Liberation Sans" font-size="15.5" fill="#7a7a7a" text-anchor="middle">EURUSD M5</text><text x="1777.0" y="725.5" font-family="Liberation Sans" font-size="15.5" fill="#7a7a7a" text-anchor="middle">NZDCADmicro M30</text><text x="1935.5" y="725.5" font-family="Liberation Sans" font-size="15.5" fill="#7a7a7a" text-anchor="middle">NZDCADmicro M30</text><rect x="65.5" y="0" width="25" height="20" fill="#f7f7f7"/><rect x="65" y="0" width="1" height="21" fill="#a0a0a0"/><rect x="232" y="0" width="1" height="21" fill="#a0a0a0"/><text x="14.3" y="13.8" font-family="Liberation Sans" font-size="9.3" fill="#1a1a1a">M5</text><text x="40" y="13.8" font-family="Liberation Sans" font-size="9.3" fill="#1a1a1a">M15</text><text x="68" y="13.8" font-family="Liberation Sans" font-size="9.3" fill="#1a1a1a">M30</text><text x="99" y="13.8" font-family="Liberation Sans" font-size="9.3" fill="#1a1a1a">H1</text><text x="127" y="13.8" font-family="Liberation Sans" font-size="9.3" fill="#1a1a1a">H4</text><text x="155" y="13.8" font-family="Liberation Sans" font-size="9.3" fill="#1a1a1a">D1</text><text x="183" y="13.8" font-family="Liberation Sans" font-size="9.3" fill="#1a1a1a">W1</text><text x="210" y="13.8" font-family="Liberation Sans" font-size="9.3" fill="#1a1a1a">MN</text><g stroke-width="1" fill="none"><path d="M1 27 H18" stroke="#9a9a9a" stroke-dasharray="1,1" stroke-width="3"/><line x1="0" y1="57.5" x2="18" y2="57.5" stroke="#b8b8b8"/><line x1="0" y1="109.5" x2="18" y2="109.5" stroke="#b8b8b8"/><line x1="0" y1="190.5" x2="18" y2="190.5" stroke="#b8b8b8"/><line x1="0" y1="194.5" x2="18" y2="194.5" stroke="#b8b8b8"/><line x1="0" y1="218.5" x2="18" y2="218.5" stroke="#b8b8b8"/><line x1="0" y1="246.5" x2="18" y2="246.5" stroke="#b8b8b8"/><line x1="0" y1="326.5" x2="18" y2="326.5" stroke="#b8b8b8"/><path d="M2.5 38 V50 M0 48.5 H13 M11 46.5 L13 48.5 L11 50.5" stroke="#202020"/><path d="M7.5 47 V40 M7.5 41 H9.5 M7.5 46 H5.5" stroke="#10a010" stroke-width="1.2"/><rect x="2" y="59" width="16" height="19" fill="#f8f8f8" stroke="#d8d8d8" stroke-dasharray="1,1"/><path d="M2.5 61 V76 M0 74.5 H13 M11 72.5 L13 74.5 L11 76.5" stroke="#202020"/><rect x="5.5" y="63.5" width="3.5" height="8" fill="#10c010" stroke="#086008"/><path d="M7.2 61.5 V74" stroke="#086008"/><path d="M2.5 88 V101 M0 99.5 H13 M11 97.5 L13 99.5 L11 101.5" stroke="#202020"/><path d="M1 96 Q5 88 11 95" stroke="#10a010" stroke-width="1.2"/><circle cx="4.5" cy="121.5" r="4" fill="#d8ecf8" stroke="#3a7ab0"/><path d="M2.5 121.5 H6.5 M4.5 119.5 V123.5" stroke="#2060a0"/><path d="M7.5 124.5 L12 129" stroke="#c0a020" stroke-width="2.2"/><circle cx="4.5" cy="146.5" r="4" fill="#d8ecf8" stroke="#3a7ab0"/><path d="M2.5 146.5 H6.5" stroke="#2060a0"/><path d="M7.5 149.5 L12 154" stroke="#c0a020" stroke-width="2.2"/><rect x="0.5" y="167.5" width="6" height="7" fill="#3a9a3a"/><rect x="7.5" y="167.5" width="6" height="7" fill="#2a5ab0"/><rect x="0.5" y="175.5" width="6" height="7" fill="#2a5ab0"/><rect x="7.5" y="175.5" width="6" height="7" fill="#3a9a3a"/><path d="M1.5 170.5 H5.5 M8.5 170.5 H12.5 M1.5 178.5 H5.5 M8.5 178.5 H12.5" stroke="#e8f0f8"/><path d="M2.5 199 V212 M0 210.5 H13 M11 208.5 L13 210.5 L11 212.5" stroke="#202020"/><path d="M7 201 L10.5 204.5 L7 208 Z" fill="#10b010" stroke="#10a010"/><path d="M2.5 224 V237 M0 235.5 H13 M11 233.5 L13 235.5 L11 237.5" stroke="#202020"/><path d="M7.5 224 V234" stroke="#3a6a9a"/><path d="M12 229 H9 M10.5 227.5 L9 229 L10.5 230.5" stroke="#c04010"/><path d="M1.5 255.5 H7 L9.5 258 V266 H1.5 Z" fill="#ffffff" stroke="#404040"/><path d="M8 262 V272 M3 267 H13" stroke="#20c020" stroke-width="3"/><circle cx="4.5" cy="287.5" r="6" fill="#ffffff" stroke="#1a5ab0" stroke-width="2"/><path d="M4.5 284 V287.5 H7" stroke="#303030"/><rect x="0.5" y="305.5" width="12" height="13" fill="#f4f8fc" stroke="#3a6aa0"/><path d="M1 310 L4 308 L7 310 L11 307 M1 316 L4 313 L7 315 L11 312" stroke="#c04020"/></g></svg>
</body></html>
